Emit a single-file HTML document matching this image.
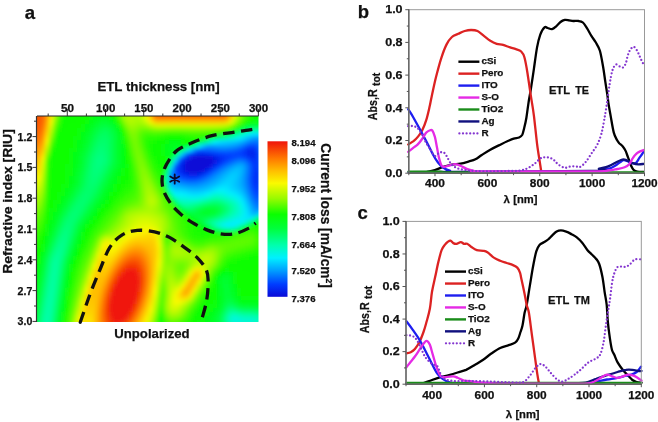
<!DOCTYPE html>
<html><head><meta charset="utf-8"><style>
html,body{margin:0;padding:0;background:#fff;}
svg{display:block;will-change:transform;}
text{font-family:"Liberation Sans",sans-serif;font-weight:bold;fill:#111;stroke:#111;stroke-width:0.25px;}
.ast{font-size:17px;font-weight:normal;}
</style></head><body>
<svg width="658" height="422" viewBox="0 0 658 422">
<defs>
<clipPath id="hc"><rect x="37" y="116" width="221.5" height="206"/></clipPath>
<filter id="bl" x="-5%" y="-5%" width="110%" height="110%"><feGaussianBlur stdDeviation="2.2"/></filter>
</defs>
<rect width="658" height="422" fill="#fff"/>
<g clip-path="url(#hc)"><g filter="url(#bl)"><rect x="29" y="108" width="4.5" height="4.5" fill="#f95303"/><rect x="33" y="108" width="4.5" height="4.5" fill="#f95303"/><rect x="37" y="108" width="4.5" height="4.5" fill="#f95403"/><rect x="41" y="108" width="4.5" height="4.5" fill="#fb6302"/><rect x="45" y="108" width="4.5" height="4.5" fill="#ff9500"/><rect x="49" y="108" width="4.5" height="4.5" fill="#fbe400"/><rect x="53" y="108" width="4.5" height="4.5" fill="#acfa00"/><rect x="57" y="108" width="4.5" height="4.5" fill="#4afc00"/><rect x="61" y="108" width="4.5" height="4.5" fill="#1afe00"/><rect x="65" y="108" width="4.5" height="4.5" fill="#0dfe00"/><rect x="69" y="108" width="4.5" height="4.5" fill="#0bfe00"/><rect x="73" y="108" width="4.5" height="4.5" fill="#0bfe00"/><rect x="77" y="108" width="4.5" height="4.5" fill="#0bfe00"/><rect x="81" y="108" width="4.5" height="4.5" fill="#09ff00"/><rect x="85" y="108" width="4.5" height="4.5" fill="#09ff02"/><rect x="89" y="108" width="4.5" height="4.5" fill="#09ff04"/><rect x="93" y="108" width="4.5" height="4.5" fill="#08ff08"/><rect x="97" y="108" width="4.5" height="4.5" fill="#08ff0a"/><rect x="101" y="108" width="4.5" height="4.5" fill="#08ff0b"/><rect x="105" y="108" width="4.5" height="4.5" fill="#08ff09"/><rect x="109" y="108" width="4.5" height="4.5" fill="#09ff02"/><rect x="113" y="108" width="4.5" height="4.5" fill="#2bfd00"/><rect x="117" y="108" width="4.5" height="4.5" fill="#64fb00"/><rect x="121" y="108" width="4.5" height="4.5" fill="#94fa00"/><rect x="125" y="108" width="4.5" height="4.5" fill="#9afa00"/><rect x="129" y="108" width="4.5" height="4.5" fill="#8afa00"/><rect x="133" y="108" width="4.5" height="4.5" fill="#7ffa00"/><rect x="137" y="108" width="4.5" height="4.5" fill="#89fa00"/><rect x="141" y="108" width="4.5" height="4.5" fill="#a3fa00"/><rect x="145" y="108" width="4.5" height="4.5" fill="#cefa00"/><rect x="149" y="108" width="4.5" height="4.5" fill="#fbe700"/><rect x="153" y="108" width="4.5" height="4.5" fill="#ffb300"/><rect x="157" y="108" width="4.5" height="4.5" fill="#ffa300"/><rect x="161" y="108" width="4.5" height="4.5" fill="#ffa400"/><rect x="165" y="108" width="4.5" height="4.5" fill="#ffa500"/><rect x="169" y="108" width="4.5" height="4.5" fill="#ffa600"/><rect x="173" y="108" width="4.5" height="4.5" fill="#ffa600"/><rect x="177" y="108" width="4.5" height="4.5" fill="#ffa600"/><rect x="181" y="108" width="4.5" height="4.5" fill="#ffa600"/><rect x="185" y="108" width="4.5" height="4.5" fill="#ffa600"/><rect x="189" y="108" width="4.5" height="4.5" fill="#ffa600"/><rect x="193" y="108" width="4.5" height="4.5" fill="#ffa600"/><rect x="197" y="108" width="4.5" height="4.5" fill="#ffa600"/><rect x="201" y="108" width="4.5" height="4.5" fill="#ffa600"/><rect x="205" y="108" width="4.5" height="4.5" fill="#ffa600"/><rect x="209" y="108" width="4.5" height="4.5" fill="#ffa600"/><rect x="213" y="108" width="4.5" height="4.5" fill="#ffa600"/><rect x="217" y="108" width="4.5" height="4.5" fill="#ffa600"/><rect x="221" y="108" width="4.5" height="4.5" fill="#ffa600"/><rect x="225" y="108" width="4.5" height="4.5" fill="#ffb800"/><rect x="229" y="108" width="4.5" height="4.5" fill="#fbec00"/><rect x="233" y="108" width="4.5" height="4.5" fill="#c2fa00"/><rect x="237" y="108" width="4.5" height="4.5" fill="#87fa00"/><rect x="241" y="108" width="4.5" height="4.5" fill="#57fc00"/><rect x="245" y="108" width="4.5" height="4.5" fill="#38fd00"/><rect x="249" y="108" width="4.5" height="4.5" fill="#23fe00"/><rect x="253" y="108" width="4.5" height="4.5" fill="#16fe00"/><rect x="257" y="108" width="4.5" height="4.5" fill="#0ffe00"/><rect x="261" y="108" width="4.5" height="4.5" fill="#0bfe00"/><rect x="265" y="108" width="4.5" height="4.5" fill="#0afe00"/><rect x="29" y="112" width="4.5" height="4.5" fill="#f95303"/><rect x="33" y="112" width="4.5" height="4.5" fill="#f95303"/><rect x="37" y="112" width="4.5" height="4.5" fill="#f95403"/><rect x="41" y="112" width="4.5" height="4.5" fill="#fb6302"/><rect x="45" y="112" width="4.5" height="4.5" fill="#ff9500"/><rect x="49" y="112" width="4.5" height="4.5" fill="#fbe400"/><rect x="53" y="112" width="4.5" height="4.5" fill="#acfa00"/><rect x="57" y="112" width="4.5" height="4.5" fill="#4afc00"/><rect x="61" y="112" width="4.5" height="4.5" fill="#1afe00"/><rect x="65" y="112" width="4.5" height="4.5" fill="#0efe00"/><rect x="69" y="112" width="4.5" height="4.5" fill="#0cfe00"/><rect x="73" y="112" width="4.5" height="4.5" fill="#0cfe00"/><rect x="77" y="112" width="4.5" height="4.5" fill="#0cfe00"/><rect x="81" y="112" width="4.5" height="4.5" fill="#09ff00"/><rect x="85" y="112" width="4.5" height="4.5" fill="#09ff03"/><rect x="89" y="112" width="4.5" height="4.5" fill="#08ff07"/><rect x="93" y="112" width="4.5" height="4.5" fill="#08ff0b"/><rect x="97" y="112" width="4.5" height="4.5" fill="#07ff10"/><rect x="101" y="112" width="4.5" height="4.5" fill="#07ff11"/><rect x="105" y="112" width="4.5" height="4.5" fill="#07ff0f"/><rect x="109" y="112" width="4.5" height="4.5" fill="#09ff05"/><rect x="113" y="112" width="4.5" height="4.5" fill="#24fe00"/><rect x="117" y="112" width="4.5" height="4.5" fill="#61fb00"/><rect x="121" y="112" width="4.5" height="4.5" fill="#9afa00"/><rect x="125" y="112" width="4.5" height="4.5" fill="#aefa00"/><rect x="129" y="112" width="4.5" height="4.5" fill="#a8fa00"/><rect x="133" y="112" width="4.5" height="4.5" fill="#a0fa00"/><rect x="137" y="112" width="4.5" height="4.5" fill="#a6fa00"/><rect x="141" y="112" width="4.5" height="4.5" fill="#c0fa00"/><rect x="145" y="112" width="4.5" height="4.5" fill="#f5fa00"/><rect x="149" y="112" width="4.5" height="4.5" fill="#ffbc00"/><rect x="153" y="112" width="4.5" height="4.5" fill="#fe7200"/><rect x="157" y="112" width="4.5" height="4.5" fill="#fb5d02"/><rect x="161" y="112" width="4.5" height="4.5" fill="#fb5f02"/><rect x="165" y="112" width="4.5" height="4.5" fill="#fb6002"/><rect x="169" y="112" width="4.5" height="4.5" fill="#fb6102"/><rect x="173" y="112" width="4.5" height="4.5" fill="#fb6102"/><rect x="177" y="112" width="4.5" height="4.5" fill="#fb6202"/><rect x="181" y="112" width="4.5" height="4.5" fill="#fb6202"/><rect x="185" y="112" width="4.5" height="4.5" fill="#fb6202"/><rect x="189" y="112" width="4.5" height="4.5" fill="#fb6202"/><rect x="193" y="112" width="4.5" height="4.5" fill="#fb6202"/><rect x="197" y="112" width="4.5" height="4.5" fill="#fb6202"/><rect x="201" y="112" width="4.5" height="4.5" fill="#fb6202"/><rect x="205" y="112" width="4.5" height="4.5" fill="#fb6202"/><rect x="209" y="112" width="4.5" height="4.5" fill="#fb6202"/><rect x="213" y="112" width="4.5" height="4.5" fill="#fb6202"/><rect x="217" y="112" width="4.5" height="4.5" fill="#fb6202"/><rect x="221" y="112" width="4.5" height="4.5" fill="#fb6202"/><rect x="225" y="112" width="4.5" height="4.5" fill="#ff7900"/><rect x="229" y="112" width="4.5" height="4.5" fill="#fec500"/><rect x="233" y="112" width="4.5" height="4.5" fill="#e2fa00"/><rect x="237" y="112" width="4.5" height="4.5" fill="#9dfa00"/><rect x="241" y="112" width="4.5" height="4.5" fill="#65fb00"/><rect x="245" y="112" width="4.5" height="4.5" fill="#3ffd00"/><rect x="249" y="112" width="4.5" height="4.5" fill="#27fd00"/><rect x="253" y="112" width="4.5" height="4.5" fill="#17fe00"/><rect x="257" y="112" width="4.5" height="4.5" fill="#0efe00"/><rect x="261" y="112" width="4.5" height="4.5" fill="#0afe00"/><rect x="265" y="112" width="4.5" height="4.5" fill="#09ff00"/><rect x="29" y="116" width="4.5" height="4.5" fill="#f95303"/><rect x="33" y="116" width="4.5" height="4.5" fill="#f95303"/><rect x="37" y="116" width="4.5" height="4.5" fill="#f95403"/><rect x="41" y="116" width="4.5" height="4.5" fill="#fc6401"/><rect x="45" y="116" width="4.5" height="4.5" fill="#ff9900"/><rect x="49" y="116" width="4.5" height="4.5" fill="#fbeb00"/><rect x="53" y="116" width="4.5" height="4.5" fill="#a2fa00"/><rect x="57" y="116" width="4.5" height="4.5" fill="#41fd00"/><rect x="61" y="116" width="4.5" height="4.5" fill="#17fe00"/><rect x="65" y="116" width="4.5" height="4.5" fill="#0dfe00"/><rect x="69" y="116" width="4.5" height="4.5" fill="#0cfe00"/><rect x="73" y="116" width="4.5" height="4.5" fill="#0cfe00"/><rect x="77" y="116" width="4.5" height="4.5" fill="#0bfe00"/><rect x="81" y="116" width="4.5" height="4.5" fill="#09ff01"/><rect x="85" y="116" width="4.5" height="4.5" fill="#08ff06"/><rect x="89" y="116" width="4.5" height="4.5" fill="#07ff0c"/><rect x="93" y="116" width="4.5" height="4.5" fill="#06ff13"/><rect x="97" y="116" width="4.5" height="4.5" fill="#05ff1a"/><rect x="101" y="116" width="4.5" height="4.5" fill="#05ff1d"/><rect x="105" y="116" width="4.5" height="4.5" fill="#05ff1b"/><rect x="109" y="116" width="4.5" height="4.5" fill="#07ff11"/><rect x="113" y="116" width="4.5" height="4.5" fill="#0dfe00"/><rect x="117" y="116" width="4.5" height="4.5" fill="#4bfc00"/><rect x="121" y="116" width="4.5" height="4.5" fill="#92fa00"/><rect x="125" y="116" width="4.5" height="4.5" fill="#b3fa00"/><rect x="129" y="116" width="4.5" height="4.5" fill="#b6fa00"/><rect x="133" y="116" width="4.5" height="4.5" fill="#aefa00"/><rect x="137" y="116" width="4.5" height="4.5" fill="#b0fa00"/><rect x="141" y="116" width="4.5" height="4.5" fill="#c5fa00"/><rect x="145" y="116" width="4.5" height="4.5" fill="#f4fa00"/><rect x="149" y="116" width="4.5" height="4.5" fill="#fec300"/><rect x="153" y="116" width="4.5" height="4.5" fill="#ff8000"/><rect x="157" y="116" width="4.5" height="4.5" fill="#fd6e00"/><rect x="161" y="116" width="4.5" height="4.5" fill="#fd7000"/><rect x="165" y="116" width="4.5" height="4.5" fill="#fe7100"/><rect x="169" y="116" width="4.5" height="4.5" fill="#fe7200"/><rect x="173" y="116" width="4.5" height="4.5" fill="#fe7300"/><rect x="177" y="116" width="4.5" height="4.5" fill="#fe7300"/><rect x="181" y="116" width="4.5" height="4.5" fill="#fe7300"/><rect x="185" y="116" width="4.5" height="4.5" fill="#fe7300"/><rect x="189" y="116" width="4.5" height="4.5" fill="#fe7300"/><rect x="193" y="116" width="4.5" height="4.5" fill="#fe7300"/><rect x="197" y="116" width="4.5" height="4.5" fill="#fe7400"/><rect x="201" y="116" width="4.5" height="4.5" fill="#fe7400"/><rect x="205" y="116" width="4.5" height="4.5" fill="#fe7400"/><rect x="209" y="116" width="4.5" height="4.5" fill="#fe7400"/><rect x="213" y="116" width="4.5" height="4.5" fill="#fe7400"/><rect x="217" y="116" width="4.5" height="4.5" fill="#fe7400"/><rect x="221" y="116" width="4.5" height="4.5" fill="#fe7400"/><rect x="225" y="116" width="4.5" height="4.5" fill="#ff8900"/><rect x="229" y="116" width="4.5" height="4.5" fill="#fdcd00"/><rect x="233" y="116" width="4.5" height="4.5" fill="#dcfa00"/><rect x="237" y="116" width="4.5" height="4.5" fill="#9afa00"/><rect x="241" y="116" width="4.5" height="4.5" fill="#61fb00"/><rect x="245" y="116" width="4.5" height="4.5" fill="#3afd00"/><rect x="249" y="116" width="4.5" height="4.5" fill="#1ffe00"/><rect x="253" y="116" width="4.5" height="4.5" fill="#0efe00"/><rect x="257" y="116" width="4.5" height="4.5" fill="#09ff02"/><rect x="261" y="116" width="4.5" height="4.5" fill="#09ff04"/><rect x="265" y="116" width="4.5" height="4.5" fill="#09ff04"/><rect x="29" y="120" width="4.5" height="4.5" fill="#f95503"/><rect x="33" y="120" width="4.5" height="4.5" fill="#f95503"/><rect x="37" y="120" width="4.5" height="4.5" fill="#fa5603"/><rect x="41" y="120" width="4.5" height="4.5" fill="#fc6901"/><rect x="45" y="120" width="4.5" height="4.5" fill="#ffa500"/><rect x="49" y="120" width="4.5" height="4.5" fill="#f8fa00"/><rect x="53" y="120" width="4.5" height="4.5" fill="#89fa00"/><rect x="57" y="120" width="4.5" height="4.5" fill="#30fd00"/><rect x="61" y="120" width="4.5" height="4.5" fill="#11fe00"/><rect x="65" y="120" width="4.5" height="4.5" fill="#0cfe00"/><rect x="69" y="120" width="4.5" height="4.5" fill="#0bfe00"/><rect x="73" y="120" width="4.5" height="4.5" fill="#0afe00"/><rect x="77" y="120" width="4.5" height="4.5" fill="#09ff01"/><rect x="81" y="120" width="4.5" height="4.5" fill="#09ff05"/><rect x="85" y="120" width="4.5" height="4.5" fill="#08ff0b"/><rect x="89" y="120" width="4.5" height="4.5" fill="#06ff14"/><rect x="93" y="120" width="4.5" height="4.5" fill="#04ff1f"/><rect x="97" y="120" width="4.5" height="4.5" fill="#03ff29"/><rect x="101" y="120" width="4.5" height="4.5" fill="#02ff2e"/><rect x="105" y="120" width="4.5" height="4.5" fill="#02ff2d"/><rect x="109" y="120" width="4.5" height="4.5" fill="#03ff24"/><rect x="113" y="120" width="4.5" height="4.5" fill="#07ff11"/><rect x="117" y="120" width="4.5" height="4.5" fill="#24fe00"/><rect x="121" y="120" width="4.5" height="4.5" fill="#70fb00"/><rect x="125" y="120" width="4.5" height="4.5" fill="#a5fa00"/><rect x="129" y="120" width="4.5" height="4.5" fill="#b2fa00"/><rect x="133" y="120" width="4.5" height="4.5" fill="#aafa00"/><rect x="137" y="120" width="4.5" height="4.5" fill="#a6fa00"/><rect x="141" y="120" width="4.5" height="4.5" fill="#b1fa00"/><rect x="145" y="120" width="4.5" height="4.5" fill="#cffa00"/><rect x="149" y="120" width="4.5" height="4.5" fill="#faf300"/><rect x="153" y="120" width="4.5" height="4.5" fill="#fdcd00"/><rect x="157" y="120" width="4.5" height="4.5" fill="#fec400"/><rect x="161" y="120" width="4.5" height="4.5" fill="#fec500"/><rect x="165" y="120" width="4.5" height="4.5" fill="#fec600"/><rect x="169" y="120" width="4.5" height="4.5" fill="#fec700"/><rect x="173" y="120" width="4.5" height="4.5" fill="#fec800"/><rect x="177" y="120" width="4.5" height="4.5" fill="#fec800"/><rect x="181" y="120" width="4.5" height="4.5" fill="#fec800"/><rect x="185" y="120" width="4.5" height="4.5" fill="#fec800"/><rect x="189" y="120" width="4.5" height="4.5" fill="#fec800"/><rect x="193" y="120" width="4.5" height="4.5" fill="#fec800"/><rect x="197" y="120" width="4.5" height="4.5" fill="#fec800"/><rect x="201" y="120" width="4.5" height="4.5" fill="#fec800"/><rect x="205" y="120" width="4.5" height="4.5" fill="#fec800"/><rect x="209" y="120" width="4.5" height="4.5" fill="#fec800"/><rect x="213" y="120" width="4.5" height="4.5" fill="#fec800"/><rect x="217" y="120" width="4.5" height="4.5" fill="#fec900"/><rect x="221" y="120" width="4.5" height="4.5" fill="#fdca00"/><rect x="225" y="120" width="4.5" height="4.5" fill="#fcd700"/><rect x="229" y="120" width="4.5" height="4.5" fill="#effa00"/><rect x="233" y="120" width="4.5" height="4.5" fill="#b0fa00"/><rect x="237" y="120" width="4.5" height="4.5" fill="#72fb00"/><rect x="241" y="120" width="4.5" height="4.5" fill="#3efd00"/><rect x="245" y="120" width="4.5" height="4.5" fill="#17fe00"/><rect x="249" y="120" width="4.5" height="4.5" fill="#08ff06"/><rect x="253" y="120" width="4.5" height="4.5" fill="#07ff0f"/><rect x="257" y="120" width="4.5" height="4.5" fill="#06ff13"/><rect x="261" y="120" width="4.5" height="4.5" fill="#06ff13"/><rect x="265" y="120" width="4.5" height="4.5" fill="#07ff11"/><rect x="29" y="124" width="4.5" height="4.5" fill="#fa5a02"/><rect x="33" y="124" width="4.5" height="4.5" fill="#fa5a02"/><rect x="37" y="124" width="4.5" height="4.5" fill="#fa5a02"/><rect x="41" y="124" width="4.5" height="4.5" fill="#fd7000"/><rect x="45" y="124" width="4.5" height="4.5" fill="#ffb300"/><rect x="49" y="124" width="4.5" height="4.5" fill="#e0fa00"/><rect x="53" y="124" width="4.5" height="4.5" fill="#6bfb00"/><rect x="57" y="124" width="4.5" height="4.5" fill="#21fe00"/><rect x="61" y="124" width="4.5" height="4.5" fill="#0dfe00"/><rect x="65" y="124" width="4.5" height="4.5" fill="#0afe00"/><rect x="69" y="124" width="4.5" height="4.5" fill="#09ff00"/><rect x="73" y="124" width="4.5" height="4.5" fill="#09ff01"/><rect x="77" y="124" width="4.5" height="4.5" fill="#09ff04"/><rect x="81" y="124" width="4.5" height="4.5" fill="#08ff09"/><rect x="85" y="124" width="4.5" height="4.5" fill="#06ff12"/><rect x="89" y="124" width="4.5" height="4.5" fill="#05ff1d"/><rect x="93" y="124" width="4.5" height="4.5" fill="#02ff2a"/><rect x="97" y="124" width="4.5" height="4.5" fill="#00ff37"/><rect x="101" y="124" width="4.5" height="4.5" fill="#00ff41"/><rect x="105" y="124" width="4.5" height="4.5" fill="#00ff41"/><rect x="109" y="124" width="4.5" height="4.5" fill="#00ff36"/><rect x="113" y="124" width="4.5" height="4.5" fill="#03ff24"/><rect x="117" y="124" width="4.5" height="4.5" fill="#08ff08"/><rect x="121" y="124" width="4.5" height="4.5" fill="#43fc00"/><rect x="125" y="124" width="4.5" height="4.5" fill="#88fa00"/><rect x="129" y="124" width="4.5" height="4.5" fill="#a2fa00"/><rect x="133" y="124" width="4.5" height="4.5" fill="#9cfa00"/><rect x="137" y="124" width="4.5" height="4.5" fill="#90fa00"/><rect x="141" y="124" width="4.5" height="4.5" fill="#8ffa00"/><rect x="145" y="124" width="4.5" height="4.5" fill="#9cfa00"/><rect x="149" y="124" width="4.5" height="4.5" fill="#b4fa00"/><rect x="153" y="124" width="4.5" height="4.5" fill="#cbfa00"/><rect x="157" y="124" width="4.5" height="4.5" fill="#d1fa00"/><rect x="161" y="124" width="4.5" height="4.5" fill="#cffa00"/><rect x="165" y="124" width="4.5" height="4.5" fill="#cefa00"/><rect x="169" y="124" width="4.5" height="4.5" fill="#ccfa00"/><rect x="173" y="124" width="4.5" height="4.5" fill="#cbfa00"/><rect x="177" y="124" width="4.5" height="4.5" fill="#cbfa00"/><rect x="181" y="124" width="4.5" height="4.5" fill="#ccfa00"/><rect x="185" y="124" width="4.5" height="4.5" fill="#cdfa00"/><rect x="189" y="124" width="4.5" height="4.5" fill="#cdfa00"/><rect x="193" y="124" width="4.5" height="4.5" fill="#cefa00"/><rect x="197" y="124" width="4.5" height="4.5" fill="#cefa00"/><rect x="201" y="124" width="4.5" height="4.5" fill="#cdfa00"/><rect x="205" y="124" width="4.5" height="4.5" fill="#cdfa00"/><rect x="209" y="124" width="4.5" height="4.5" fill="#ccfa00"/><rect x="213" y="124" width="4.5" height="4.5" fill="#cafa00"/><rect x="217" y="124" width="4.5" height="4.5" fill="#c7fa00"/><rect x="221" y="124" width="4.5" height="4.5" fill="#c2fa00"/><rect x="225" y="124" width="4.5" height="4.5" fill="#b4fa00"/><rect x="229" y="124" width="4.5" height="4.5" fill="#8efa00"/><rect x="233" y="124" width="4.5" height="4.5" fill="#53fc00"/><rect x="237" y="124" width="4.5" height="4.5" fill="#1afe00"/><rect x="241" y="124" width="4.5" height="4.5" fill="#07ff0f"/><rect x="245" y="124" width="4.5" height="4.5" fill="#04ff22"/><rect x="249" y="124" width="4.5" height="4.5" fill="#01ff30"/><rect x="253" y="124" width="4.5" height="4.5" fill="#00ff36"/><rect x="257" y="124" width="4.5" height="4.5" fill="#00ff36"/><rect x="261" y="124" width="4.5" height="4.5" fill="#01ff31"/><rect x="265" y="124" width="4.5" height="4.5" fill="#03ff29"/><rect x="29" y="128" width="4.5" height="4.5" fill="#fb6002"/><rect x="33" y="128" width="4.5" height="4.5" fill="#fb6002"/><rect x="37" y="128" width="4.5" height="4.5" fill="#fb6102"/><rect x="41" y="128" width="4.5" height="4.5" fill="#ff7900"/><rect x="45" y="128" width="4.5" height="4.5" fill="#fec300"/><rect x="49" y="128" width="4.5" height="4.5" fill="#c6fa00"/><rect x="53" y="128" width="4.5" height="4.5" fill="#50fc00"/><rect x="57" y="128" width="4.5" height="4.5" fill="#17fe00"/><rect x="61" y="128" width="4.5" height="4.5" fill="#0afe00"/><rect x="65" y="128" width="4.5" height="4.5" fill="#09ff00"/><rect x="69" y="128" width="4.5" height="4.5" fill="#09ff01"/><rect x="73" y="128" width="4.5" height="4.5" fill="#09ff03"/><rect x="77" y="128" width="4.5" height="4.5" fill="#08ff08"/><rect x="81" y="128" width="4.5" height="4.5" fill="#07ff0f"/><rect x="85" y="128" width="4.5" height="4.5" fill="#05ff19"/><rect x="89" y="128" width="4.5" height="4.5" fill="#03ff27"/><rect x="93" y="128" width="4.5" height="4.5" fill="#01ff35"/><rect x="97" y="128" width="4.5" height="4.5" fill="#00ff46"/><rect x="101" y="128" width="4.5" height="4.5" fill="#00ff52"/><rect x="105" y="128" width="4.5" height="4.5" fill="#00ff52"/><rect x="109" y="128" width="4.5" height="4.5" fill="#00ff44"/><rect x="113" y="128" width="4.5" height="4.5" fill="#01ff30"/><rect x="117" y="128" width="4.5" height="4.5" fill="#06ff17"/><rect x="121" y="128" width="4.5" height="4.5" fill="#1ffe00"/><rect x="125" y="128" width="4.5" height="4.5" fill="#67fb00"/><rect x="129" y="128" width="4.5" height="4.5" fill="#8ffa00"/><rect x="133" y="128" width="4.5" height="4.5" fill="#8bfa00"/><rect x="137" y="128" width="4.5" height="4.5" fill="#74fb00"/><rect x="141" y="128" width="4.5" height="4.5" fill="#66fb00"/><rect x="145" y="128" width="4.5" height="4.5" fill="#65fb00"/><rect x="149" y="128" width="4.5" height="4.5" fill="#6efb00"/><rect x="153" y="128" width="4.5" height="4.5" fill="#78fb00"/><rect x="157" y="128" width="4.5" height="4.5" fill="#7afa00"/><rect x="161" y="128" width="4.5" height="4.5" fill="#77fb00"/><rect x="165" y="128" width="4.5" height="4.5" fill="#73fb00"/><rect x="169" y="128" width="4.5" height="4.5" fill="#70fb00"/><rect x="173" y="128" width="4.5" height="4.5" fill="#6efb00"/><rect x="177" y="128" width="4.5" height="4.5" fill="#6ffb00"/><rect x="181" y="128" width="4.5" height="4.5" fill="#72fb00"/><rect x="185" y="128" width="4.5" height="4.5" fill="#75fb00"/><rect x="189" y="128" width="4.5" height="4.5" fill="#77fb00"/><rect x="193" y="128" width="4.5" height="4.5" fill="#78fb00"/><rect x="197" y="128" width="4.5" height="4.5" fill="#78fb00"/><rect x="201" y="128" width="4.5" height="4.5" fill="#77fb00"/><rect x="205" y="128" width="4.5" height="4.5" fill="#75fb00"/><rect x="209" y="128" width="4.5" height="4.5" fill="#71fb00"/><rect x="213" y="128" width="4.5" height="4.5" fill="#6bfb00"/><rect x="217" y="128" width="4.5" height="4.5" fill="#60fb00"/><rect x="221" y="128" width="4.5" height="4.5" fill="#4ffc00"/><rect x="225" y="128" width="4.5" height="4.5" fill="#33fd00"/><rect x="229" y="128" width="4.5" height="4.5" fill="#09ff00"/><rect x="233" y="128" width="4.5" height="4.5" fill="#05ff18"/><rect x="237" y="128" width="4.5" height="4.5" fill="#01ff32"/><rect x="241" y="128" width="4.5" height="4.5" fill="#00ff52"/><rect x="245" y="128" width="4.5" height="4.5" fill="#00ff74"/><rect x="249" y="128" width="4.5" height="4.5" fill="#00ff8e"/><rect x="253" y="128" width="4.5" height="4.5" fill="#00ff98"/><rect x="257" y="128" width="4.5" height="4.5" fill="#00ff8f"/><rect x="261" y="128" width="4.5" height="4.5" fill="#00ff85"/><rect x="265" y="128" width="4.5" height="4.5" fill="#00ff7c"/><rect x="29" y="132" width="4.5" height="4.5" fill="#fc6701"/><rect x="33" y="132" width="4.5" height="4.5" fill="#fc6701"/><rect x="37" y="132" width="4.5" height="4.5" fill="#fc6901"/><rect x="41" y="132" width="4.5" height="4.5" fill="#ff8400"/><rect x="45" y="132" width="4.5" height="4.5" fill="#fdd500"/><rect x="49" y="132" width="4.5" height="4.5" fill="#aafa00"/><rect x="53" y="132" width="4.5" height="4.5" fill="#38fd00"/><rect x="57" y="132" width="4.5" height="4.5" fill="#0ffe00"/><rect x="61" y="132" width="4.5" height="4.5" fill="#09ff00"/><rect x="65" y="132" width="4.5" height="4.5" fill="#09ff01"/><rect x="69" y="132" width="4.5" height="4.5" fill="#09ff02"/><rect x="73" y="132" width="4.5" height="4.5" fill="#09ff05"/><rect x="77" y="132" width="4.5" height="4.5" fill="#08ff0b"/><rect x="81" y="132" width="4.5" height="4.5" fill="#06ff14"/><rect x="85" y="132" width="4.5" height="4.5" fill="#04ff20"/><rect x="89" y="132" width="4.5" height="4.5" fill="#02ff2f"/><rect x="93" y="132" width="4.5" height="4.5" fill="#00ff40"/><rect x="97" y="132" width="4.5" height="4.5" fill="#00ff54"/><rect x="101" y="132" width="4.5" height="4.5" fill="#00ff5f"/><rect x="105" y="132" width="4.5" height="4.5" fill="#00ff5d"/><rect x="109" y="132" width="4.5" height="4.5" fill="#00ff4e"/><rect x="113" y="132" width="4.5" height="4.5" fill="#00ff37"/><rect x="117" y="132" width="4.5" height="4.5" fill="#04ff20"/><rect x="121" y="132" width="4.5" height="4.5" fill="#09ff01"/><rect x="125" y="132" width="4.5" height="4.5" fill="#4dfc00"/><rect x="129" y="132" width="4.5" height="4.5" fill="#7dfa00"/><rect x="133" y="132" width="4.5" height="4.5" fill="#80fa00"/><rect x="137" y="132" width="4.5" height="4.5" fill="#64fb00"/><rect x="141" y="132" width="4.5" height="4.5" fill="#4bfc00"/><rect x="145" y="132" width="4.5" height="4.5" fill="#3ffd00"/><rect x="149" y="132" width="4.5" height="4.5" fill="#3efd00"/><rect x="153" y="132" width="4.5" height="4.5" fill="#3ffd00"/><rect x="157" y="132" width="4.5" height="4.5" fill="#3efd00"/><rect x="161" y="132" width="4.5" height="4.5" fill="#39fd00"/><rect x="165" y="132" width="4.5" height="4.5" fill="#32fd00"/><rect x="169" y="132" width="4.5" height="4.5" fill="#2cfd00"/><rect x="173" y="132" width="4.5" height="4.5" fill="#29fd00"/><rect x="177" y="132" width="4.5" height="4.5" fill="#2bfd00"/><rect x="181" y="132" width="4.5" height="4.5" fill="#31fd00"/><rect x="185" y="132" width="4.5" height="4.5" fill="#38fd00"/><rect x="189" y="132" width="4.5" height="4.5" fill="#3cfd00"/><rect x="193" y="132" width="4.5" height="4.5" fill="#3dfd00"/><rect x="197" y="132" width="4.5" height="4.5" fill="#3dfd00"/><rect x="201" y="132" width="4.5" height="4.5" fill="#3bfd00"/><rect x="205" y="132" width="4.5" height="4.5" fill="#37fd00"/><rect x="209" y="132" width="4.5" height="4.5" fill="#30fd00"/><rect x="213" y="132" width="4.5" height="4.5" fill="#24fe00"/><rect x="217" y="132" width="4.5" height="4.5" fill="#11fe00"/><rect x="221" y="132" width="4.5" height="4.5" fill="#07ff0c"/><rect x="225" y="132" width="4.5" height="4.5" fill="#04ff23"/><rect x="229" y="132" width="4.5" height="4.5" fill="#00ff40"/><rect x="233" y="132" width="4.5" height="4.5" fill="#00ff6e"/><rect x="237" y="132" width="4.5" height="4.5" fill="#00ff9c"/><rect x="241" y="132" width="4.5" height="4.5" fill="#00fbc3"/><rect x="245" y="132" width="4.5" height="4.5" fill="#00f5e2"/><rect x="249" y="132" width="4.5" height="4.5" fill="#00f0fb"/><rect x="253" y="132" width="4.5" height="4.5" fill="#00e4ff"/><rect x="257" y="132" width="4.5" height="4.5" fill="#00e6ff"/><rect x="261" y="132" width="4.5" height="4.5" fill="#00e6ff"/><rect x="265" y="132" width="4.5" height="4.5" fill="#00ff85"/><rect x="29" y="136" width="4.5" height="4.5" fill="#fe7100"/><rect x="33" y="136" width="4.5" height="4.5" fill="#fe7100"/><rect x="37" y="136" width="4.5" height="4.5" fill="#fe7200"/><rect x="41" y="136" width="4.5" height="4.5" fill="#ff9200"/><rect x="45" y="136" width="4.5" height="4.5" fill="#fbe900"/><rect x="49" y="136" width="4.5" height="4.5" fill="#8cfa00"/><rect x="53" y="136" width="4.5" height="4.5" fill="#25fe00"/><rect x="57" y="136" width="4.5" height="4.5" fill="#0bfe00"/><rect x="61" y="136" width="4.5" height="4.5" fill="#09ff00"/><rect x="65" y="136" width="4.5" height="4.5" fill="#09ff01"/><rect x="69" y="136" width="4.5" height="4.5" fill="#09ff04"/><rect x="73" y="136" width="4.5" height="4.5" fill="#08ff08"/><rect x="77" y="136" width="4.5" height="4.5" fill="#07ff0e"/><rect x="81" y="136" width="4.5" height="4.5" fill="#05ff18"/><rect x="85" y="136" width="4.5" height="4.5" fill="#03ff26"/><rect x="89" y="136" width="4.5" height="4.5" fill="#01ff35"/><rect x="93" y="136" width="4.5" height="4.5" fill="#00ff4b"/><rect x="97" y="136" width="4.5" height="4.5" fill="#00ff5e"/><rect x="101" y="136" width="4.5" height="4.5" fill="#00ff67"/><rect x="105" y="136" width="4.5" height="4.5" fill="#00ff63"/><rect x="109" y="136" width="4.5" height="4.5" fill="#00ff52"/><rect x="113" y="136" width="4.5" height="4.5" fill="#00ff3a"/><rect x="117" y="136" width="4.5" height="4.5" fill="#03ff24"/><rect x="121" y="136" width="4.5" height="4.5" fill="#08ff09"/><rect x="125" y="136" width="4.5" height="4.5" fill="#39fd00"/><rect x="129" y="136" width="4.5" height="4.5" fill="#6ffb00"/><rect x="133" y="136" width="4.5" height="4.5" fill="#7afa00"/><rect x="137" y="136" width="4.5" height="4.5" fill="#5ffb00"/><rect x="141" y="136" width="4.5" height="4.5" fill="#3efd00"/><rect x="145" y="136" width="4.5" height="4.5" fill="#2bfd00"/><rect x="149" y="136" width="4.5" height="4.5" fill="#25fe00"/><rect x="153" y="136" width="4.5" height="4.5" fill="#23fe00"/><rect x="157" y="136" width="4.5" height="4.5" fill="#1ffe00"/><rect x="161" y="136" width="4.5" height="4.5" fill="#17fe00"/><rect x="165" y="136" width="4.5" height="4.5" fill="#0cfe00"/><rect x="169" y="136" width="4.5" height="4.5" fill="#09ff04"/><rect x="173" y="136" width="4.5" height="4.5" fill="#08ff06"/><rect x="177" y="136" width="4.5" height="4.5" fill="#09ff04"/><rect x="181" y="136" width="4.5" height="4.5" fill="#0bfe00"/><rect x="185" y="136" width="4.5" height="4.5" fill="#16fe00"/><rect x="189" y="136" width="4.5" height="4.5" fill="#1dfe00"/><rect x="193" y="136" width="4.5" height="4.5" fill="#20fe00"/><rect x="197" y="136" width="4.5" height="4.5" fill="#20fe00"/><rect x="201" y="136" width="4.5" height="4.5" fill="#1efe00"/><rect x="205" y="136" width="4.5" height="4.5" fill="#09ff04"/><rect x="209" y="136" width="4.5" height="4.5" fill="#04ff1f"/><rect x="213" y="136" width="4.5" height="4.5" fill="#00ff3e"/><rect x="217" y="136" width="4.5" height="4.5" fill="#00ff66"/><rect x="221" y="136" width="4.5" height="4.5" fill="#00ff89"/><rect x="225" y="136" width="4.5" height="4.5" fill="#00ffa7"/><rect x="229" y="136" width="4.5" height="4.5" fill="#00fbc2"/><rect x="233" y="136" width="4.5" height="4.5" fill="#00f6db"/><rect x="237" y="136" width="4.5" height="4.5" fill="#00f1f4"/><rect x="241" y="136" width="4.5" height="4.5" fill="#00dfff"/><rect x="245" y="136" width="4.5" height="4.5" fill="#00c2ff"/><rect x="249" y="136" width="4.5" height="4.5" fill="#00a9ff"/><rect x="253" y="136" width="4.5" height="4.5" fill="#009aff"/><rect x="257" y="136" width="4.5" height="4.5" fill="#0096ff"/><rect x="261" y="136" width="4.5" height="4.5" fill="#00c9ff"/><rect x="265" y="136" width="4.5" height="4.5" fill="#00ff70"/><rect x="29" y="140" width="4.5" height="4.5" fill="#ff7c00"/><rect x="33" y="140" width="4.5" height="4.5" fill="#ff7c00"/><rect x="37" y="140" width="4.5" height="4.5" fill="#ff7e00"/><rect x="41" y="140" width="4.5" height="4.5" fill="#ffa200"/><rect x="45" y="140" width="4.5" height="4.5" fill="#f2fa00"/><rect x="49" y="140" width="4.5" height="4.5" fill="#67fb00"/><rect x="53" y="140" width="4.5" height="4.5" fill="#17fe00"/><rect x="57" y="140" width="4.5" height="4.5" fill="#09ff00"/><rect x="61" y="140" width="4.5" height="4.5" fill="#09ff01"/><rect x="65" y="140" width="4.5" height="4.5" fill="#09ff02"/><rect x="69" y="140" width="4.5" height="4.5" fill="#09ff05"/><rect x="73" y="140" width="4.5" height="4.5" fill="#08ff0a"/><rect x="77" y="140" width="4.5" height="4.5" fill="#06ff12"/><rect x="81" y="140" width="4.5" height="4.5" fill="#05ff1d"/><rect x="85" y="140" width="4.5" height="4.5" fill="#02ff2b"/><rect x="89" y="140" width="4.5" height="4.5" fill="#00ff3c"/><rect x="93" y="140" width="4.5" height="4.5" fill="#00ff54"/><rect x="97" y="140" width="4.5" height="4.5" fill="#00ff66"/><rect x="101" y="140" width="4.5" height="4.5" fill="#00ff6d"/><rect x="105" y="140" width="4.5" height="4.5" fill="#00ff66"/><rect x="109" y="140" width="4.5" height="4.5" fill="#00ff54"/><rect x="113" y="140" width="4.5" height="4.5" fill="#00ff3a"/><rect x="117" y="140" width="4.5" height="4.5" fill="#03ff26"/><rect x="121" y="140" width="4.5" height="4.5" fill="#07ff0e"/><rect x="125" y="140" width="4.5" height="4.5" fill="#28fd00"/><rect x="129" y="140" width="4.5" height="4.5" fill="#62fb00"/><rect x="133" y="140" width="4.5" height="4.5" fill="#78fb00"/><rect x="137" y="140" width="4.5" height="4.5" fill="#62fb00"/><rect x="141" y="140" width="4.5" height="4.5" fill="#3dfd00"/><rect x="145" y="140" width="4.5" height="4.5" fill="#24fe00"/><rect x="149" y="140" width="4.5" height="4.5" fill="#1afe00"/><rect x="153" y="140" width="4.5" height="4.5" fill="#15fe00"/><rect x="157" y="140" width="4.5" height="4.5" fill="#10fe00"/><rect x="161" y="140" width="4.5" height="4.5" fill="#09ff02"/><rect x="165" y="140" width="4.5" height="4.5" fill="#08ff0a"/><rect x="169" y="140" width="4.5" height="4.5" fill="#06ff12"/><rect x="173" y="140" width="4.5" height="4.5" fill="#06ff16"/><rect x="177" y="140" width="4.5" height="4.5" fill="#06ff13"/><rect x="181" y="140" width="4.5" height="4.5" fill="#08ff0b"/><rect x="185" y="140" width="4.5" height="4.5" fill="#09ff03"/><rect x="189" y="140" width="4.5" height="4.5" fill="#0dfe00"/><rect x="193" y="140" width="4.5" height="4.5" fill="#09ff01"/><rect x="197" y="140" width="4.5" height="4.5" fill="#04ff1e"/><rect x="201" y="140" width="4.5" height="4.5" fill="#00ff52"/><rect x="205" y="140" width="4.5" height="4.5" fill="#00ff99"/><rect x="209" y="140" width="4.5" height="4.5" fill="#00f8d3"/><rect x="213" y="140" width="4.5" height="4.5" fill="#00f1f8"/><rect x="217" y="140" width="4.5" height="4.5" fill="#00e1ff"/><rect x="221" y="140" width="4.5" height="4.5" fill="#00d6ff"/><rect x="225" y="140" width="4.5" height="4.5" fill="#00cfff"/><rect x="229" y="140" width="4.5" height="4.5" fill="#00caff"/><rect x="233" y="140" width="4.5" height="4.5" fill="#00c4ff"/><rect x="237" y="140" width="4.5" height="4.5" fill="#00b9ff"/><rect x="241" y="140" width="4.5" height="4.5" fill="#00a7ff"/><rect x="245" y="140" width="4.5" height="4.5" fill="#008dff"/><rect x="249" y="140" width="4.5" height="4.5" fill="#0077ff"/><rect x="253" y="140" width="4.5" height="4.5" fill="#0070ff"/><rect x="257" y="140" width="4.5" height="4.5" fill="#0077ff"/><rect x="261" y="140" width="4.5" height="4.5" fill="#00c1ff"/><rect x="265" y="140" width="4.5" height="4.5" fill="#00ff5a"/><rect x="29" y="144" width="4.5" height="4.5" fill="#ff8800"/><rect x="33" y="144" width="4.5" height="4.5" fill="#ff8800"/><rect x="37" y="144" width="4.5" height="4.5" fill="#ff8a00"/><rect x="41" y="144" width="4.5" height="4.5" fill="#ffb500"/><rect x="45" y="144" width="4.5" height="4.5" fill="#d2fa00"/><rect x="49" y="144" width="4.5" height="4.5" fill="#46fc00"/><rect x="53" y="144" width="4.5" height="4.5" fill="#0ffe00"/><rect x="57" y="144" width="4.5" height="4.5" fill="#09ff00"/><rect x="61" y="144" width="4.5" height="4.5" fill="#09ff01"/><rect x="65" y="144" width="4.5" height="4.5" fill="#09ff03"/><rect x="69" y="144" width="4.5" height="4.5" fill="#08ff06"/><rect x="73" y="144" width="4.5" height="4.5" fill="#07ff0c"/><rect x="77" y="144" width="4.5" height="4.5" fill="#06ff15"/><rect x="81" y="144" width="4.5" height="4.5" fill="#04ff22"/><rect x="85" y="144" width="4.5" height="4.5" fill="#01ff31"/><rect x="89" y="144" width="4.5" height="4.5" fill="#00ff46"/><rect x="93" y="144" width="4.5" height="4.5" fill="#00ff5e"/><rect x="97" y="144" width="4.5" height="4.5" fill="#00ff6e"/><rect x="101" y="144" width="4.5" height="4.5" fill="#00ff72"/><rect x="105" y="144" width="4.5" height="4.5" fill="#00ff69"/><rect x="109" y="144" width="4.5" height="4.5" fill="#00ff55"/><rect x="113" y="144" width="4.5" height="4.5" fill="#00ff3b"/><rect x="117" y="144" width="4.5" height="4.5" fill="#03ff27"/><rect x="121" y="144" width="4.5" height="4.5" fill="#06ff12"/><rect x="125" y="144" width="4.5" height="4.5" fill="#1bfe00"/><rect x="129" y="144" width="4.5" height="4.5" fill="#55fc00"/><rect x="133" y="144" width="4.5" height="4.5" fill="#76fb00"/><rect x="137" y="144" width="4.5" height="4.5" fill="#6afb00"/><rect x="141" y="144" width="4.5" height="4.5" fill="#44fc00"/><rect x="145" y="144" width="4.5" height="4.5" fill="#24fe00"/><rect x="149" y="144" width="4.5" height="4.5" fill="#16fe00"/><rect x="153" y="144" width="4.5" height="4.5" fill="#10fe00"/><rect x="157" y="144" width="4.5" height="4.5" fill="#09ff00"/><rect x="161" y="144" width="4.5" height="4.5" fill="#08ff07"/><rect x="165" y="144" width="4.5" height="4.5" fill="#06ff12"/><rect x="169" y="144" width="4.5" height="4.5" fill="#05ff1c"/><rect x="173" y="144" width="4.5" height="4.5" fill="#04ff21"/><rect x="177" y="144" width="4.5" height="4.5" fill="#05ff1c"/><rect x="181" y="144" width="4.5" height="4.5" fill="#06ff12"/><rect x="185" y="144" width="4.5" height="4.5" fill="#06ff17"/><rect x="189" y="144" width="4.5" height="4.5" fill="#00ff39"/><rect x="193" y="144" width="4.5" height="4.5" fill="#00ff8c"/><rect x="197" y="144" width="4.5" height="4.5" fill="#00f5e2"/><rect x="201" y="144" width="4.5" height="4.5" fill="#00c6ff"/><rect x="205" y="144" width="4.5" height="4.5" fill="#009fff"/><rect x="209" y="144" width="4.5" height="4.5" fill="#0099ff"/><rect x="213" y="144" width="4.5" height="4.5" fill="#009fff"/><rect x="217" y="144" width="4.5" height="4.5" fill="#00a3ff"/><rect x="221" y="144" width="4.5" height="4.5" fill="#00a5ff"/><rect x="225" y="144" width="4.5" height="4.5" fill="#00a3ff"/><rect x="229" y="144" width="4.5" height="4.5" fill="#009dff"/><rect x="233" y="144" width="4.5" height="4.5" fill="#0094ff"/><rect x="237" y="144" width="4.5" height="4.5" fill="#0085ff"/><rect x="241" y="144" width="4.5" height="4.5" fill="#006fff"/><rect x="245" y="144" width="4.5" height="4.5" fill="#0051ff"/><rect x="249" y="144" width="4.5" height="4.5" fill="#003fff"/><rect x="253" y="144" width="4.5" height="4.5" fill="#0046ff"/><rect x="257" y="144" width="4.5" height="4.5" fill="#005cff"/><rect x="261" y="144" width="4.5" height="4.5" fill="#00b8ff"/><rect x="265" y="144" width="4.5" height="4.5" fill="#00ff4f"/><rect x="29" y="148" width="4.5" height="4.5" fill="#ff9600"/><rect x="33" y="148" width="4.5" height="4.5" fill="#ff9600"/><rect x="37" y="148" width="4.5" height="4.5" fill="#ff9800"/><rect x="41" y="148" width="4.5" height="4.5" fill="#fec800"/><rect x="45" y="148" width="4.5" height="4.5" fill="#b0fa00"/><rect x="49" y="148" width="4.5" height="4.5" fill="#2cfd00"/><rect x="53" y="148" width="4.5" height="4.5" fill="#0bfe00"/><rect x="57" y="148" width="4.5" height="4.5" fill="#09ff00"/><rect x="61" y="148" width="4.5" height="4.5" fill="#09ff02"/><rect x="65" y="148" width="4.5" height="4.5" fill="#09ff04"/><rect x="69" y="148" width="4.5" height="4.5" fill="#08ff08"/><rect x="73" y="148" width="4.5" height="4.5" fill="#07ff0f"/><rect x="77" y="148" width="4.5" height="4.5" fill="#05ff1a"/><rect x="81" y="148" width="4.5" height="4.5" fill="#03ff27"/><rect x="85" y="148" width="4.5" height="4.5" fill="#00ff38"/><rect x="89" y="148" width="4.5" height="4.5" fill="#00ff50"/><rect x="93" y="148" width="4.5" height="4.5" fill="#00ff66"/><rect x="97" y="148" width="4.5" height="4.5" fill="#00ff74"/><rect x="101" y="148" width="4.5" height="4.5" fill="#00ff76"/><rect x="105" y="148" width="4.5" height="4.5" fill="#00ff6b"/><rect x="109" y="148" width="4.5" height="4.5" fill="#00ff55"/><rect x="113" y="148" width="4.5" height="4.5" fill="#00ff3a"/><rect x="117" y="148" width="4.5" height="4.5" fill="#03ff28"/><rect x="121" y="148" width="4.5" height="4.5" fill="#06ff14"/><rect x="125" y="148" width="4.5" height="4.5" fill="#0ffe00"/><rect x="129" y="148" width="4.5" height="4.5" fill="#49fc00"/><rect x="133" y="148" width="4.5" height="4.5" fill="#73fb00"/><rect x="137" y="148" width="4.5" height="4.5" fill="#72fb00"/><rect x="141" y="148" width="4.5" height="4.5" fill="#4ffc00"/><rect x="145" y="148" width="4.5" height="4.5" fill="#2bfd00"/><rect x="149" y="148" width="4.5" height="4.5" fill="#17fe00"/><rect x="153" y="148" width="4.5" height="4.5" fill="#0efe00"/><rect x="157" y="148" width="4.5" height="4.5" fill="#09ff01"/><rect x="161" y="148" width="4.5" height="4.5" fill="#08ff09"/><rect x="165" y="148" width="4.5" height="4.5" fill="#06ff14"/><rect x="169" y="148" width="4.5" height="4.5" fill="#04ff20"/><rect x="173" y="148" width="4.5" height="4.5" fill="#03ff24"/><rect x="177" y="148" width="4.5" height="4.5" fill="#02ff2a"/><rect x="181" y="148" width="4.5" height="4.5" fill="#00ff61"/><rect x="185" y="148" width="4.5" height="4.5" fill="#00fbbf"/><rect x="189" y="148" width="4.5" height="4.5" fill="#00d1ff"/><rect x="193" y="148" width="4.5" height="4.5" fill="#0080ff"/><rect x="197" y="148" width="4.5" height="4.5" fill="#0058ff"/><rect x="201" y="148" width="4.5" height="4.5" fill="#0059ff"/><rect x="205" y="148" width="4.5" height="4.5" fill="#005eff"/><rect x="209" y="148" width="4.5" height="4.5" fill="#0065ff"/><rect x="213" y="148" width="4.5" height="4.5" fill="#006bff"/><rect x="217" y="148" width="4.5" height="4.5" fill="#0070ff"/><rect x="221" y="148" width="4.5" height="4.5" fill="#0071ff"/><rect x="225" y="148" width="4.5" height="4.5" fill="#006eff"/><rect x="229" y="148" width="4.5" height="4.5" fill="#0069ff"/><rect x="233" y="148" width="4.5" height="4.5" fill="#0060ff"/><rect x="237" y="148" width="4.5" height="4.5" fill="#0054ff"/><rect x="241" y="148" width="4.5" height="4.5" fill="#0040ff"/><rect x="245" y="148" width="4.5" height="4.5" fill="#022ff4"/><rect x="249" y="148" width="4.5" height="4.5" fill="#0426ed"/><rect x="253" y="148" width="4.5" height="4.5" fill="#022ff5"/><rect x="257" y="148" width="4.5" height="4.5" fill="#0048ff"/><rect x="261" y="148" width="4.5" height="4.5" fill="#00b1ff"/><rect x="265" y="148" width="4.5" height="4.5" fill="#00ff4d"/><rect x="29" y="152" width="4.5" height="4.5" fill="#ffa400"/><rect x="33" y="152" width="4.5" height="4.5" fill="#ffa400"/><rect x="37" y="152" width="4.5" height="4.5" fill="#ffa600"/><rect x="41" y="152" width="4.5" height="4.5" fill="#fcdd00"/><rect x="45" y="152" width="4.5" height="4.5" fill="#8bfa00"/><rect x="49" y="152" width="4.5" height="4.5" fill="#19fe00"/><rect x="53" y="152" width="4.5" height="4.5" fill="#09ff00"/><rect x="57" y="152" width="4.5" height="4.5" fill="#09ff01"/><rect x="61" y="152" width="4.5" height="4.5" fill="#09ff02"/><rect x="65" y="152" width="4.5" height="4.5" fill="#09ff05"/><rect x="69" y="152" width="4.5" height="4.5" fill="#08ff0a"/><rect x="73" y="152" width="4.5" height="4.5" fill="#06ff13"/><rect x="77" y="152" width="4.5" height="4.5" fill="#04ff1e"/><rect x="81" y="152" width="4.5" height="4.5" fill="#02ff2d"/><rect x="85" y="152" width="4.5" height="4.5" fill="#00ff3f"/><rect x="89" y="152" width="4.5" height="4.5" fill="#00ff5a"/><rect x="93" y="152" width="4.5" height="4.5" fill="#00ff6f"/><rect x="97" y="152" width="4.5" height="4.5" fill="#00ff7b"/><rect x="101" y="152" width="4.5" height="4.5" fill="#00ff7a"/><rect x="105" y="152" width="4.5" height="4.5" fill="#00ff6d"/><rect x="109" y="152" width="4.5" height="4.5" fill="#00ff56"/><rect x="113" y="152" width="4.5" height="4.5" fill="#00ff3a"/><rect x="117" y="152" width="4.5" height="4.5" fill="#03ff28"/><rect x="121" y="152" width="4.5" height="4.5" fill="#06ff16"/><rect x="125" y="152" width="4.5" height="4.5" fill="#09ff01"/><rect x="129" y="152" width="4.5" height="4.5" fill="#3cfd00"/><rect x="133" y="152" width="4.5" height="4.5" fill="#6cfb00"/><rect x="137" y="152" width="4.5" height="4.5" fill="#79fb00"/><rect x="141" y="152" width="4.5" height="4.5" fill="#5dfc00"/><rect x="145" y="152" width="4.5" height="4.5" fill="#35fd00"/><rect x="149" y="152" width="4.5" height="4.5" fill="#1cfe00"/><rect x="153" y="152" width="4.5" height="4.5" fill="#10fe00"/><rect x="157" y="152" width="4.5" height="4.5" fill="#09ff01"/><rect x="161" y="152" width="4.5" height="4.5" fill="#08ff08"/><rect x="165" y="152" width="4.5" height="4.5" fill="#06ff12"/><rect x="169" y="152" width="4.5" height="4.5" fill="#05ff1d"/><rect x="173" y="152" width="4.5" height="4.5" fill="#01ff31"/><rect x="177" y="152" width="4.5" height="4.5" fill="#00ffa7"/><rect x="181" y="152" width="4.5" height="4.5" fill="#00c3ff"/><rect x="185" y="152" width="4.5" height="4.5" fill="#005cff"/><rect x="189" y="152" width="4.5" height="4.5" fill="#0135f9"/><rect x="193" y="152" width="4.5" height="4.5" fill="#0329f0"/><rect x="197" y="152" width="4.5" height="4.5" fill="#0425ec"/><rect x="201" y="152" width="4.5" height="4.5" fill="#0425ed"/><rect x="205" y="152" width="4.5" height="4.5" fill="#0329f0"/><rect x="209" y="152" width="4.5" height="4.5" fill="#022ff4"/><rect x="213" y="152" width="4.5" height="4.5" fill="#0135f9"/><rect x="217" y="152" width="4.5" height="4.5" fill="#003afd"/><rect x="221" y="152" width="4.5" height="4.5" fill="#003fff"/><rect x="225" y="152" width="4.5" height="4.5" fill="#0042ff"/><rect x="229" y="152" width="4.5" height="4.5" fill="#0043ff"/><rect x="233" y="152" width="4.5" height="4.5" fill="#0042ff"/><rect x="237" y="152" width="4.5" height="4.5" fill="#003eff"/><rect x="241" y="152" width="4.5" height="4.5" fill="#0037fb"/><rect x="245" y="152" width="4.5" height="4.5" fill="#032bf1"/><rect x="249" y="152" width="4.5" height="4.5" fill="#0521e9"/><rect x="253" y="152" width="4.5" height="4.5" fill="#0329f0"/><rect x="257" y="152" width="4.5" height="4.5" fill="#003cff"/><rect x="261" y="152" width="4.5" height="4.5" fill="#00aaff"/><rect x="265" y="152" width="4.5" height="4.5" fill="#00ff4e"/><rect x="29" y="156" width="4.5" height="4.5" fill="#ffb300"/><rect x="33" y="156" width="4.5" height="4.5" fill="#ffb300"/><rect x="37" y="156" width="4.5" height="4.5" fill="#ffb600"/><rect x="41" y="156" width="4.5" height="4.5" fill="#faf300"/><rect x="45" y="156" width="4.5" height="4.5" fill="#5efb00"/><rect x="49" y="156" width="4.5" height="4.5" fill="#0ffe00"/><rect x="53" y="156" width="4.5" height="4.5" fill="#09ff00"/><rect x="57" y="156" width="4.5" height="4.5" fill="#09ff01"/><rect x="61" y="156" width="4.5" height="4.5" fill="#09ff02"/><rect x="65" y="156" width="4.5" height="4.5" fill="#08ff06"/><rect x="69" y="156" width="4.5" height="4.5" fill="#08ff0b"/><rect x="73" y="156" width="4.5" height="4.5" fill="#06ff14"/><rect x="77" y="156" width="4.5" height="4.5" fill="#04ff21"/><rect x="81" y="156" width="4.5" height="4.5" fill="#01ff32"/><rect x="85" y="156" width="4.5" height="4.5" fill="#00ff48"/><rect x="89" y="156" width="4.5" height="4.5" fill="#00ff63"/><rect x="93" y="156" width="4.5" height="4.5" fill="#00ff77"/><rect x="97" y="156" width="4.5" height="4.5" fill="#00ff81"/><rect x="101" y="156" width="4.5" height="4.5" fill="#00ff7e"/><rect x="105" y="156" width="4.5" height="4.5" fill="#00ff6e"/><rect x="109" y="156" width="4.5" height="4.5" fill="#00ff55"/><rect x="113" y="156" width="4.5" height="4.5" fill="#00ff3a"/><rect x="117" y="156" width="4.5" height="4.5" fill="#03ff27"/><rect x="121" y="156" width="4.5" height="4.5" fill="#06ff16"/><rect x="125" y="156" width="4.5" height="4.5" fill="#09ff04"/><rect x="129" y="156" width="4.5" height="4.5" fill="#30fd00"/><rect x="133" y="156" width="4.5" height="4.5" fill="#63fb00"/><rect x="137" y="156" width="4.5" height="4.5" fill="#7dfa00"/><rect x="141" y="156" width="4.5" height="4.5" fill="#6bfb00"/><rect x="145" y="156" width="4.5" height="4.5" fill="#43fc00"/><rect x="149" y="156" width="4.5" height="4.5" fill="#24fe00"/><rect x="153" y="156" width="4.5" height="4.5" fill="#15fe00"/><rect x="157" y="156" width="4.5" height="4.5" fill="#0bfe00"/><rect x="161" y="156" width="4.5" height="4.5" fill="#09ff04"/><rect x="165" y="156" width="4.5" height="4.5" fill="#07ff0d"/><rect x="169" y="156" width="4.5" height="4.5" fill="#05ff1b"/><rect x="173" y="156" width="4.5" height="4.5" fill="#00ff97"/><rect x="177" y="156" width="4.5" height="4.5" fill="#00a3ff"/><rect x="181" y="156" width="4.5" height="4.5" fill="#0039fd"/><rect x="185" y="156" width="4.5" height="4.5" fill="#0427ee"/><rect x="189" y="156" width="4.5" height="4.5" fill="#0812dd"/><rect x="193" y="156" width="4.5" height="4.5" fill="#0a0ad7"/><rect x="197" y="156" width="4.5" height="4.5" fill="#0a0ad7"/><rect x="201" y="156" width="4.5" height="4.5" fill="#0a0ad7"/><rect x="205" y="156" width="4.5" height="4.5" fill="#0a0ad7"/><rect x="209" y="156" width="4.5" height="4.5" fill="#090eda"/><rect x="213" y="156" width="4.5" height="4.5" fill="#061ae4"/><rect x="217" y="156" width="4.5" height="4.5" fill="#0426ed"/><rect x="221" y="156" width="4.5" height="4.5" fill="#022ff5"/><rect x="225" y="156" width="4.5" height="4.5" fill="#0037fb"/><rect x="229" y="156" width="4.5" height="4.5" fill="#0040ff"/><rect x="233" y="156" width="4.5" height="4.5" fill="#004bff"/><rect x="237" y="156" width="4.5" height="4.5" fill="#0053ff"/><rect x="241" y="156" width="4.5" height="4.5" fill="#004fff"/><rect x="245" y="156" width="4.5" height="4.5" fill="#003bfe"/><rect x="249" y="156" width="4.5" height="4.5" fill="#022ef3"/><rect x="253" y="156" width="4.5" height="4.5" fill="#022df3"/><rect x="257" y="156" width="4.5" height="4.5" fill="#003afe"/><rect x="261" y="156" width="4.5" height="4.5" fill="#00a6ff"/><rect x="265" y="156" width="4.5" height="4.5" fill="#00ff4f"/><rect x="29" y="160" width="4.5" height="4.5" fill="#fec200"/><rect x="33" y="160" width="4.5" height="4.5" fill="#fec200"/><rect x="37" y="160" width="4.5" height="4.5" fill="#fec500"/><rect x="41" y="160" width="4.5" height="4.5" fill="#e6fa00"/><rect x="45" y="160" width="4.5" height="4.5" fill="#40fd00"/><rect x="49" y="160" width="4.5" height="4.5" fill="#0bfe00"/><rect x="53" y="160" width="4.5" height="4.5" fill="#09ff00"/><rect x="57" y="160" width="4.5" height="4.5" fill="#09ff01"/><rect x="61" y="160" width="4.5" height="4.5" fill="#09ff03"/><rect x="65" y="160" width="4.5" height="4.5" fill="#08ff06"/><rect x="69" y="160" width="4.5" height="4.5" fill="#07ff0d"/><rect x="73" y="160" width="4.5" height="4.5" fill="#06ff17"/><rect x="77" y="160" width="4.5" height="4.5" fill="#03ff24"/><rect x="81" y="160" width="4.5" height="4.5" fill="#01ff35"/><rect x="85" y="160" width="4.5" height="4.5" fill="#00ff4e"/><rect x="89" y="160" width="4.5" height="4.5" fill="#00ff68"/><rect x="93" y="160" width="4.5" height="4.5" fill="#00ff7a"/><rect x="97" y="160" width="4.5" height="4.5" fill="#00ff82"/><rect x="101" y="160" width="4.5" height="4.5" fill="#00ff7e"/><rect x="105" y="160" width="4.5" height="4.5" fill="#00ff6e"/><rect x="109" y="160" width="4.5" height="4.5" fill="#00ff55"/><rect x="113" y="160" width="4.5" height="4.5" fill="#00ff39"/><rect x="117" y="160" width="4.5" height="4.5" fill="#03ff27"/><rect x="121" y="160" width="4.5" height="4.5" fill="#06ff16"/><rect x="125" y="160" width="4.5" height="4.5" fill="#08ff06"/><rect x="129" y="160" width="4.5" height="4.5" fill="#25fe00"/><rect x="133" y="160" width="4.5" height="4.5" fill="#59fc00"/><rect x="137" y="160" width="4.5" height="4.5" fill="#7dfa00"/><rect x="141" y="160" width="4.5" height="4.5" fill="#77fb00"/><rect x="145" y="160" width="4.5" height="4.5" fill="#52fc00"/><rect x="149" y="160" width="4.5" height="4.5" fill="#2efd00"/><rect x="153" y="160" width="4.5" height="4.5" fill="#1bfe00"/><rect x="157" y="160" width="4.5" height="4.5" fill="#11fe00"/><rect x="161" y="160" width="4.5" height="4.5" fill="#09ff00"/><rect x="165" y="160" width="4.5" height="4.5" fill="#08ff06"/><rect x="169" y="160" width="4.5" height="4.5" fill="#00ff51"/><rect x="173" y="160" width="4.5" height="4.5" fill="#00cfff"/><rect x="177" y="160" width="4.5" height="4.5" fill="#003afd"/><rect x="181" y="160" width="4.5" height="4.5" fill="#0425ed"/><rect x="185" y="160" width="4.5" height="4.5" fill="#080fdb"/><rect x="189" y="160" width="4.5" height="4.5" fill="#0a0ad7"/><rect x="193" y="160" width="4.5" height="4.5" fill="#0a0ad7"/><rect x="197" y="160" width="4.5" height="4.5" fill="#0a0ad7"/><rect x="201" y="160" width="4.5" height="4.5" fill="#0a0ad7"/><rect x="205" y="160" width="4.5" height="4.5" fill="#0a0ad7"/><rect x="209" y="160" width="4.5" height="4.5" fill="#0a0ad7"/><rect x="213" y="160" width="4.5" height="4.5" fill="#0716e1"/><rect x="217" y="160" width="4.5" height="4.5" fill="#0328ef"/><rect x="221" y="160" width="4.5" height="4.5" fill="#0038fc"/><rect x="225" y="160" width="4.5" height="4.5" fill="#004cff"/><rect x="229" y="160" width="4.5" height="4.5" fill="#0061ff"/><rect x="233" y="160" width="4.5" height="4.5" fill="#0074ff"/><rect x="237" y="160" width="4.5" height="4.5" fill="#0085ff"/><rect x="241" y="160" width="4.5" height="4.5" fill="#0083ff"/><rect x="245" y="160" width="4.5" height="4.5" fill="#0066ff"/><rect x="249" y="160" width="4.5" height="4.5" fill="#0041ff"/><rect x="253" y="160" width="4.5" height="4.5" fill="#0134f9"/><rect x="257" y="160" width="4.5" height="4.5" fill="#003afd"/><rect x="261" y="160" width="4.5" height="4.5" fill="#00a2ff"/><rect x="265" y="160" width="4.5" height="4.5" fill="#00ff50"/><rect x="29" y="164" width="4.5" height="4.5" fill="#fdcf00"/><rect x="33" y="164" width="4.5" height="4.5" fill="#fdcf00"/><rect x="37" y="164" width="4.5" height="4.5" fill="#fdd200"/><rect x="41" y="164" width="4.5" height="4.5" fill="#dafa00"/><rect x="45" y="164" width="4.5" height="4.5" fill="#3cfd00"/><rect x="49" y="164" width="4.5" height="4.5" fill="#0bfe00"/><rect x="53" y="164" width="4.5" height="4.5" fill="#09ff00"/><rect x="57" y="164" width="4.5" height="4.5" fill="#09ff01"/><rect x="61" y="164" width="4.5" height="4.5" fill="#09ff03"/><rect x="65" y="164" width="4.5" height="4.5" fill="#08ff07"/><rect x="69" y="164" width="4.5" height="4.5" fill="#07ff0e"/><rect x="73" y="164" width="4.5" height="4.5" fill="#05ff19"/><rect x="77" y="164" width="4.5" height="4.5" fill="#03ff27"/><rect x="81" y="164" width="4.5" height="4.5" fill="#00ff39"/><rect x="85" y="164" width="4.5" height="4.5" fill="#00ff53"/><rect x="89" y="164" width="4.5" height="4.5" fill="#00ff6c"/><rect x="93" y="164" width="4.5" height="4.5" fill="#00ff7b"/><rect x="97" y="164" width="4.5" height="4.5" fill="#00ff7f"/><rect x="101" y="164" width="4.5" height="4.5" fill="#00ff76"/><rect x="105" y="164" width="4.5" height="4.5" fill="#00ff63"/><rect x="109" y="164" width="4.5" height="4.5" fill="#00ff4a"/><rect x="113" y="164" width="4.5" height="4.5" fill="#01ff34"/><rect x="117" y="164" width="4.5" height="4.5" fill="#03ff24"/><rect x="121" y="164" width="4.5" height="4.5" fill="#06ff15"/><rect x="125" y="164" width="4.5" height="4.5" fill="#08ff07"/><rect x="129" y="164" width="4.5" height="4.5" fill="#1dfe00"/><rect x="133" y="164" width="4.5" height="4.5" fill="#4efc00"/><rect x="137" y="164" width="4.5" height="4.5" fill="#79fb00"/><rect x="141" y="164" width="4.5" height="4.5" fill="#81fa00"/><rect x="145" y="164" width="4.5" height="4.5" fill="#62fb00"/><rect x="149" y="164" width="4.5" height="4.5" fill="#3bfd00"/><rect x="153" y="164" width="4.5" height="4.5" fill="#22fe00"/><rect x="157" y="164" width="4.5" height="4.5" fill="#18fe00"/><rect x="161" y="164" width="4.5" height="4.5" fill="#11fe00"/><rect x="165" y="164" width="4.5" height="4.5" fill="#06ff15"/><rect x="169" y="164" width="4.5" height="4.5" fill="#00fac6"/><rect x="173" y="164" width="4.5" height="4.5" fill="#005fff"/><rect x="177" y="164" width="4.5" height="4.5" fill="#022ff5"/><rect x="181" y="164" width="4.5" height="4.5" fill="#061be4"/><rect x="185" y="164" width="4.5" height="4.5" fill="#0a0ad7"/><rect x="189" y="164" width="4.5" height="4.5" fill="#0a0ad7"/><rect x="193" y="164" width="4.5" height="4.5" fill="#0a0ad7"/><rect x="197" y="164" width="4.5" height="4.5" fill="#0a0ad7"/><rect x="201" y="164" width="4.5" height="4.5" fill="#0a0ad7"/><rect x="205" y="164" width="4.5" height="4.5" fill="#0a0ad7"/><rect x="209" y="164" width="4.5" height="4.5" fill="#0813de"/><rect x="213" y="164" width="4.5" height="4.5" fill="#032af1"/><rect x="217" y="164" width="4.5" height="4.5" fill="#0041ff"/><rect x="221" y="164" width="4.5" height="4.5" fill="#005fff"/><rect x="225" y="164" width="4.5" height="4.5" fill="#0078ff"/><rect x="229" y="164" width="4.5" height="4.5" fill="#008eff"/><rect x="233" y="164" width="4.5" height="4.5" fill="#00a3ff"/><rect x="237" y="164" width="4.5" height="4.5" fill="#00aeff"/><rect x="241" y="164" width="4.5" height="4.5" fill="#00a7ff"/><rect x="245" y="164" width="4.5" height="4.5" fill="#0081ff"/><rect x="249" y="164" width="4.5" height="4.5" fill="#0051ff"/><rect x="253" y="164" width="4.5" height="4.5" fill="#0037fb"/><rect x="257" y="164" width="4.5" height="4.5" fill="#0038fc"/><rect x="261" y="164" width="4.5" height="4.5" fill="#009eff"/><rect x="265" y="164" width="4.5" height="4.5" fill="#00ff51"/><rect x="29" y="168" width="4.5" height="4.5" fill="#fcdd00"/><rect x="33" y="168" width="4.5" height="4.5" fill="#fcdd00"/><rect x="37" y="168" width="4.5" height="4.5" fill="#fce000"/><rect x="41" y="168" width="4.5" height="4.5" fill="#cefa00"/><rect x="45" y="168" width="4.5" height="4.5" fill="#39fd00"/><rect x="49" y="168" width="4.5" height="4.5" fill="#0bfe00"/><rect x="53" y="168" width="4.5" height="4.5" fill="#09ff00"/><rect x="57" y="168" width="4.5" height="4.5" fill="#09ff01"/><rect x="61" y="168" width="4.5" height="4.5" fill="#09ff04"/><rect x="65" y="168" width="4.5" height="4.5" fill="#08ff08"/><rect x="69" y="168" width="4.5" height="4.5" fill="#07ff10"/><rect x="73" y="168" width="4.5" height="4.5" fill="#05ff1b"/><rect x="77" y="168" width="4.5" height="4.5" fill="#02ff2b"/><rect x="81" y="168" width="4.5" height="4.5" fill="#00ff3d"/><rect x="85" y="168" width="4.5" height="4.5" fill="#00ff59"/><rect x="89" y="168" width="4.5" height="4.5" fill="#00ff6f"/><rect x="93" y="168" width="4.5" height="4.5" fill="#00ff7b"/><rect x="97" y="168" width="4.5" height="4.5" fill="#00ff7a"/><rect x="101" y="168" width="4.5" height="4.5" fill="#00ff6e"/><rect x="105" y="168" width="4.5" height="4.5" fill="#00ff58"/><rect x="109" y="168" width="4.5" height="4.5" fill="#00ff3d"/><rect x="113" y="168" width="4.5" height="4.5" fill="#02ff2c"/><rect x="117" y="168" width="4.5" height="4.5" fill="#05ff1c"/><rect x="121" y="168" width="4.5" height="4.5" fill="#07ff10"/><rect x="125" y="168" width="4.5" height="4.5" fill="#09ff05"/><rect x="129" y="168" width="4.5" height="4.5" fill="#1afe00"/><rect x="133" y="168" width="4.5" height="4.5" fill="#45fc00"/><rect x="137" y="168" width="4.5" height="4.5" fill="#73fb00"/><rect x="141" y="168" width="4.5" height="4.5" fill="#88fa00"/><rect x="145" y="168" width="4.5" height="4.5" fill="#73fb00"/><rect x="149" y="168" width="4.5" height="4.5" fill="#4afc00"/><rect x="153" y="168" width="4.5" height="4.5" fill="#2cfd00"/><rect x="157" y="168" width="4.5" height="4.5" fill="#1efe00"/><rect x="161" y="168" width="4.5" height="4.5" fill="#18fe00"/><rect x="165" y="168" width="4.5" height="4.5" fill="#00ff44"/><rect x="169" y="168" width="4.5" height="4.5" fill="#00c2ff"/><rect x="173" y="168" width="4.5" height="4.5" fill="#0047ff"/><rect x="177" y="168" width="4.5" height="4.5" fill="#022ff5"/><rect x="181" y="168" width="4.5" height="4.5" fill="#061de6"/><rect x="185" y="168" width="4.5" height="4.5" fill="#090bd8"/><rect x="189" y="168" width="4.5" height="4.5" fill="#0a0ad7"/><rect x="193" y="168" width="4.5" height="4.5" fill="#0a0ad7"/><rect x="197" y="168" width="4.5" height="4.5" fill="#0a0ad7"/><rect x="201" y="168" width="4.5" height="4.5" fill="#0a0ad7"/><rect x="205" y="168" width="4.5" height="4.5" fill="#061ae4"/><rect x="209" y="168" width="4.5" height="4.5" fill="#0132f7"/><rect x="213" y="168" width="4.5" height="4.5" fill="#0050ff"/><rect x="217" y="168" width="4.5" height="4.5" fill="#006fff"/><rect x="221" y="168" width="4.5" height="4.5" fill="#0088ff"/><rect x="225" y="168" width="4.5" height="4.5" fill="#009eff"/><rect x="229" y="168" width="4.5" height="4.5" fill="#00b1ff"/><rect x="233" y="168" width="4.5" height="4.5" fill="#00bfff"/><rect x="237" y="168" width="4.5" height="4.5" fill="#00c0ff"/><rect x="241" y="168" width="4.5" height="4.5" fill="#00acff"/><rect x="245" y="168" width="4.5" height="4.5" fill="#0082ff"/><rect x="249" y="168" width="4.5" height="4.5" fill="#0051ff"/><rect x="253" y="168" width="4.5" height="4.5" fill="#0136fa"/><rect x="257" y="168" width="4.5" height="4.5" fill="#0136fa"/><rect x="261" y="168" width="4.5" height="4.5" fill="#009aff"/><rect x="265" y="168" width="4.5" height="4.5" fill="#00ff52"/><rect x="29" y="172" width="4.5" height="4.5" fill="#fbeb00"/><rect x="33" y="172" width="4.5" height="4.5" fill="#fbeb00"/><rect x="37" y="172" width="4.5" height="4.5" fill="#fbed00"/><rect x="41" y="172" width="4.5" height="4.5" fill="#c2fa00"/><rect x="45" y="172" width="4.5" height="4.5" fill="#35fd00"/><rect x="49" y="172" width="4.5" height="4.5" fill="#0bfe00"/><rect x="53" y="172" width="4.5" height="4.5" fill="#09ff00"/><rect x="57" y="172" width="4.5" height="4.5" fill="#09ff01"/><rect x="61" y="172" width="4.5" height="4.5" fill="#09ff04"/><rect x="65" y="172" width="4.5" height="4.5" fill="#08ff09"/><rect x="69" y="172" width="4.5" height="4.5" fill="#07ff11"/><rect x="73" y="172" width="4.5" height="4.5" fill="#04ff1e"/><rect x="77" y="172" width="4.5" height="4.5" fill="#02ff2e"/><rect x="81" y="172" width="4.5" height="4.5" fill="#00ff43"/><rect x="85" y="172" width="4.5" height="4.5" fill="#00ff5e"/><rect x="89" y="172" width="4.5" height="4.5" fill="#00ff71"/><rect x="93" y="172" width="4.5" height="4.5" fill="#00ff79"/><rect x="97" y="172" width="4.5" height="4.5" fill="#00ff74"/><rect x="101" y="172" width="4.5" height="4.5" fill="#00ff63"/><rect x="105" y="172" width="4.5" height="4.5" fill="#00ff4b"/><rect x="109" y="172" width="4.5" height="4.5" fill="#01ff34"/><rect x="113" y="172" width="4.5" height="4.5" fill="#04ff23"/><rect x="117" y="172" width="4.5" height="4.5" fill="#06ff15"/><rect x="121" y="172" width="4.5" height="4.5" fill="#08ff0a"/><rect x="125" y="172" width="4.5" height="4.5" fill="#09ff01"/><rect x="129" y="172" width="4.5" height="4.5" fill="#1bfe00"/><rect x="133" y="172" width="4.5" height="4.5" fill="#3efd00"/><rect x="137" y="172" width="4.5" height="4.5" fill="#6dfb00"/><rect x="141" y="172" width="4.5" height="4.5" fill="#8cfa00"/><rect x="145" y="172" width="4.5" height="4.5" fill="#83fa00"/><rect x="149" y="172" width="4.5" height="4.5" fill="#5cfc00"/><rect x="153" y="172" width="4.5" height="4.5" fill="#38fd00"/><rect x="157" y="172" width="4.5" height="4.5" fill="#26fd00"/><rect x="161" y="172" width="4.5" height="4.5" fill="#17fe00"/><rect x="165" y="172" width="4.5" height="4.5" fill="#00ff88"/><rect x="169" y="172" width="4.5" height="4.5" fill="#008bff"/><rect x="173" y="172" width="4.5" height="4.5" fill="#0054ff"/><rect x="177" y="172" width="4.5" height="4.5" fill="#0039fd"/><rect x="181" y="172" width="4.5" height="4.5" fill="#032bf1"/><rect x="185" y="172" width="4.5" height="4.5" fill="#0520e8"/><rect x="189" y="172" width="4.5" height="4.5" fill="#0718e2"/><rect x="193" y="172" width="4.5" height="4.5" fill="#0714df"/><rect x="197" y="172" width="4.5" height="4.5" fill="#061ae3"/><rect x="201" y="172" width="4.5" height="4.5" fill="#0329f0"/><rect x="205" y="172" width="4.5" height="4.5" fill="#003eff"/><rect x="209" y="172" width="4.5" height="4.5" fill="#005fff"/><rect x="213" y="172" width="4.5" height="4.5" fill="#007bff"/><rect x="217" y="172" width="4.5" height="4.5" fill="#0091ff"/><rect x="221" y="172" width="4.5" height="4.5" fill="#00a5ff"/><rect x="225" y="172" width="4.5" height="4.5" fill="#00b6ff"/><rect x="229" y="172" width="4.5" height="4.5" fill="#00c6ff"/><rect x="233" y="172" width="4.5" height="4.5" fill="#00cbff"/><rect x="237" y="172" width="4.5" height="4.5" fill="#00c0ff"/><rect x="241" y="172" width="4.5" height="4.5" fill="#00a6ff"/><rect x="245" y="172" width="4.5" height="4.5" fill="#007bff"/><rect x="249" y="172" width="4.5" height="4.5" fill="#004dff"/><rect x="253" y="172" width="4.5" height="4.5" fill="#0133f8"/><rect x="257" y="172" width="4.5" height="4.5" fill="#0133f8"/><rect x="261" y="172" width="4.5" height="4.5" fill="#0097ff"/><rect x="265" y="172" width="4.5" height="4.5" fill="#00ff53"/><rect x="29" y="176" width="4.5" height="4.5" fill="#faf800"/><rect x="33" y="176" width="4.5" height="4.5" fill="#faf800"/><rect x="37" y="176" width="4.5" height="4.5" fill="#f8fa00"/><rect x="41" y="176" width="4.5" height="4.5" fill="#b6fa00"/><rect x="45" y="176" width="4.5" height="4.5" fill="#31fd00"/><rect x="49" y="176" width="4.5" height="4.5" fill="#0afe00"/><rect x="53" y="176" width="4.5" height="4.5" fill="#09ff00"/><rect x="57" y="176" width="4.5" height="4.5" fill="#09ff01"/><rect x="61" y="176" width="4.5" height="4.5" fill="#09ff04"/><rect x="65" y="176" width="4.5" height="4.5" fill="#08ff0a"/><rect x="69" y="176" width="4.5" height="4.5" fill="#06ff13"/><rect x="73" y="176" width="4.5" height="4.5" fill="#04ff21"/><rect x="77" y="176" width="4.5" height="4.5" fill="#01ff32"/><rect x="81" y="176" width="4.5" height="4.5" fill="#00ff49"/><rect x="85" y="176" width="4.5" height="4.5" fill="#00ff62"/><rect x="89" y="176" width="4.5" height="4.5" fill="#00ff72"/><rect x="93" y="176" width="4.5" height="4.5" fill="#00ff76"/><rect x="97" y="176" width="4.5" height="4.5" fill="#00ff6c"/><rect x="101" y="176" width="4.5" height="4.5" fill="#00ff58"/><rect x="105" y="176" width="4.5" height="4.5" fill="#00ff3e"/><rect x="109" y="176" width="4.5" height="4.5" fill="#02ff2b"/><rect x="113" y="176" width="4.5" height="4.5" fill="#05ff1c"/><rect x="117" y="176" width="4.5" height="4.5" fill="#07ff0f"/><rect x="121" y="176" width="4.5" height="4.5" fill="#09ff05"/><rect x="125" y="176" width="4.5" height="4.5" fill="#0dfe00"/><rect x="129" y="176" width="4.5" height="4.5" fill="#1efe00"/><rect x="133" y="176" width="4.5" height="4.5" fill="#3afd00"/><rect x="137" y="176" width="4.5" height="4.5" fill="#65fb00"/><rect x="141" y="176" width="4.5" height="4.5" fill="#8dfa00"/><rect x="145" y="176" width="4.5" height="4.5" fill="#90fa00"/><rect x="149" y="176" width="4.5" height="4.5" fill="#6ffb00"/><rect x="153" y="176" width="4.5" height="4.5" fill="#47fc00"/><rect x="157" y="176" width="4.5" height="4.5" fill="#30fd00"/><rect x="161" y="176" width="4.5" height="4.5" fill="#0bfe00"/><rect x="165" y="176" width="4.5" height="4.5" fill="#00ffac"/><rect x="169" y="176" width="4.5" height="4.5" fill="#0086ff"/><rect x="173" y="176" width="4.5" height="4.5" fill="#006dff"/><rect x="177" y="176" width="4.5" height="4.5" fill="#0059ff"/><rect x="181" y="176" width="4.5" height="4.5" fill="#0048ff"/><rect x="185" y="176" width="4.5" height="4.5" fill="#003bfe"/><rect x="189" y="176" width="4.5" height="4.5" fill="#0038fb"/><rect x="193" y="176" width="4.5" height="4.5" fill="#0039fc"/><rect x="197" y="176" width="4.5" height="4.5" fill="#0043ff"/><rect x="201" y="176" width="4.5" height="4.5" fill="#0057ff"/><rect x="205" y="176" width="4.5" height="4.5" fill="#006fff"/><rect x="209" y="176" width="4.5" height="4.5" fill="#0085ff"/><rect x="213" y="176" width="4.5" height="4.5" fill="#0098ff"/><rect x="217" y="176" width="4.5" height="4.5" fill="#00a8ff"/><rect x="221" y="176" width="4.5" height="4.5" fill="#00b9ff"/><rect x="225" y="176" width="4.5" height="4.5" fill="#00c8ff"/><rect x="229" y="176" width="4.5" height="4.5" fill="#00d0ff"/><rect x="233" y="176" width="4.5" height="4.5" fill="#00cbff"/><rect x="237" y="176" width="4.5" height="4.5" fill="#00baff"/><rect x="241" y="176" width="4.5" height="4.5" fill="#009fff"/><rect x="245" y="176" width="4.5" height="4.5" fill="#0077ff"/><rect x="249" y="176" width="4.5" height="4.5" fill="#004bff"/><rect x="253" y="176" width="4.5" height="4.5" fill="#0132f7"/><rect x="257" y="176" width="4.5" height="4.5" fill="#0132f7"/><rect x="261" y="176" width="4.5" height="4.5" fill="#0095ff"/><rect x="265" y="176" width="4.5" height="4.5" fill="#00ff53"/><rect x="29" y="180" width="4.5" height="4.5" fill="#eafa00"/><rect x="33" y="180" width="4.5" height="4.5" fill="#eafa00"/><rect x="37" y="180" width="4.5" height="4.5" fill="#e7fa00"/><rect x="41" y="180" width="4.5" height="4.5" fill="#aafa00"/><rect x="45" y="180" width="4.5" height="4.5" fill="#2efd00"/><rect x="49" y="180" width="4.5" height="4.5" fill="#0afe00"/><rect x="53" y="180" width="4.5" height="4.5" fill="#09ff01"/><rect x="57" y="180" width="4.5" height="4.5" fill="#09ff02"/><rect x="61" y="180" width="4.5" height="4.5" fill="#08ff06"/><rect x="65" y="180" width="4.5" height="4.5" fill="#08ff0b"/><rect x="69" y="180" width="4.5" height="4.5" fill="#06ff15"/><rect x="73" y="180" width="4.5" height="4.5" fill="#03ff24"/><rect x="77" y="180" width="4.5" height="4.5" fill="#01ff35"/><rect x="81" y="180" width="4.5" height="4.5" fill="#00ff4e"/><rect x="85" y="180" width="4.5" height="4.5" fill="#00ff65"/><rect x="89" y="180" width="4.5" height="4.5" fill="#00ff72"/><rect x="93" y="180" width="4.5" height="4.5" fill="#00ff71"/><rect x="97" y="180" width="4.5" height="4.5" fill="#00ff63"/><rect x="101" y="180" width="4.5" height="4.5" fill="#00ff4c"/><rect x="105" y="180" width="4.5" height="4.5" fill="#01ff34"/><rect x="109" y="180" width="4.5" height="4.5" fill="#04ff23"/><rect x="113" y="180" width="4.5" height="4.5" fill="#06ff14"/><rect x="117" y="180" width="4.5" height="4.5" fill="#08ff09"/><rect x="121" y="180" width="4.5" height="4.5" fill="#09ff00"/><rect x="125" y="180" width="4.5" height="4.5" fill="#15fe00"/><rect x="129" y="180" width="4.5" height="4.5" fill="#22fe00"/><rect x="133" y="180" width="4.5" height="4.5" fill="#38fd00"/><rect x="137" y="180" width="4.5" height="4.5" fill="#5ffb00"/><rect x="141" y="180" width="4.5" height="4.5" fill="#8bfa00"/><rect x="145" y="180" width="4.5" height="4.5" fill="#9afa00"/><rect x="149" y="180" width="4.5" height="4.5" fill="#83fa00"/><rect x="153" y="180" width="4.5" height="4.5" fill="#59fc00"/><rect x="157" y="180" width="4.5" height="4.5" fill="#3bfd00"/><rect x="161" y="180" width="4.5" height="4.5" fill="#10fe00"/><rect x="165" y="180" width="4.5" height="4.5" fill="#00ffa7"/><rect x="169" y="180" width="4.5" height="4.5" fill="#009dff"/><rect x="173" y="180" width="4.5" height="4.5" fill="#008fff"/><rect x="177" y="180" width="4.5" height="4.5" fill="#0083ff"/><rect x="181" y="180" width="4.5" height="4.5" fill="#0077ff"/><rect x="185" y="180" width="4.5" height="4.5" fill="#006eff"/><rect x="189" y="180" width="4.5" height="4.5" fill="#006aff"/><rect x="193" y="180" width="4.5" height="4.5" fill="#006dff"/><rect x="197" y="180" width="4.5" height="4.5" fill="#0076ff"/><rect x="201" y="180" width="4.5" height="4.5" fill="#0083ff"/><rect x="205" y="180" width="4.5" height="4.5" fill="#0092ff"/><rect x="209" y="180" width="4.5" height="4.5" fill="#00a0ff"/><rect x="213" y="180" width="4.5" height="4.5" fill="#00adff"/><rect x="217" y="180" width="4.5" height="4.5" fill="#00bcff"/><rect x="221" y="180" width="4.5" height="4.5" fill="#00cbff"/><rect x="225" y="180" width="4.5" height="4.5" fill="#00d4ff"/><rect x="229" y="180" width="4.5" height="4.5" fill="#00d2ff"/><rect x="233" y="180" width="4.5" height="4.5" fill="#00c6ff"/><rect x="237" y="180" width="4.5" height="4.5" fill="#00b5ff"/><rect x="241" y="180" width="4.5" height="4.5" fill="#009eff"/><rect x="245" y="180" width="4.5" height="4.5" fill="#0078ff"/><rect x="249" y="180" width="4.5" height="4.5" fill="#004cff"/><rect x="253" y="180" width="4.5" height="4.5" fill="#0133f8"/><rect x="257" y="180" width="4.5" height="4.5" fill="#0133f8"/><rect x="261" y="180" width="4.5" height="4.5" fill="#0096ff"/><rect x="265" y="180" width="4.5" height="4.5" fill="#00ff53"/><rect x="29" y="184" width="4.5" height="4.5" fill="#d9fa00"/><rect x="33" y="184" width="4.5" height="4.5" fill="#d9fa00"/><rect x="37" y="184" width="4.5" height="4.5" fill="#d6fa00"/><rect x="41" y="184" width="4.5" height="4.5" fill="#9ffa00"/><rect x="45" y="184" width="4.5" height="4.5" fill="#2afd00"/><rect x="49" y="184" width="4.5" height="4.5" fill="#09ff00"/><rect x="53" y="184" width="4.5" height="4.5" fill="#09ff01"/><rect x="57" y="184" width="4.5" height="4.5" fill="#09ff03"/><rect x="61" y="184" width="4.5" height="4.5" fill="#08ff08"/><rect x="65" y="184" width="4.5" height="4.5" fill="#07ff10"/><rect x="69" y="184" width="4.5" height="4.5" fill="#05ff1b"/><rect x="73" y="184" width="4.5" height="4.5" fill="#03ff29"/><rect x="77" y="184" width="4.5" height="4.5" fill="#00ff3a"/><rect x="81" y="184" width="4.5" height="4.5" fill="#00ff53"/><rect x="85" y="184" width="4.5" height="4.5" fill="#00ff68"/><rect x="89" y="184" width="4.5" height="4.5" fill="#00ff70"/><rect x="93" y="184" width="4.5" height="4.5" fill="#00ff6a"/><rect x="97" y="184" width="4.5" height="4.5" fill="#00ff58"/><rect x="101" y="184" width="4.5" height="4.5" fill="#00ff3e"/><rect x="105" y="184" width="4.5" height="4.5" fill="#02ff2b"/><rect x="109" y="184" width="4.5" height="4.5" fill="#05ff1b"/><rect x="113" y="184" width="4.5" height="4.5" fill="#07ff0d"/><rect x="117" y="184" width="4.5" height="4.5" fill="#09ff03"/><rect x="121" y="184" width="4.5" height="4.5" fill="#12fe00"/><rect x="125" y="184" width="4.5" height="4.5" fill="#1dfe00"/><rect x="129" y="184" width="4.5" height="4.5" fill="#28fd00"/><rect x="133" y="184" width="4.5" height="4.5" fill="#39fd00"/><rect x="137" y="184" width="4.5" height="4.5" fill="#5afc00"/><rect x="141" y="184" width="4.5" height="4.5" fill="#87fa00"/><rect x="145" y="184" width="4.5" height="4.5" fill="#a0fa00"/><rect x="149" y="184" width="4.5" height="4.5" fill="#96fa00"/><rect x="153" y="184" width="4.5" height="4.5" fill="#6dfb00"/><rect x="157" y="184" width="4.5" height="4.5" fill="#49fc00"/><rect x="161" y="184" width="4.5" height="4.5" fill="#28fd00"/><rect x="165" y="184" width="4.5" height="4.5" fill="#00ff7d"/><rect x="169" y="184" width="4.5" height="4.5" fill="#00c1ff"/><rect x="173" y="184" width="4.5" height="4.5" fill="#00b1ff"/><rect x="177" y="184" width="4.5" height="4.5" fill="#00adff"/><rect x="181" y="184" width="4.5" height="4.5" fill="#00a5ff"/><rect x="185" y="184" width="4.5" height="4.5" fill="#009dff"/><rect x="189" y="184" width="4.5" height="4.5" fill="#0098ff"/><rect x="193" y="184" width="4.5" height="4.5" fill="#0098ff"/><rect x="197" y="184" width="4.5" height="4.5" fill="#009cff"/><rect x="201" y="184" width="4.5" height="4.5" fill="#00a4ff"/><rect x="205" y="184" width="4.5" height="4.5" fill="#00adff"/><rect x="209" y="184" width="4.5" height="4.5" fill="#00b8ff"/><rect x="213" y="184" width="4.5" height="4.5" fill="#00c5ff"/><rect x="217" y="184" width="4.5" height="4.5" fill="#00d4ff"/><rect x="221" y="184" width="4.5" height="4.5" fill="#00deff"/><rect x="225" y="184" width="4.5" height="4.5" fill="#00ddff"/><rect x="229" y="184" width="4.5" height="4.5" fill="#00d3ff"/><rect x="233" y="184" width="4.5" height="4.5" fill="#00c6ff"/><rect x="237" y="184" width="4.5" height="4.5" fill="#00b8ff"/><rect x="241" y="184" width="4.5" height="4.5" fill="#00a3ff"/><rect x="245" y="184" width="4.5" height="4.5" fill="#007fff"/><rect x="249" y="184" width="4.5" height="4.5" fill="#0053ff"/><rect x="253" y="184" width="4.5" height="4.5" fill="#0136fa"/><rect x="257" y="184" width="4.5" height="4.5" fill="#0136fa"/><rect x="261" y="184" width="4.5" height="4.5" fill="#0099ff"/><rect x="265" y="184" width="4.5" height="4.5" fill="#00ff52"/><rect x="29" y="188" width="4.5" height="4.5" fill="#c9fa00"/><rect x="33" y="188" width="4.5" height="4.5" fill="#c9fa00"/><rect x="37" y="188" width="4.5" height="4.5" fill="#c6fa00"/><rect x="41" y="188" width="4.5" height="4.5" fill="#94fa00"/><rect x="45" y="188" width="4.5" height="4.5" fill="#27fd00"/><rect x="49" y="188" width="4.5" height="4.5" fill="#09ff00"/><rect x="53" y="188" width="4.5" height="4.5" fill="#09ff02"/><rect x="57" y="188" width="4.5" height="4.5" fill="#09ff05"/><rect x="61" y="188" width="4.5" height="4.5" fill="#08ff0b"/><rect x="65" y="188" width="4.5" height="4.5" fill="#06ff15"/><rect x="69" y="188" width="4.5" height="4.5" fill="#04ff23"/><rect x="73" y="188" width="4.5" height="4.5" fill="#01ff33"/><rect x="77" y="188" width="4.5" height="4.5" fill="#00ff48"/><rect x="81" y="188" width="4.5" height="4.5" fill="#00ff5e"/><rect x="85" y="188" width="4.5" height="4.5" fill="#00ff6b"/><rect x="89" y="188" width="4.5" height="4.5" fill="#00ff6c"/><rect x="93" y="188" width="4.5" height="4.5" fill="#00ff62"/><rect x="97" y="188" width="4.5" height="4.5" fill="#00ff4c"/><rect x="101" y="188" width="4.5" height="4.5" fill="#01ff34"/><rect x="105" y="188" width="4.5" height="4.5" fill="#04ff22"/><rect x="109" y="188" width="4.5" height="4.5" fill="#06ff13"/><rect x="113" y="188" width="4.5" height="4.5" fill="#08ff07"/><rect x="117" y="188" width="4.5" height="4.5" fill="#0efe00"/><rect x="121" y="188" width="4.5" height="4.5" fill="#1cfe00"/><rect x="125" y="188" width="4.5" height="4.5" fill="#26fd00"/><rect x="129" y="188" width="4.5" height="4.5" fill="#2ffd00"/><rect x="133" y="188" width="4.5" height="4.5" fill="#3dfd00"/><rect x="137" y="188" width="4.5" height="4.5" fill="#59fc00"/><rect x="141" y="188" width="4.5" height="4.5" fill="#84fa00"/><rect x="145" y="188" width="4.5" height="4.5" fill="#a4fa00"/><rect x="149" y="188" width="4.5" height="4.5" fill="#a3fa00"/><rect x="153" y="188" width="4.5" height="4.5" fill="#84fa00"/><rect x="157" y="188" width="4.5" height="4.5" fill="#5afc00"/><rect x="161" y="188" width="4.5" height="4.5" fill="#41fd00"/><rect x="165" y="188" width="4.5" height="4.5" fill="#00ff38"/><rect x="169" y="188" width="4.5" height="4.5" fill="#00f2f0"/><rect x="173" y="188" width="4.5" height="4.5" fill="#00d1ff"/><rect x="177" y="188" width="4.5" height="4.5" fill="#00d1ff"/><rect x="181" y="188" width="4.5" height="4.5" fill="#00ccff"/><rect x="185" y="188" width="4.5" height="4.5" fill="#00c3ff"/><rect x="189" y="188" width="4.5" height="4.5" fill="#00bcff"/><rect x="193" y="188" width="4.5" height="4.5" fill="#00b9ff"/><rect x="197" y="188" width="4.5" height="4.5" fill="#00bbff"/><rect x="201" y="188" width="4.5" height="4.5" fill="#00c0ff"/><rect x="205" y="188" width="4.5" height="4.5" fill="#00c9ff"/><rect x="209" y="188" width="4.5" height="4.5" fill="#00d7ff"/><rect x="213" y="188" width="4.5" height="4.5" fill="#00e6ff"/><rect x="217" y="188" width="4.5" height="4.5" fill="#00f0fd"/><rect x="221" y="188" width="4.5" height="4.5" fill="#00f0fc"/><rect x="225" y="188" width="4.5" height="4.5" fill="#00e8ff"/><rect x="229" y="188" width="4.5" height="4.5" fill="#00dcff"/><rect x="233" y="188" width="4.5" height="4.5" fill="#00d1ff"/><rect x="237" y="188" width="4.5" height="4.5" fill="#00c4ff"/><rect x="241" y="188" width="4.5" height="4.5" fill="#00afff"/><rect x="245" y="188" width="4.5" height="4.5" fill="#008aff"/><rect x="249" y="188" width="4.5" height="4.5" fill="#005eff"/><rect x="253" y="188" width="4.5" height="4.5" fill="#003dff"/><rect x="257" y="188" width="4.5" height="4.5" fill="#003afe"/><rect x="261" y="188" width="4.5" height="4.5" fill="#009eff"/><rect x="265" y="188" width="4.5" height="4.5" fill="#00ff51"/><rect x="29" y="192" width="4.5" height="4.5" fill="#b9fa00"/><rect x="33" y="192" width="4.5" height="4.5" fill="#b9fa00"/><rect x="37" y="192" width="4.5" height="4.5" fill="#b7fa00"/><rect x="41" y="192" width="4.5" height="4.5" fill="#86fa00"/><rect x="45" y="192" width="4.5" height="4.5" fill="#23fe00"/><rect x="49" y="192" width="4.5" height="4.5" fill="#09ff01"/><rect x="53" y="192" width="4.5" height="4.5" fill="#09ff03"/><rect x="57" y="192" width="4.5" height="4.5" fill="#08ff08"/><rect x="61" y="192" width="4.5" height="4.5" fill="#07ff10"/><rect x="65" y="192" width="4.5" height="4.5" fill="#05ff1c"/><rect x="69" y="192" width="4.5" height="4.5" fill="#02ff2b"/><rect x="73" y="192" width="4.5" height="4.5" fill="#00ff3d"/><rect x="77" y="192" width="4.5" height="4.5" fill="#00ff56"/><rect x="81" y="192" width="4.5" height="4.5" fill="#00ff68"/><rect x="85" y="192" width="4.5" height="4.5" fill="#00ff6e"/><rect x="89" y="192" width="4.5" height="4.5" fill="#00ff68"/><rect x="93" y="192" width="4.5" height="4.5" fill="#00ff57"/><rect x="97" y="192" width="4.5" height="4.5" fill="#00ff3f"/><rect x="101" y="192" width="4.5" height="4.5" fill="#02ff2b"/><rect x="105" y="192" width="4.5" height="4.5" fill="#05ff1a"/><rect x="109" y="192" width="4.5" height="4.5" fill="#08ff0b"/><rect x="113" y="192" width="4.5" height="4.5" fill="#09ff00"/><rect x="117" y="192" width="4.5" height="4.5" fill="#19fe00"/><rect x="121" y="192" width="4.5" height="4.5" fill="#26fd00"/><rect x="125" y="192" width="4.5" height="4.5" fill="#2ffd00"/><rect x="129" y="192" width="4.5" height="4.5" fill="#38fd00"/><rect x="133" y="192" width="4.5" height="4.5" fill="#44fc00"/><rect x="137" y="192" width="4.5" height="4.5" fill="#5bfc00"/><rect x="141" y="192" width="4.5" height="4.5" fill="#82fa00"/><rect x="145" y="192" width="4.5" height="4.5" fill="#a6fa00"/><rect x="149" y="192" width="4.5" height="4.5" fill="#affa00"/><rect x="153" y="192" width="4.5" height="4.5" fill="#9afa00"/><rect x="157" y="192" width="4.5" height="4.5" fill="#6ffb00"/><rect x="161" y="192" width="4.5" height="4.5" fill="#4efc00"/><rect x="165" y="192" width="4.5" height="4.5" fill="#08ff06"/><rect x="169" y="192" width="4.5" height="4.5" fill="#00ff94"/><rect x="173" y="192" width="4.5" height="4.5" fill="#00f0fd"/><rect x="177" y="192" width="4.5" height="4.5" fill="#00f0fc"/><rect x="181" y="192" width="4.5" height="4.5" fill="#00eeff"/><rect x="185" y="192" width="4.5" height="4.5" fill="#00e6ff"/><rect x="189" y="192" width="4.5" height="4.5" fill="#00deff"/><rect x="193" y="192" width="4.5" height="4.5" fill="#00dbff"/><rect x="197" y="192" width="4.5" height="4.5" fill="#00ddff"/><rect x="201" y="192" width="4.5" height="4.5" fill="#00e3ff"/><rect x="205" y="192" width="4.5" height="4.5" fill="#00f0fe"/><rect x="209" y="192" width="4.5" height="4.5" fill="#00f3eb"/><rect x="213" y="192" width="4.5" height="4.5" fill="#00f6db"/><rect x="217" y="192" width="4.5" height="4.5" fill="#00f7d9"/><rect x="221" y="192" width="4.5" height="4.5" fill="#00f5e2"/><rect x="225" y="192" width="4.5" height="4.5" fill="#00f2ef"/><rect x="229" y="192" width="4.5" height="4.5" fill="#00f0fb"/><rect x="233" y="192" width="4.5" height="4.5" fill="#00e7ff"/><rect x="237" y="192" width="4.5" height="4.5" fill="#00d8ff"/><rect x="241" y="192" width="4.5" height="4.5" fill="#00c0ff"/><rect x="245" y="192" width="4.5" height="4.5" fill="#009bff"/><rect x="249" y="192" width="4.5" height="4.5" fill="#006dff"/><rect x="253" y="192" width="4.5" height="4.5" fill="#004bff"/><rect x="257" y="192" width="4.5" height="4.5" fill="#0045ff"/><rect x="261" y="192" width="4.5" height="4.5" fill="#00a5ff"/><rect x="265" y="192" width="4.5" height="4.5" fill="#00ff50"/><rect x="29" y="196" width="4.5" height="4.5" fill="#abfa00"/><rect x="33" y="196" width="4.5" height="4.5" fill="#abfa00"/><rect x="37" y="196" width="4.5" height="4.5" fill="#a9fa00"/><rect x="41" y="196" width="4.5" height="4.5" fill="#78fb00"/><rect x="45" y="196" width="4.5" height="4.5" fill="#20fe00"/><rect x="49" y="196" width="4.5" height="4.5" fill="#09ff01"/><rect x="53" y="196" width="4.5" height="4.5" fill="#09ff05"/><rect x="57" y="196" width="4.5" height="4.5" fill="#08ff0b"/><rect x="61" y="196" width="4.5" height="4.5" fill="#06ff16"/><rect x="65" y="196" width="4.5" height="4.5" fill="#03ff24"/><rect x="69" y="196" width="4.5" height="4.5" fill="#01ff35"/><rect x="73" y="196" width="4.5" height="4.5" fill="#00ff4d"/><rect x="77" y="196" width="4.5" height="4.5" fill="#00ff63"/><rect x="81" y="196" width="4.5" height="4.5" fill="#00ff6e"/><rect x="85" y="196" width="4.5" height="4.5" fill="#00ff6d"/><rect x="89" y="196" width="4.5" height="4.5" fill="#00ff5f"/><rect x="93" y="196" width="4.5" height="4.5" fill="#00ff49"/><rect x="97" y="196" width="4.5" height="4.5" fill="#01ff33"/><rect x="101" y="196" width="4.5" height="4.5" fill="#04ff22"/><rect x="105" y="196" width="4.5" height="4.5" fill="#06ff12"/><rect x="109" y="196" width="4.5" height="4.5" fill="#09ff04"/><rect x="113" y="196" width="4.5" height="4.5" fill="#15fe00"/><rect x="117" y="196" width="4.5" height="4.5" fill="#24fe00"/><rect x="121" y="196" width="4.5" height="4.5" fill="#30fd00"/><rect x="125" y="196" width="4.5" height="4.5" fill="#3bfd00"/><rect x="129" y="196" width="4.5" height="4.5" fill="#44fc00"/><rect x="133" y="196" width="4.5" height="4.5" fill="#4efc00"/><rect x="137" y="196" width="4.5" height="4.5" fill="#61fb00"/><rect x="141" y="196" width="4.5" height="4.5" fill="#83fa00"/><rect x="145" y="196" width="4.5" height="4.5" fill="#a8fa00"/><rect x="149" y="196" width="4.5" height="4.5" fill="#b9fa00"/><rect x="153" y="196" width="4.5" height="4.5" fill="#abfa00"/><rect x="157" y="196" width="4.5" height="4.5" fill="#86fa00"/><rect x="161" y="196" width="4.5" height="4.5" fill="#5efb00"/><rect x="165" y="196" width="4.5" height="4.5" fill="#44fc00"/><rect x="169" y="196" width="4.5" height="4.5" fill="#02ff2d"/><rect x="173" y="196" width="4.5" height="4.5" fill="#00feb2"/><rect x="177" y="196" width="4.5" height="4.5" fill="#00f5df"/><rect x="181" y="196" width="4.5" height="4.5" fill="#00f5df"/><rect x="185" y="196" width="4.5" height="4.5" fill="#00f4e5"/><rect x="189" y="196" width="4.5" height="4.5" fill="#00f3ea"/><rect x="193" y="196" width="4.5" height="4.5" fill="#00f3ea"/><rect x="197" y="196" width="4.5" height="4.5" fill="#00f4e4"/><rect x="201" y="196" width="4.5" height="4.5" fill="#00f6da"/><rect x="205" y="196" width="4.5" height="4.5" fill="#00f9cc"/><rect x="209" y="196" width="4.5" height="4.5" fill="#00fdb9"/><rect x="213" y="196" width="4.5" height="4.5" fill="#00ffaa"/><rect x="217" y="196" width="4.5" height="4.5" fill="#00ffad"/><rect x="221" y="196" width="4.5" height="4.5" fill="#00fcbc"/><rect x="225" y="196" width="4.5" height="4.5" fill="#00f9ca"/><rect x="229" y="196" width="4.5" height="4.5" fill="#00f7d9"/><rect x="233" y="196" width="4.5" height="4.5" fill="#00f4e9"/><rect x="237" y="196" width="4.5" height="4.5" fill="#00f0fd"/><rect x="241" y="196" width="4.5" height="4.5" fill="#00d5ff"/><rect x="245" y="196" width="4.5" height="4.5" fill="#00aeff"/><rect x="249" y="196" width="4.5" height="4.5" fill="#007fff"/><rect x="253" y="196" width="4.5" height="4.5" fill="#005bff"/><rect x="257" y="196" width="4.5" height="4.5" fill="#0053ff"/><rect x="261" y="196" width="4.5" height="4.5" fill="#00adff"/><rect x="265" y="196" width="4.5" height="4.5" fill="#00ff4e"/><rect x="29" y="200" width="4.5" height="4.5" fill="#9dfa00"/><rect x="33" y="200" width="4.5" height="4.5" fill="#9dfa00"/><rect x="37" y="200" width="4.5" height="4.5" fill="#9bfa00"/><rect x="41" y="200" width="4.5" height="4.5" fill="#6bfb00"/><rect x="45" y="200" width="4.5" height="4.5" fill="#1cfe00"/><rect x="49" y="200" width="4.5" height="4.5" fill="#09ff03"/><rect x="53" y="200" width="4.5" height="4.5" fill="#08ff08"/><rect x="57" y="200" width="4.5" height="4.5" fill="#07ff10"/><rect x="61" y="200" width="4.5" height="4.5" fill="#05ff1d"/><rect x="65" y="200" width="4.5" height="4.5" fill="#02ff2d"/><rect x="69" y="200" width="4.5" height="4.5" fill="#00ff42"/><rect x="73" y="200" width="4.5" height="4.5" fill="#00ff5c"/><rect x="77" y="200" width="4.5" height="4.5" fill="#00ff6c"/><rect x="81" y="200" width="4.5" height="4.5" fill="#00ff70"/><rect x="85" y="200" width="4.5" height="4.5" fill="#00ff66"/><rect x="89" y="200" width="4.5" height="4.5" fill="#00ff52"/><rect x="93" y="200" width="4.5" height="4.5" fill="#00ff39"/><rect x="97" y="200" width="4.5" height="4.5" fill="#03ff27"/><rect x="101" y="200" width="4.5" height="4.5" fill="#06ff17"/><rect x="105" y="200" width="4.5" height="4.5" fill="#08ff09"/><rect x="109" y="200" width="4.5" height="4.5" fill="#0dfe00"/><rect x="113" y="200" width="4.5" height="4.5" fill="#20fe00"/><rect x="117" y="200" width="4.5" height="4.5" fill="#30fd00"/><rect x="121" y="200" width="4.5" height="4.5" fill="#3dfd00"/><rect x="125" y="200" width="4.5" height="4.5" fill="#49fc00"/><rect x="129" y="200" width="4.5" height="4.5" fill="#53fc00"/><rect x="133" y="200" width="4.5" height="4.5" fill="#5dfc00"/><rect x="137" y="200" width="4.5" height="4.5" fill="#6cfb00"/><rect x="141" y="200" width="4.5" height="4.5" fill="#88fa00"/><rect x="145" y="200" width="4.5" height="4.5" fill="#aafa00"/><rect x="149" y="200" width="4.5" height="4.5" fill="#bffa00"/><rect x="153" y="200" width="4.5" height="4.5" fill="#b4fa00"/><rect x="157" y="200" width="4.5" height="4.5" fill="#92fa00"/><rect x="161" y="200" width="4.5" height="4.5" fill="#68fb00"/><rect x="165" y="200" width="4.5" height="4.5" fill="#50fc00"/><rect x="169" y="200" width="4.5" height="4.5" fill="#23fe00"/><rect x="173" y="200" width="4.5" height="4.5" fill="#00ff43"/><rect x="177" y="200" width="4.5" height="4.5" fill="#00ffab"/><rect x="181" y="200" width="4.5" height="4.5" fill="#00fbbf"/><rect x="185" y="200" width="4.5" height="4.5" fill="#00fcbe"/><rect x="189" y="200" width="4.5" height="4.5" fill="#00fcbd"/><rect x="193" y="200" width="4.5" height="4.5" fill="#00fdb7"/><rect x="197" y="200" width="4.5" height="4.5" fill="#00ffab"/><rect x="201" y="200" width="4.5" height="4.5" fill="#00ff9c"/><rect x="205" y="200" width="4.5" height="4.5" fill="#00ff8c"/><rect x="209" y="200" width="4.5" height="4.5" fill="#00ff7e"/><rect x="213" y="200" width="4.5" height="4.5" fill="#00ff77"/><rect x="217" y="200" width="4.5" height="4.5" fill="#00ff7c"/><rect x="221" y="200" width="4.5" height="4.5" fill="#00ff8c"/><rect x="225" y="200" width="4.5" height="4.5" fill="#00ffa0"/><rect x="229" y="200" width="4.5" height="4.5" fill="#00fdb4"/><rect x="233" y="200" width="4.5" height="4.5" fill="#00f9cb"/><rect x="237" y="200" width="4.5" height="4.5" fill="#00f4e4"/><rect x="241" y="200" width="4.5" height="4.5" fill="#00e9ff"/><rect x="245" y="200" width="4.5" height="4.5" fill="#00c0ff"/><rect x="249" y="200" width="4.5" height="4.5" fill="#0093ff"/><rect x="253" y="200" width="4.5" height="4.5" fill="#006eff"/><rect x="257" y="200" width="4.5" height="4.5" fill="#0063ff"/><rect x="261" y="200" width="4.5" height="4.5" fill="#00b6ff"/><rect x="265" y="200" width="4.5" height="4.5" fill="#00ff4c"/><rect x="29" y="204" width="4.5" height="4.5" fill="#8efa00"/><rect x="33" y="204" width="4.5" height="4.5" fill="#8efa00"/><rect x="37" y="204" width="4.5" height="4.5" fill="#8cfa00"/><rect x="41" y="204" width="4.5" height="4.5" fill="#5ffb00"/><rect x="45" y="204" width="4.5" height="4.5" fill="#18fe00"/><rect x="49" y="204" width="4.5" height="4.5" fill="#09ff04"/><rect x="53" y="204" width="4.5" height="4.5" fill="#08ff0b"/><rect x="57" y="204" width="4.5" height="4.5" fill="#06ff16"/><rect x="61" y="204" width="4.5" height="4.5" fill="#03ff25"/><rect x="65" y="204" width="4.5" height="4.5" fill="#00ff38"/><rect x="69" y="204" width="4.5" height="4.5" fill="#00ff53"/><rect x="73" y="204" width="4.5" height="4.5" fill="#00ff68"/><rect x="77" y="204" width="4.5" height="4.5" fill="#00ff72"/><rect x="81" y="204" width="4.5" height="4.5" fill="#00ff6c"/><rect x="85" y="204" width="4.5" height="4.5" fill="#00ff5a"/><rect x="89" y="204" width="4.5" height="4.5" fill="#00ff40"/><rect x="93" y="204" width="4.5" height="4.5" fill="#02ff2c"/><rect x="97" y="204" width="4.5" height="4.5" fill="#05ff1b"/><rect x="101" y="204" width="4.5" height="4.5" fill="#07ff0c"/><rect x="105" y="204" width="4.5" height="4.5" fill="#09ff00"/><rect x="109" y="204" width="4.5" height="4.5" fill="#1dfe00"/><rect x="113" y="204" width="4.5" height="4.5" fill="#2efd00"/><rect x="117" y="204" width="4.5" height="4.5" fill="#3efd00"/><rect x="121" y="204" width="4.5" height="4.5" fill="#4efc00"/><rect x="125" y="204" width="4.5" height="4.5" fill="#5efb00"/><rect x="129" y="204" width="4.5" height="4.5" fill="#6afb00"/><rect x="133" y="204" width="4.5" height="4.5" fill="#74fb00"/><rect x="137" y="204" width="4.5" height="4.5" fill="#7ffa00"/><rect x="141" y="204" width="4.5" height="4.5" fill="#92fa00"/><rect x="145" y="204" width="4.5" height="4.5" fill="#a6fa00"/><rect x="149" y="204" width="4.5" height="4.5" fill="#b2fa00"/><rect x="153" y="204" width="4.5" height="4.5" fill="#a9fa00"/><rect x="157" y="204" width="4.5" height="4.5" fill="#8ffa00"/><rect x="161" y="204" width="4.5" height="4.5" fill="#6efb00"/><rect x="165" y="204" width="4.5" height="4.5" fill="#58fc00"/><rect x="169" y="204" width="4.5" height="4.5" fill="#49fc00"/><rect x="173" y="204" width="4.5" height="4.5" fill="#0bfe00"/><rect x="177" y="204" width="4.5" height="4.5" fill="#00ff41"/><rect x="181" y="204" width="4.5" height="4.5" fill="#00ff8a"/><rect x="185" y="204" width="4.5" height="4.5" fill="#00ff97"/><rect x="189" y="204" width="4.5" height="4.5" fill="#00ff8c"/><rect x="193" y="204" width="4.5" height="4.5" fill="#00ff7e"/><rect x="197" y="204" width="4.5" height="4.5" fill="#00ff6c"/><rect x="201" y="204" width="4.5" height="4.5" fill="#00ff5a"/><rect x="205" y="204" width="4.5" height="4.5" fill="#00ff4c"/><rect x="209" y="204" width="4.5" height="4.5" fill="#00ff44"/><rect x="213" y="204" width="4.5" height="4.5" fill="#00ff46"/><rect x="217" y="204" width="4.5" height="4.5" fill="#00ff51"/><rect x="221" y="204" width="4.5" height="4.5" fill="#00ff66"/><rect x="225" y="204" width="4.5" height="4.5" fill="#00ff7f"/><rect x="229" y="204" width="4.5" height="4.5" fill="#00ff9a"/><rect x="233" y="204" width="4.5" height="4.5" fill="#00fdb6"/><rect x="237" y="204" width="4.5" height="4.5" fill="#00f8d3"/><rect x="241" y="204" width="4.5" height="4.5" fill="#00f1f5"/><rect x="245" y="204" width="4.5" height="4.5" fill="#00d1ff"/><rect x="249" y="204" width="4.5" height="4.5" fill="#00a7ff"/><rect x="253" y="204" width="4.5" height="4.5" fill="#0083ff"/><rect x="257" y="204" width="4.5" height="4.5" fill="#0076ff"/><rect x="261" y="204" width="4.5" height="4.5" fill="#00c0ff"/><rect x="265" y="204" width="4.5" height="4.5" fill="#00ff4a"/><rect x="29" y="208" width="4.5" height="4.5" fill="#7efa00"/><rect x="33" y="208" width="4.5" height="4.5" fill="#7efa00"/><rect x="37" y="208" width="4.5" height="4.5" fill="#7bfa00"/><rect x="41" y="208" width="4.5" height="4.5" fill="#53fc00"/><rect x="45" y="208" width="4.5" height="4.5" fill="#13fe00"/><rect x="49" y="208" width="4.5" height="4.5" fill="#08ff07"/><rect x="53" y="208" width="4.5" height="4.5" fill="#07ff10"/><rect x="57" y="208" width="4.5" height="4.5" fill="#04ff1e"/><rect x="61" y="208" width="4.5" height="4.5" fill="#01ff30"/><rect x="65" y="208" width="4.5" height="4.5" fill="#00ff47"/><rect x="69" y="208" width="4.5" height="4.5" fill="#00ff62"/><rect x="73" y="208" width="4.5" height="4.5" fill="#00ff71"/><rect x="77" y="208" width="4.5" height="4.5" fill="#00ff71"/><rect x="81" y="208" width="4.5" height="4.5" fill="#00ff63"/><rect x="85" y="208" width="4.5" height="4.5" fill="#00ff4a"/><rect x="89" y="208" width="4.5" height="4.5" fill="#01ff32"/><rect x="93" y="208" width="4.5" height="4.5" fill="#04ff20"/><rect x="97" y="208" width="4.5" height="4.5" fill="#07ff10"/><rect x="101" y="208" width="4.5" height="4.5" fill="#09ff02"/><rect x="105" y="208" width="4.5" height="4.5" fill="#1afe00"/><rect x="109" y="208" width="4.5" height="4.5" fill="#2cfd00"/><rect x="113" y="208" width="4.5" height="4.5" fill="#3cfd00"/><rect x="117" y="208" width="4.5" height="4.5" fill="#4efc00"/><rect x="121" y="208" width="4.5" height="4.5" fill="#65fb00"/><rect x="125" y="208" width="4.5" height="4.5" fill="#7cfa00"/><rect x="129" y="208" width="4.5" height="4.5" fill="#8bfa00"/><rect x="133" y="208" width="4.5" height="4.5" fill="#94fa00"/><rect x="137" y="208" width="4.5" height="4.5" fill="#9bfa00"/><rect x="141" y="208" width="4.5" height="4.5" fill="#a1fa00"/><rect x="145" y="208" width="4.5" height="4.5" fill="#a8fa00"/><rect x="149" y="208" width="4.5" height="4.5" fill="#aafa00"/><rect x="153" y="208" width="4.5" height="4.5" fill="#a2fa00"/><rect x="157" y="208" width="4.5" height="4.5" fill="#91fa00"/><rect x="161" y="208" width="4.5" height="4.5" fill="#7afa00"/><rect x="165" y="208" width="4.5" height="4.5" fill="#64fb00"/><rect x="169" y="208" width="4.5" height="4.5" fill="#52fc00"/><rect x="173" y="208" width="4.5" height="4.5" fill="#43fc00"/><rect x="177" y="208" width="4.5" height="4.5" fill="#0cfe00"/><rect x="181" y="208" width="4.5" height="4.5" fill="#02ff2e"/><rect x="185" y="208" width="4.5" height="4.5" fill="#00ff5e"/><rect x="189" y="208" width="4.5" height="4.5" fill="#00ff64"/><rect x="193" y="208" width="4.5" height="4.5" fill="#00ff51"/><rect x="197" y="208" width="4.5" height="4.5" fill="#00ff3d"/><rect x="201" y="208" width="4.5" height="4.5" fill="#01ff31"/><rect x="205" y="208" width="4.5" height="4.5" fill="#02ff2b"/><rect x="209" y="208" width="4.5" height="4.5" fill="#02ff2b"/><rect x="213" y="208" width="4.5" height="4.5" fill="#01ff31"/><rect x="217" y="208" width="4.5" height="4.5" fill="#00ff3e"/><rect x="221" y="208" width="4.5" height="4.5" fill="#00ff58"/><rect x="225" y="208" width="4.5" height="4.5" fill="#00ff76"/><rect x="229" y="208" width="4.5" height="4.5" fill="#00ff95"/><rect x="233" y="208" width="4.5" height="4.5" fill="#00feb2"/><rect x="237" y="208" width="4.5" height="4.5" fill="#00f9cd"/><rect x="241" y="208" width="4.5" height="4.5" fill="#00f3ec"/><rect x="245" y="208" width="4.5" height="4.5" fill="#00dfff"/><rect x="249" y="208" width="4.5" height="4.5" fill="#00b8ff"/><rect x="253" y="208" width="4.5" height="4.5" fill="#0099ff"/><rect x="257" y="208" width="4.5" height="4.5" fill="#008aff"/><rect x="261" y="208" width="4.5" height="4.5" fill="#00ccff"/><rect x="265" y="208" width="4.5" height="4.5" fill="#00ff47"/><rect x="29" y="212" width="4.5" height="4.5" fill="#6ffb00"/><rect x="33" y="212" width="4.5" height="4.5" fill="#6ffb00"/><rect x="37" y="212" width="4.5" height="4.5" fill="#6cfb00"/><rect x="41" y="212" width="4.5" height="4.5" fill="#48fc00"/><rect x="45" y="212" width="4.5" height="4.5" fill="#0dfe00"/><rect x="49" y="212" width="4.5" height="4.5" fill="#08ff0b"/><rect x="53" y="212" width="4.5" height="4.5" fill="#06ff17"/><rect x="57" y="212" width="4.5" height="4.5" fill="#03ff27"/><rect x="61" y="212" width="4.5" height="4.5" fill="#00ff3b"/><rect x="65" y="212" width="4.5" height="4.5" fill="#00ff59"/><rect x="69" y="212" width="4.5" height="4.5" fill="#00ff6e"/><rect x="73" y="212" width="4.5" height="4.5" fill="#00ff74"/><rect x="77" y="212" width="4.5" height="4.5" fill="#00ff6b"/><rect x="81" y="212" width="4.5" height="4.5" fill="#00ff54"/><rect x="85" y="212" width="4.5" height="4.5" fill="#00ff39"/><rect x="89" y="212" width="4.5" height="4.5" fill="#03ff25"/><rect x="93" y="212" width="4.5" height="4.5" fill="#06ff14"/><rect x="97" y="212" width="4.5" height="4.5" fill="#09ff05"/><rect x="101" y="212" width="4.5" height="4.5" fill="#15fe00"/><rect x="105" y="212" width="4.5" height="4.5" fill="#29fd00"/><rect x="109" y="212" width="4.5" height="4.5" fill="#3afd00"/><rect x="113" y="212" width="4.5" height="4.5" fill="#4bfc00"/><rect x="117" y="212" width="4.5" height="4.5" fill="#61fb00"/><rect x="121" y="212" width="4.5" height="4.5" fill="#7dfa00"/><rect x="125" y="212" width="4.5" height="4.5" fill="#9afa00"/><rect x="129" y="212" width="4.5" height="4.5" fill="#a7fa00"/><rect x="133" y="212" width="4.5" height="4.5" fill="#affa00"/><rect x="137" y="212" width="4.5" height="4.5" fill="#b5fa00"/><rect x="141" y="212" width="4.5" height="4.5" fill="#b8fa00"/><rect x="145" y="212" width="4.5" height="4.5" fill="#b9fa00"/><rect x="149" y="212" width="4.5" height="4.5" fill="#b5fa00"/><rect x="153" y="212" width="4.5" height="4.5" fill="#adfa00"/><rect x="157" y="212" width="4.5" height="4.5" fill="#a0fa00"/><rect x="161" y="212" width="4.5" height="4.5" fill="#90fa00"/><rect x="165" y="212" width="4.5" height="4.5" fill="#75fb00"/><rect x="169" y="212" width="4.5" height="4.5" fill="#5cfc00"/><rect x="173" y="212" width="4.5" height="4.5" fill="#4afc00"/><rect x="177" y="212" width="4.5" height="4.5" fill="#3bfd00"/><rect x="181" y="212" width="4.5" height="4.5" fill="#16fe00"/><rect x="185" y="212" width="4.5" height="4.5" fill="#04ff1e"/><rect x="189" y="212" width="4.5" height="4.5" fill="#00ff38"/><rect x="193" y="212" width="4.5" height="4.5" fill="#00ff3f"/><rect x="197" y="212" width="4.5" height="4.5" fill="#01ff34"/><rect x="201" y="212" width="4.5" height="4.5" fill="#02ff2c"/><rect x="205" y="212" width="4.5" height="4.5" fill="#02ff2a"/><rect x="209" y="212" width="4.5" height="4.5" fill="#02ff2e"/><rect x="213" y="212" width="4.5" height="4.5" fill="#00ff39"/><rect x="217" y="212" width="4.5" height="4.5" fill="#00ff50"/><rect x="221" y="212" width="4.5" height="4.5" fill="#00ff6d"/><rect x="225" y="212" width="4.5" height="4.5" fill="#00ff8b"/><rect x="229" y="212" width="4.5" height="4.5" fill="#00ffa7"/><rect x="233" y="212" width="4.5" height="4.5" fill="#00fbbf"/><rect x="237" y="212" width="4.5" height="4.5" fill="#00f7d5"/><rect x="241" y="212" width="4.5" height="4.5" fill="#00f3ec"/><rect x="245" y="212" width="4.5" height="4.5" fill="#00e6ff"/><rect x="249" y="212" width="4.5" height="4.5" fill="#00c6ff"/><rect x="253" y="212" width="4.5" height="4.5" fill="#00aeff"/><rect x="257" y="212" width="4.5" height="4.5" fill="#00d7ff"/><rect x="261" y="212" width="4.5" height="4.5" fill="#00fcb9"/><rect x="265" y="212" width="4.5" height="4.5" fill="#00ff45"/><rect x="29" y="216" width="4.5" height="4.5" fill="#62fb00"/><rect x="33" y="216" width="4.5" height="4.5" fill="#61fb00"/><rect x="37" y="216" width="4.5" height="4.5" fill="#5ffb00"/><rect x="41" y="216" width="4.5" height="4.5" fill="#3efd00"/><rect x="45" y="216" width="4.5" height="4.5" fill="#09ff00"/><rect x="49" y="216" width="4.5" height="4.5" fill="#07ff0f"/><rect x="53" y="216" width="4.5" height="4.5" fill="#05ff1d"/><rect x="57" y="216" width="4.5" height="4.5" fill="#01ff31"/><rect x="61" y="216" width="4.5" height="4.5" fill="#00ff4d"/><rect x="65" y="216" width="4.5" height="4.5" fill="#00ff68"/><rect x="69" y="216" width="4.5" height="4.5" fill="#00ff75"/><rect x="73" y="216" width="4.5" height="4.5" fill="#00ff71"/><rect x="77" y="216" width="4.5" height="4.5" fill="#00ff5e"/><rect x="81" y="216" width="4.5" height="4.5" fill="#00ff41"/><rect x="85" y="216" width="4.5" height="4.5" fill="#02ff2b"/><rect x="89" y="216" width="4.5" height="4.5" fill="#05ff18"/><rect x="93" y="216" width="4.5" height="4.5" fill="#08ff09"/><rect x="97" y="216" width="4.5" height="4.5" fill="#10fe00"/><rect x="101" y="216" width="4.5" height="4.5" fill="#25fe00"/><rect x="105" y="216" width="4.5" height="4.5" fill="#37fd00"/><rect x="109" y="216" width="4.5" height="4.5" fill="#48fc00"/><rect x="113" y="216" width="4.5" height="4.5" fill="#5bfc00"/><rect x="117" y="216" width="4.5" height="4.5" fill="#72fb00"/><rect x="121" y="216" width="4.5" height="4.5" fill="#91fa00"/><rect x="125" y="216" width="4.5" height="4.5" fill="#aafa00"/><rect x="129" y="216" width="4.5" height="4.5" fill="#b9fa00"/><rect x="133" y="216" width="4.5" height="4.5" fill="#c3fa00"/><rect x="137" y="216" width="4.5" height="4.5" fill="#cafa00"/><rect x="141" y="216" width="4.5" height="4.5" fill="#cefa00"/><rect x="145" y="216" width="4.5" height="4.5" fill="#cdfa00"/><rect x="149" y="216" width="4.5" height="4.5" fill="#c9fa00"/><rect x="153" y="216" width="4.5" height="4.5" fill="#c0fa00"/><rect x="157" y="216" width="4.5" height="4.5" fill="#b4fa00"/><rect x="161" y="216" width="4.5" height="4.5" fill="#a3fa00"/><rect x="165" y="216" width="4.5" height="4.5" fill="#86fa00"/><rect x="169" y="216" width="4.5" height="4.5" fill="#67fb00"/><rect x="173" y="216" width="4.5" height="4.5" fill="#50fc00"/><rect x="177" y="216" width="4.5" height="4.5" fill="#40fd00"/><rect x="181" y="216" width="4.5" height="4.5" fill="#33fd00"/><rect x="185" y="216" width="4.5" height="4.5" fill="#1dfe00"/><rect x="189" y="216" width="4.5" height="4.5" fill="#06ff12"/><rect x="193" y="216" width="4.5" height="4.5" fill="#02ff2c"/><rect x="197" y="216" width="4.5" height="4.5" fill="#00ff3c"/><rect x="201" y="216" width="4.5" height="4.5" fill="#00ff45"/><rect x="205" y="216" width="4.5" height="4.5" fill="#00ff48"/><rect x="209" y="216" width="4.5" height="4.5" fill="#00ff54"/><rect x="213" y="216" width="4.5" height="4.5" fill="#00ff67"/><rect x="217" y="216" width="4.5" height="4.5" fill="#00ff80"/><rect x="221" y="216" width="4.5" height="4.5" fill="#00ff9a"/><rect x="225" y="216" width="4.5" height="4.5" fill="#00fdb4"/><rect x="229" y="216" width="4.5" height="4.5" fill="#00fac9"/><rect x="233" y="216" width="4.5" height="4.5" fill="#00f6da"/><rect x="237" y="216" width="4.5" height="4.5" fill="#00f4e8"/><rect x="241" y="216" width="4.5" height="4.5" fill="#00f1f7"/><rect x="245" y="216" width="4.5" height="4.5" fill="#00e3ff"/><rect x="249" y="216" width="4.5" height="4.5" fill="#00eaff"/><rect x="253" y="216" width="4.5" height="4.5" fill="#00fcbe"/><rect x="257" y="216" width="4.5" height="4.5" fill="#00ff5c"/><rect x="261" y="216" width="4.5" height="4.5" fill="#05ff19"/><rect x="265" y="216" width="4.5" height="4.5" fill="#09ff00"/><rect x="29" y="220" width="4.5" height="4.5" fill="#55fc00"/><rect x="33" y="220" width="4.5" height="4.5" fill="#55fc00"/><rect x="37" y="220" width="4.5" height="4.5" fill="#52fc00"/><rect x="41" y="220" width="4.5" height="4.5" fill="#34fd00"/><rect x="45" y="220" width="4.5" height="4.5" fill="#09ff03"/><rect x="49" y="220" width="4.5" height="4.5" fill="#06ff13"/><rect x="53" y="220" width="4.5" height="4.5" fill="#03ff24"/><rect x="57" y="220" width="4.5" height="4.5" fill="#00ff3a"/><rect x="61" y="220" width="4.5" height="4.5" fill="#00ff5b"/><rect x="65" y="220" width="4.5" height="4.5" fill="#00ff72"/><rect x="69" y="220" width="4.5" height="4.5" fill="#00ff76"/><rect x="73" y="220" width="4.5" height="4.5" fill="#00ff67"/><rect x="77" y="220" width="4.5" height="4.5" fill="#00ff4c"/><rect x="81" y="220" width="4.5" height="4.5" fill="#01ff32"/><rect x="85" y="220" width="4.5" height="4.5" fill="#04ff1e"/><rect x="89" y="220" width="4.5" height="4.5" fill="#07ff0d"/><rect x="93" y="220" width="4.5" height="4.5" fill="#0afe00"/><rect x="97" y="220" width="4.5" height="4.5" fill="#21fe00"/><rect x="101" y="220" width="4.5" height="4.5" fill="#34fd00"/><rect x="105" y="220" width="4.5" height="4.5" fill="#45fc00"/><rect x="109" y="220" width="4.5" height="4.5" fill="#57fc00"/><rect x="113" y="220" width="4.5" height="4.5" fill="#6bfb00"/><rect x="117" y="220" width="4.5" height="4.5" fill="#83fa00"/><rect x="121" y="220" width="4.5" height="4.5" fill="#9dfa00"/><rect x="125" y="220" width="4.5" height="4.5" fill="#b2fa00"/><rect x="129" y="220" width="4.5" height="4.5" fill="#c2fa00"/><rect x="133" y="220" width="4.5" height="4.5" fill="#cefa00"/><rect x="137" y="220" width="4.5" height="4.5" fill="#d7fa00"/><rect x="141" y="220" width="4.5" height="4.5" fill="#dbfa00"/><rect x="145" y="220" width="4.5" height="4.5" fill="#dbfa00"/><rect x="149" y="220" width="4.5" height="4.5" fill="#d6fa00"/><rect x="153" y="220" width="4.5" height="4.5" fill="#cdfa00"/><rect x="157" y="220" width="4.5" height="4.5" fill="#bffa00"/><rect x="161" y="220" width="4.5" height="4.5" fill="#adfa00"/><rect x="165" y="220" width="4.5" height="4.5" fill="#91fa00"/><rect x="169" y="220" width="4.5" height="4.5" fill="#6ffb00"/><rect x="173" y="220" width="4.5" height="4.5" fill="#56fc00"/><rect x="177" y="220" width="4.5" height="4.5" fill="#44fc00"/><rect x="181" y="220" width="4.5" height="4.5" fill="#35fd00"/><rect x="185" y="220" width="4.5" height="4.5" fill="#2afd00"/><rect x="189" y="220" width="4.5" height="4.5" fill="#21fe00"/><rect x="193" y="220" width="4.5" height="4.5" fill="#08ff08"/><rect x="197" y="220" width="4.5" height="4.5" fill="#03ff26"/><rect x="201" y="220" width="4.5" height="4.5" fill="#00ff49"/><rect x="205" y="220" width="4.5" height="4.5" fill="#00ff74"/><rect x="209" y="220" width="4.5" height="4.5" fill="#00ff94"/><rect x="213" y="220" width="4.5" height="4.5" fill="#00ffa8"/><rect x="217" y="220" width="4.5" height="4.5" fill="#00fcbc"/><rect x="221" y="220" width="4.5" height="4.5" fill="#00f8d0"/><rect x="225" y="220" width="4.5" height="4.5" fill="#00f5e1"/><rect x="229" y="220" width="4.5" height="4.5" fill="#00f2ef"/><rect x="233" y="220" width="4.5" height="4.5" fill="#00f1f9"/><rect x="237" y="220" width="4.5" height="4.5" fill="#00eeff"/><rect x="241" y="220" width="4.5" height="4.5" fill="#00f1f9"/><rect x="245" y="220" width="4.5" height="4.5" fill="#00f9cc"/><rect x="249" y="220" width="4.5" height="4.5" fill="#00ff76"/><rect x="253" y="220" width="4.5" height="4.5" fill="#04ff21"/><rect x="257" y="220" width="4.5" height="4.5" fill="#0afe00"/><rect x="261" y="220" width="4.5" height="4.5" fill="#0bfe00"/><rect x="265" y="220" width="4.5" height="4.5" fill="#0afe00"/><rect x="29" y="224" width="4.5" height="4.5" fill="#4afc00"/><rect x="33" y="224" width="4.5" height="4.5" fill="#4afc00"/><rect x="37" y="224" width="4.5" height="4.5" fill="#46fc00"/><rect x="41" y="224" width="4.5" height="4.5" fill="#2afd00"/><rect x="45" y="224" width="4.5" height="4.5" fill="#08ff07"/><rect x="49" y="224" width="4.5" height="4.5" fill="#05ff18"/><rect x="53" y="224" width="4.5" height="4.5" fill="#02ff2c"/><rect x="57" y="224" width="4.5" height="4.5" fill="#00ff47"/><rect x="61" y="224" width="4.5" height="4.5" fill="#00ff68"/><rect x="65" y="224" width="4.5" height="4.5" fill="#00ff7a"/><rect x="69" y="224" width="4.5" height="4.5" fill="#00ff75"/><rect x="73" y="224" width="4.5" height="4.5" fill="#00ff5b"/><rect x="77" y="224" width="4.5" height="4.5" fill="#00ff39"/><rect x="81" y="224" width="4.5" height="4.5" fill="#04ff23"/><rect x="85" y="224" width="4.5" height="4.5" fill="#07ff11"/><rect x="89" y="224" width="4.5" height="4.5" fill="#09ff02"/><rect x="93" y="224" width="4.5" height="4.5" fill="#1bfe00"/><rect x="97" y="224" width="4.5" height="4.5" fill="#2ffd00"/><rect x="101" y="224" width="4.5" height="4.5" fill="#41fd00"/><rect x="105" y="224" width="4.5" height="4.5" fill="#54fc00"/><rect x="109" y="224" width="4.5" height="4.5" fill="#68fb00"/><rect x="113" y="224" width="4.5" height="4.5" fill="#7efa00"/><rect x="117" y="224" width="4.5" height="4.5" fill="#96fa00"/><rect x="121" y="224" width="4.5" height="4.5" fill="#aafa00"/><rect x="125" y="224" width="4.5" height="4.5" fill="#bdfa00"/><rect x="129" y="224" width="4.5" height="4.5" fill="#cdfa00"/><rect x="133" y="224" width="4.5" height="4.5" fill="#d9fa00"/><rect x="137" y="224" width="4.5" height="4.5" fill="#e2fa00"/><rect x="141" y="224" width="4.5" height="4.5" fill="#e6fa00"/><rect x="145" y="224" width="4.5" height="4.5" fill="#e7fa00"/><rect x="149" y="224" width="4.5" height="4.5" fill="#e4fa00"/><rect x="153" y="224" width="4.5" height="4.5" fill="#d8fa00"/><rect x="157" y="224" width="4.5" height="4.5" fill="#c5fa00"/><rect x="161" y="224" width="4.5" height="4.5" fill="#aefa00"/><rect x="165" y="224" width="4.5" height="4.5" fill="#94fa00"/><rect x="169" y="224" width="4.5" height="4.5" fill="#74fb00"/><rect x="173" y="224" width="4.5" height="4.5" fill="#5bfc00"/><rect x="177" y="224" width="4.5" height="4.5" fill="#47fc00"/><rect x="181" y="224" width="4.5" height="4.5" fill="#38fd00"/><rect x="185" y="224" width="4.5" height="4.5" fill="#2cfd00"/><rect x="189" y="224" width="4.5" height="4.5" fill="#22fe00"/><rect x="193" y="224" width="4.5" height="4.5" fill="#1bfe00"/><rect x="197" y="224" width="4.5" height="4.5" fill="#11fe00"/><rect x="201" y="224" width="4.5" height="4.5" fill="#06ff13"/><rect x="205" y="224" width="4.5" height="4.5" fill="#00ff36"/><rect x="209" y="224" width="4.5" height="4.5" fill="#00ff6e"/><rect x="213" y="224" width="4.5" height="4.5" fill="#00ffa7"/><rect x="217" y="224" width="4.5" height="4.5" fill="#00f8d1"/><rect x="221" y="224" width="4.5" height="4.5" fill="#00f3ed"/><rect x="225" y="224" width="4.5" height="4.5" fill="#00f0fe"/><rect x="229" y="224" width="4.5" height="4.5" fill="#00ebff"/><rect x="233" y="224" width="4.5" height="4.5" fill="#00f1f4"/><rect x="237" y="224" width="4.5" height="4.5" fill="#00fac4"/><rect x="241" y="224" width="4.5" height="4.5" fill="#00ff79"/><rect x="245" y="224" width="4.5" height="4.5" fill="#02ff2e"/><rect x="249" y="224" width="4.5" height="4.5" fill="#09ff02"/><rect x="253" y="224" width="4.5" height="4.5" fill="#18fe00"/><rect x="257" y="224" width="4.5" height="4.5" fill="#13fe00"/><rect x="261" y="224" width="4.5" height="4.5" fill="#0efe00"/><rect x="265" y="224" width="4.5" height="4.5" fill="#0bfe00"/><rect x="29" y="228" width="4.5" height="4.5" fill="#41fd00"/><rect x="33" y="228" width="4.5" height="4.5" fill="#40fd00"/><rect x="37" y="228" width="4.5" height="4.5" fill="#3cfd00"/><rect x="41" y="228" width="4.5" height="4.5" fill="#21fe00"/><rect x="45" y="228" width="4.5" height="4.5" fill="#08ff0b"/><rect x="49" y="228" width="4.5" height="4.5" fill="#04ff1e"/><rect x="53" y="228" width="4.5" height="4.5" fill="#01ff34"/><rect x="57" y="228" width="4.5" height="4.5" fill="#00ff56"/><rect x="61" y="228" width="4.5" height="4.5" fill="#00ff74"/><rect x="65" y="228" width="4.5" height="4.5" fill="#00ff7f"/><rect x="69" y="228" width="4.5" height="4.5" fill="#00ff71"/><rect x="73" y="228" width="4.5" height="4.5" fill="#00ff51"/><rect x="77" y="228" width="4.5" height="4.5" fill="#01ff30"/><rect x="81" y="228" width="4.5" height="4.5" fill="#05ff18"/><rect x="85" y="228" width="4.5" height="4.5" fill="#08ff06"/><rect x="89" y="228" width="4.5" height="4.5" fill="#15fe00"/><rect x="93" y="228" width="4.5" height="4.5" fill="#2afd00"/><rect x="97" y="228" width="4.5" height="4.5" fill="#3dfd00"/><rect x="101" y="228" width="4.5" height="4.5" fill="#51fc00"/><rect x="105" y="228" width="4.5" height="4.5" fill="#65fb00"/><rect x="109" y="228" width="4.5" height="4.5" fill="#7bfa00"/><rect x="113" y="228" width="4.5" height="4.5" fill="#94fa00"/><rect x="117" y="228" width="4.5" height="4.5" fill="#a8fa00"/><rect x="121" y="228" width="4.5" height="4.5" fill="#bcfa00"/><rect x="125" y="228" width="4.5" height="4.5" fill="#cffa00"/><rect x="129" y="228" width="4.5" height="4.5" fill="#dffa00"/><rect x="133" y="228" width="4.5" height="4.5" fill="#ebfa00"/><rect x="137" y="228" width="4.5" height="4.5" fill="#f3fa00"/><rect x="141" y="228" width="4.5" height="4.5" fill="#f7fa00"/><rect x="145" y="228" width="4.5" height="4.5" fill="#faf700"/><rect x="149" y="228" width="4.5" height="4.5" fill="#faf500"/><rect x="153" y="228" width="4.5" height="4.5" fill="#f0fa00"/><rect x="157" y="228" width="4.5" height="4.5" fill="#d0fa00"/><rect x="161" y="228" width="4.5" height="4.5" fill="#aefa00"/><rect x="165" y="228" width="4.5" height="4.5" fill="#92fa00"/><rect x="169" y="228" width="4.5" height="4.5" fill="#77fb00"/><rect x="173" y="228" width="4.5" height="4.5" fill="#60fb00"/><rect x="177" y="228" width="4.5" height="4.5" fill="#4cfc00"/><rect x="181" y="228" width="4.5" height="4.5" fill="#3bfd00"/><rect x="185" y="228" width="4.5" height="4.5" fill="#2efd00"/><rect x="189" y="228" width="4.5" height="4.5" fill="#24fe00"/><rect x="193" y="228" width="4.5" height="4.5" fill="#1cfe00"/><rect x="197" y="228" width="4.5" height="4.5" fill="#17fe00"/><rect x="201" y="228" width="4.5" height="4.5" fill="#14fe00"/><rect x="205" y="228" width="4.5" height="4.5" fill="#10fe00"/><rect x="209" y="228" width="4.5" height="4.5" fill="#07ff0d"/><rect x="213" y="228" width="4.5" height="4.5" fill="#03ff28"/><rect x="217" y="228" width="4.5" height="4.5" fill="#00ff48"/><rect x="221" y="228" width="4.5" height="4.5" fill="#00ff67"/><rect x="225" y="228" width="4.5" height="4.5" fill="#00ff78"/><rect x="229" y="228" width="4.5" height="4.5" fill="#00ff74"/><rect x="233" y="228" width="4.5" height="4.5" fill="#00ff51"/><rect x="237" y="228" width="4.5" height="4.5" fill="#04ff22"/><rect x="241" y="228" width="4.5" height="4.5" fill="#10fe00"/><rect x="245" y="228" width="4.5" height="4.5" fill="#2dfd00"/><rect x="249" y="228" width="4.5" height="4.5" fill="#30fd00"/><rect x="253" y="228" width="4.5" height="4.5" fill="#29fd00"/><rect x="257" y="228" width="4.5" height="4.5" fill="#1efe00"/><rect x="261" y="228" width="4.5" height="4.5" fill="#14fe00"/><rect x="265" y="228" width="4.5" height="4.5" fill="#0efe00"/><rect x="29" y="232" width="4.5" height="4.5" fill="#38fd00"/><rect x="33" y="232" width="4.5" height="4.5" fill="#37fd00"/><rect x="37" y="232" width="4.5" height="4.5" fill="#31fd00"/><rect x="41" y="232" width="4.5" height="4.5" fill="#17fe00"/><rect x="45" y="232" width="4.5" height="4.5" fill="#07ff10"/><rect x="49" y="232" width="4.5" height="4.5" fill="#03ff25"/><rect x="53" y="232" width="4.5" height="4.5" fill="#00ff3e"/><rect x="57" y="232" width="4.5" height="4.5" fill="#00ff65"/><rect x="61" y="232" width="4.5" height="4.5" fill="#00ff7e"/><rect x="65" y="232" width="4.5" height="4.5" fill="#00ff81"/><rect x="69" y="232" width="4.5" height="4.5" fill="#00ff6b"/><rect x="73" y="232" width="4.5" height="4.5" fill="#00ff45"/><rect x="77" y="232" width="4.5" height="4.5" fill="#03ff27"/><rect x="81" y="232" width="4.5" height="4.5" fill="#07ff10"/><rect x="85" y="232" width="4.5" height="4.5" fill="#0bfe00"/><rect x="89" y="232" width="4.5" height="4.5" fill="#24fe00"/><rect x="93" y="232" width="4.5" height="4.5" fill="#38fd00"/><rect x="97" y="232" width="4.5" height="4.5" fill="#4ffc00"/><rect x="101" y="232" width="4.5" height="4.5" fill="#6efb00"/><rect x="105" y="232" width="4.5" height="4.5" fill="#89fa00"/><rect x="109" y="232" width="4.5" height="4.5" fill="#99fa00"/><rect x="113" y="232" width="4.5" height="4.5" fill="#a7fa00"/><rect x="117" y="232" width="4.5" height="4.5" fill="#bcfa00"/><rect x="121" y="232" width="4.5" height="4.5" fill="#d2fa00"/><rect x="125" y="232" width="4.5" height="4.5" fill="#e6fa00"/><rect x="129" y="232" width="4.5" height="4.5" fill="#f7fa00"/><rect x="133" y="232" width="4.5" height="4.5" fill="#faf200"/><rect x="137" y="232" width="4.5" height="4.5" fill="#fbed00"/><rect x="141" y="232" width="4.5" height="4.5" fill="#fbea00"/><rect x="145" y="232" width="4.5" height="4.5" fill="#fbe300"/><rect x="149" y="232" width="4.5" height="4.5" fill="#fcde00"/><rect x="153" y="232" width="4.5" height="4.5" fill="#fbec00"/><rect x="157" y="232" width="4.5" height="4.5" fill="#dbfa00"/><rect x="161" y="232" width="4.5" height="4.5" fill="#a3fa00"/><rect x="165" y="232" width="4.5" height="4.5" fill="#76fb00"/><rect x="169" y="232" width="4.5" height="4.5" fill="#6ffb00"/><rect x="173" y="232" width="4.5" height="4.5" fill="#67fb00"/><rect x="177" y="232" width="4.5" height="4.5" fill="#54fc00"/><rect x="181" y="232" width="4.5" height="4.5" fill="#42fc00"/><rect x="185" y="232" width="4.5" height="4.5" fill="#32fd00"/><rect x="189" y="232" width="4.5" height="4.5" fill="#27fd00"/><rect x="193" y="232" width="4.5" height="4.5" fill="#1ffe00"/><rect x="197" y="232" width="4.5" height="4.5" fill="#1afe00"/><rect x="201" y="232" width="4.5" height="4.5" fill="#18fe00"/><rect x="205" y="232" width="4.5" height="4.5" fill="#18fe00"/><rect x="209" y="232" width="4.5" height="4.5" fill="#19fe00"/><rect x="213" y="232" width="4.5" height="4.5" fill="#1bfe00"/><rect x="217" y="232" width="4.5" height="4.5" fill="#1dfe00"/><rect x="221" y="232" width="4.5" height="4.5" fill="#1bfe00"/><rect x="225" y="232" width="4.5" height="4.5" fill="#1afe00"/><rect x="229" y="232" width="4.5" height="4.5" fill="#22fe00"/><rect x="233" y="232" width="4.5" height="4.5" fill="#30fd00"/><rect x="237" y="232" width="4.5" height="4.5" fill="#38fd00"/><rect x="241" y="232" width="4.5" height="4.5" fill="#3ffd00"/><rect x="245" y="232" width="4.5" height="4.5" fill="#45fc00"/><rect x="249" y="232" width="4.5" height="4.5" fill="#48fc00"/><rect x="253" y="232" width="4.5" height="4.5" fill="#3efd00"/><rect x="257" y="232" width="4.5" height="4.5" fill="#2bfd00"/><rect x="261" y="232" width="4.5" height="4.5" fill="#1afe00"/><rect x="265" y="232" width="4.5" height="4.5" fill="#10fe00"/><rect x="29" y="236" width="4.5" height="4.5" fill="#31fd00"/><rect x="33" y="236" width="4.5" height="4.5" fill="#2efd00"/><rect x="37" y="236" width="4.5" height="4.5" fill="#28fd00"/><rect x="41" y="236" width="4.5" height="4.5" fill="#0cfe00"/><rect x="45" y="236" width="4.5" height="4.5" fill="#06ff16"/><rect x="49" y="236" width="4.5" height="4.5" fill="#02ff2d"/><rect x="53" y="236" width="4.5" height="4.5" fill="#00ff4e"/><rect x="57" y="236" width="4.5" height="4.5" fill="#00ff73"/><rect x="61" y="236" width="4.5" height="4.5" fill="#00ff86"/><rect x="65" y="236" width="4.5" height="4.5" fill="#00ff7f"/><rect x="69" y="236" width="4.5" height="4.5" fill="#00ff61"/><rect x="73" y="236" width="4.5" height="4.5" fill="#00ff39"/><rect x="77" y="236" width="4.5" height="4.5" fill="#04ff1e"/><rect x="81" y="236" width="4.5" height="4.5" fill="#08ff08"/><rect x="85" y="236" width="4.5" height="4.5" fill="#17fe00"/><rect x="89" y="236" width="4.5" height="4.5" fill="#2ffd00"/><rect x="93" y="236" width="4.5" height="4.5" fill="#47fc00"/><rect x="97" y="236" width="4.5" height="4.5" fill="#6ffb00"/><rect x="101" y="236" width="4.5" height="4.5" fill="#a8fa00"/><rect x="105" y="236" width="4.5" height="4.5" fill="#c5fa00"/><rect x="109" y="236" width="4.5" height="4.5" fill="#c1fa00"/><rect x="113" y="236" width="4.5" height="4.5" fill="#c1fa00"/><rect x="117" y="236" width="4.5" height="4.5" fill="#d3fa00"/><rect x="121" y="236" width="4.5" height="4.5" fill="#ebfa00"/><rect x="125" y="236" width="4.5" height="4.5" fill="#faf400"/><rect x="129" y="236" width="4.5" height="4.5" fill="#fbe700"/><rect x="133" y="236" width="4.5" height="4.5" fill="#fcde00"/><rect x="137" y="236" width="4.5" height="4.5" fill="#fcda00"/><rect x="141" y="236" width="4.5" height="4.5" fill="#fcd900"/><rect x="145" y="236" width="4.5" height="4.5" fill="#fcd600"/><rect x="149" y="236" width="4.5" height="4.5" fill="#fdd300"/><rect x="153" y="236" width="4.5" height="4.5" fill="#fcdf00"/><rect x="157" y="236" width="4.5" height="4.5" fill="#e3fa00"/><rect x="161" y="236" width="4.5" height="4.5" fill="#83fa00"/><rect x="165" y="236" width="4.5" height="4.5" fill="#3cfd00"/><rect x="169" y="236" width="4.5" height="4.5" fill="#5dfc00"/><rect x="173" y="236" width="4.5" height="4.5" fill="#72fb00"/><rect x="177" y="236" width="4.5" height="4.5" fill="#64fb00"/><rect x="181" y="236" width="4.5" height="4.5" fill="#50fc00"/><rect x="185" y="236" width="4.5" height="4.5" fill="#3efd00"/><rect x="189" y="236" width="4.5" height="4.5" fill="#2ffd00"/><rect x="193" y="236" width="4.5" height="4.5" fill="#26fd00"/><rect x="197" y="236" width="4.5" height="4.5" fill="#21fe00"/><rect x="201" y="236" width="4.5" height="4.5" fill="#21fe00"/><rect x="205" y="236" width="4.5" height="4.5" fill="#26fd00"/><rect x="209" y="236" width="4.5" height="4.5" fill="#2afd00"/><rect x="213" y="236" width="4.5" height="4.5" fill="#2dfd00"/><rect x="217" y="236" width="4.5" height="4.5" fill="#31fd00"/><rect x="221" y="236" width="4.5" height="4.5" fill="#36fd00"/><rect x="225" y="236" width="4.5" height="4.5" fill="#3cfd00"/><rect x="229" y="236" width="4.5" height="4.5" fill="#43fc00"/><rect x="233" y="236" width="4.5" height="4.5" fill="#49fc00"/><rect x="237" y="236" width="4.5" height="4.5" fill="#4ffc00"/><rect x="241" y="236" width="4.5" height="4.5" fill="#54fc00"/><rect x="245" y="236" width="4.5" height="4.5" fill="#59fc00"/><rect x="249" y="236" width="4.5" height="4.5" fill="#5afc00"/><rect x="253" y="236" width="4.5" height="4.5" fill="#4cfc00"/><rect x="257" y="236" width="4.5" height="4.5" fill="#35fd00"/><rect x="261" y="236" width="4.5" height="4.5" fill="#1ffe00"/><rect x="265" y="236" width="4.5" height="4.5" fill="#12fe00"/><rect x="29" y="240" width="4.5" height="4.5" fill="#2afd00"/><rect x="33" y="240" width="4.5" height="4.5" fill="#27fd00"/><rect x="37" y="240" width="4.5" height="4.5" fill="#1efe00"/><rect x="41" y="240" width="4.5" height="4.5" fill="#09ff04"/><rect x="45" y="240" width="4.5" height="4.5" fill="#05ff1d"/><rect x="49" y="240" width="4.5" height="4.5" fill="#00ff37"/><rect x="53" y="240" width="4.5" height="4.5" fill="#00ff5e"/><rect x="57" y="240" width="4.5" height="4.5" fill="#00ff80"/><rect x="61" y="240" width="4.5" height="4.5" fill="#00ff8b"/><rect x="65" y="240" width="4.5" height="4.5" fill="#00ff7a"/><rect x="69" y="240" width="4.5" height="4.5" fill="#00ff55"/><rect x="73" y="240" width="4.5" height="4.5" fill="#02ff2f"/><rect x="77" y="240" width="4.5" height="4.5" fill="#06ff15"/><rect x="81" y="240" width="4.5" height="4.5" fill="#09ff01"/><rect x="85" y="240" width="4.5" height="4.5" fill="#23fe00"/><rect x="89" y="240" width="4.5" height="4.5" fill="#3afd00"/><rect x="93" y="240" width="4.5" height="4.5" fill="#57fc00"/><rect x="97" y="240" width="4.5" height="4.5" fill="#93fa00"/><rect x="101" y="240" width="4.5" height="4.5" fill="#dbfa00"/><rect x="105" y="240" width="4.5" height="4.5" fill="#faf200"/><rect x="109" y="240" width="4.5" height="4.5" fill="#eefa00"/><rect x="113" y="240" width="4.5" height="4.5" fill="#ddfa00"/><rect x="117" y="240" width="4.5" height="4.5" fill="#ecfa00"/><rect x="121" y="240" width="4.5" height="4.5" fill="#faf000"/><rect x="125" y="240" width="4.5" height="4.5" fill="#fcdf00"/><rect x="129" y="240" width="4.5" height="4.5" fill="#fdd100"/><rect x="133" y="240" width="4.5" height="4.5" fill="#fec800"/><rect x="137" y="240" width="4.5" height="4.5" fill="#fec600"/><rect x="141" y="240" width="4.5" height="4.5" fill="#fec900"/><rect x="145" y="240" width="4.5" height="4.5" fill="#fdcb00"/><rect x="149" y="240" width="4.5" height="4.5" fill="#fdcb00"/><rect x="153" y="240" width="4.5" height="4.5" fill="#fdd400"/><rect x="157" y="240" width="4.5" height="4.5" fill="#f3fa00"/><rect x="161" y="240" width="4.5" height="4.5" fill="#8dfa00"/><rect x="165" y="240" width="4.5" height="4.5" fill="#44fc00"/><rect x="169" y="240" width="4.5" height="4.5" fill="#70fb00"/><rect x="173" y="240" width="4.5" height="4.5" fill="#8dfa00"/><rect x="177" y="240" width="4.5" height="4.5" fill="#82fa00"/><rect x="181" y="240" width="4.5" height="4.5" fill="#6cfb00"/><rect x="185" y="240" width="4.5" height="4.5" fill="#56fc00"/><rect x="189" y="240" width="4.5" height="4.5" fill="#43fc00"/><rect x="193" y="240" width="4.5" height="4.5" fill="#36fd00"/><rect x="197" y="240" width="4.5" height="4.5" fill="#31fd00"/><rect x="201" y="240" width="4.5" height="4.5" fill="#35fd00"/><rect x="205" y="240" width="4.5" height="4.5" fill="#3ffd00"/><rect x="209" y="240" width="4.5" height="4.5" fill="#48fc00"/><rect x="213" y="240" width="4.5" height="4.5" fill="#4afc00"/><rect x="217" y="240" width="4.5" height="4.5" fill="#4cfc00"/><rect x="221" y="240" width="4.5" height="4.5" fill="#50fc00"/><rect x="225" y="240" width="4.5" height="4.5" fill="#54fc00"/><rect x="229" y="240" width="4.5" height="4.5" fill="#57fc00"/><rect x="233" y="240" width="4.5" height="4.5" fill="#5bfc00"/><rect x="237" y="240" width="4.5" height="4.5" fill="#5dfc00"/><rect x="241" y="240" width="4.5" height="4.5" fill="#5efb00"/><rect x="245" y="240" width="4.5" height="4.5" fill="#5dfc00"/><rect x="249" y="240" width="4.5" height="4.5" fill="#5afc00"/><rect x="253" y="240" width="4.5" height="4.5" fill="#4cfc00"/><rect x="257" y="240" width="4.5" height="4.5" fill="#35fd00"/><rect x="261" y="240" width="4.5" height="4.5" fill="#1ffe00"/><rect x="265" y="240" width="4.5" height="4.5" fill="#12fe00"/><rect x="29" y="244" width="4.5" height="4.5" fill="#24fe00"/><rect x="33" y="244" width="4.5" height="4.5" fill="#20fe00"/><rect x="37" y="244" width="4.5" height="4.5" fill="#14fe00"/><rect x="41" y="244" width="4.5" height="4.5" fill="#08ff0a"/><rect x="45" y="244" width="4.5" height="4.5" fill="#03ff24"/><rect x="49" y="244" width="4.5" height="4.5" fill="#00ff44"/><rect x="53" y="244" width="4.5" height="4.5" fill="#00ff6e"/><rect x="57" y="244" width="4.5" height="4.5" fill="#00ff8a"/><rect x="61" y="244" width="4.5" height="4.5" fill="#00ff8c"/><rect x="65" y="244" width="4.5" height="4.5" fill="#00ff72"/><rect x="69" y="244" width="4.5" height="4.5" fill="#00ff46"/><rect x="73" y="244" width="4.5" height="4.5" fill="#03ff25"/><rect x="77" y="244" width="4.5" height="4.5" fill="#07ff0d"/><rect x="81" y="244" width="4.5" height="4.5" fill="#13fe00"/><rect x="85" y="244" width="4.5" height="4.5" fill="#2efd00"/><rect x="89" y="244" width="4.5" height="4.5" fill="#46fc00"/><rect x="93" y="244" width="4.5" height="4.5" fill="#6bfb00"/><rect x="97" y="244" width="4.5" height="4.5" fill="#aefa00"/><rect x="101" y="244" width="4.5" height="4.5" fill="#f7fa00"/><rect x="105" y="244" width="4.5" height="4.5" fill="#fbe800"/><rect x="109" y="244" width="4.5" height="4.5" fill="#faf900"/><rect x="113" y="244" width="4.5" height="4.5" fill="#f2fa00"/><rect x="117" y="244" width="4.5" height="4.5" fill="#faef00"/><rect x="121" y="244" width="4.5" height="4.5" fill="#fcdb00"/><rect x="125" y="244" width="4.5" height="4.5" fill="#fec800"/><rect x="129" y="244" width="4.5" height="4.5" fill="#ffb900"/><rect x="133" y="244" width="4.5" height="4.5" fill="#ffb100"/><rect x="137" y="244" width="4.5" height="4.5" fill="#ffb000"/><rect x="141" y="244" width="4.5" height="4.5" fill="#ffb700"/><rect x="145" y="244" width="4.5" height="4.5" fill="#fec000"/><rect x="149" y="244" width="4.5" height="4.5" fill="#fec500"/><rect x="153" y="244" width="4.5" height="4.5" fill="#fdcd00"/><rect x="157" y="244" width="4.5" height="4.5" fill="#faf400"/><rect x="161" y="244" width="4.5" height="4.5" fill="#9dfa00"/><rect x="165" y="244" width="4.5" height="4.5" fill="#5cfc00"/><rect x="169" y="244" width="4.5" height="4.5" fill="#8bfa00"/><rect x="173" y="244" width="4.5" height="4.5" fill="#a5fa00"/><rect x="177" y="244" width="4.5" height="4.5" fill="#a0fa00"/><rect x="181" y="244" width="4.5" height="4.5" fill="#92fa00"/><rect x="185" y="244" width="4.5" height="4.5" fill="#7bfa00"/><rect x="189" y="244" width="4.5" height="4.5" fill="#64fb00"/><rect x="193" y="244" width="4.5" height="4.5" fill="#54fc00"/><rect x="197" y="244" width="4.5" height="4.5" fill="#4ffc00"/><rect x="201" y="244" width="4.5" height="4.5" fill="#56fc00"/><rect x="205" y="244" width="4.5" height="4.5" fill="#64fb00"/><rect x="209" y="244" width="4.5" height="4.5" fill="#6ffb00"/><rect x="213" y="244" width="4.5" height="4.5" fill="#6dfb00"/><rect x="217" y="244" width="4.5" height="4.5" fill="#67fb00"/><rect x="221" y="244" width="4.5" height="4.5" fill="#63fb00"/><rect x="225" y="244" width="4.5" height="4.5" fill="#60fb00"/><rect x="229" y="244" width="4.5" height="4.5" fill="#5ffb00"/><rect x="233" y="244" width="4.5" height="4.5" fill="#5cfc00"/><rect x="237" y="244" width="4.5" height="4.5" fill="#59fc00"/><rect x="241" y="244" width="4.5" height="4.5" fill="#54fc00"/><rect x="245" y="244" width="4.5" height="4.5" fill="#4ffc00"/><rect x="249" y="244" width="4.5" height="4.5" fill="#49fc00"/><rect x="253" y="244" width="4.5" height="4.5" fill="#3efd00"/><rect x="257" y="244" width="4.5" height="4.5" fill="#2bfd00"/><rect x="261" y="244" width="4.5" height="4.5" fill="#1afe00"/><rect x="265" y="244" width="4.5" height="4.5" fill="#10fe00"/><rect x="29" y="248" width="4.5" height="4.5" fill="#1efe00"/><rect x="33" y="248" width="4.5" height="4.5" fill="#18fe00"/><rect x="37" y="248" width="4.5" height="4.5" fill="#09ff00"/><rect x="41" y="248" width="4.5" height="4.5" fill="#07ff11"/><rect x="45" y="248" width="4.5" height="4.5" fill="#02ff2e"/><rect x="49" y="248" width="4.5" height="4.5" fill="#00ff55"/><rect x="53" y="248" width="4.5" height="4.5" fill="#00ff7e"/><rect x="57" y="248" width="4.5" height="4.5" fill="#00ff92"/><rect x="61" y="248" width="4.5" height="4.5" fill="#00ff89"/><rect x="65" y="248" width="4.5" height="4.5" fill="#00ff66"/><rect x="69" y="248" width="4.5" height="4.5" fill="#00ff38"/><rect x="73" y="248" width="4.5" height="4.5" fill="#05ff1b"/><rect x="77" y="248" width="4.5" height="4.5" fill="#09ff05"/><rect x="81" y="248" width="4.5" height="4.5" fill="#20fe00"/><rect x="85" y="248" width="4.5" height="4.5" fill="#39fd00"/><rect x="89" y="248" width="4.5" height="4.5" fill="#54fc00"/><rect x="93" y="248" width="4.5" height="4.5" fill="#84fa00"/><rect x="97" y="248" width="4.5" height="4.5" fill="#ccfa00"/><rect x="101" y="248" width="4.5" height="4.5" fill="#fbea00"/><rect x="105" y="248" width="4.5" height="4.5" fill="#fbe500"/><rect x="109" y="248" width="4.5" height="4.5" fill="#faf400"/><rect x="113" y="248" width="4.5" height="4.5" fill="#faf000"/><rect x="117" y="248" width="4.5" height="4.5" fill="#fcdb00"/><rect x="121" y="248" width="4.5" height="4.5" fill="#fec400"/><rect x="125" y="248" width="4.5" height="4.5" fill="#ffae00"/><rect x="129" y="248" width="4.5" height="4.5" fill="#ff9e00"/><rect x="133" y="248" width="4.5" height="4.5" fill="#ff9700"/><rect x="137" y="248" width="4.5" height="4.5" fill="#ff9900"/><rect x="141" y="248" width="4.5" height="4.5" fill="#ffa300"/><rect x="145" y="248" width="4.5" height="4.5" fill="#ffb300"/><rect x="149" y="248" width="4.5" height="4.5" fill="#febf00"/><rect x="153" y="248" width="4.5" height="4.5" fill="#fdca00"/><rect x="157" y="248" width="4.5" height="4.5" fill="#faee00"/><rect x="161" y="248" width="4.5" height="4.5" fill="#a6fa00"/><rect x="165" y="248" width="4.5" height="4.5" fill="#6bfb00"/><rect x="169" y="248" width="4.5" height="4.5" fill="#99fa00"/><rect x="173" y="248" width="4.5" height="4.5" fill="#affa00"/><rect x="177" y="248" width="4.5" height="4.5" fill="#affa00"/><rect x="181" y="248" width="4.5" height="4.5" fill="#a7fa00"/><rect x="185" y="248" width="4.5" height="4.5" fill="#9bfa00"/><rect x="189" y="248" width="4.5" height="4.5" fill="#89fa00"/><rect x="193" y="248" width="4.5" height="4.5" fill="#7cfa00"/><rect x="197" y="248" width="4.5" height="4.5" fill="#7afa00"/><rect x="201" y="248" width="4.5" height="4.5" fill="#83fa00"/><rect x="205" y="248" width="4.5" height="4.5" fill="#91fa00"/><rect x="209" y="248" width="4.5" height="4.5" fill="#97fa00"/><rect x="213" y="248" width="4.5" height="4.5" fill="#8cfa00"/><rect x="217" y="248" width="4.5" height="4.5" fill="#77fb00"/><rect x="221" y="248" width="4.5" height="4.5" fill="#67fb00"/><rect x="225" y="248" width="4.5" height="4.5" fill="#5cfc00"/><rect x="229" y="248" width="4.5" height="4.5" fill="#54fc00"/><rect x="233" y="248" width="4.5" height="4.5" fill="#4dfc00"/><rect x="237" y="248" width="4.5" height="4.5" fill="#46fc00"/><rect x="241" y="248" width="4.5" height="4.5" fill="#3ffd00"/><rect x="245" y="248" width="4.5" height="4.5" fill="#37fd00"/><rect x="249" y="248" width="4.5" height="4.5" fill="#31fd00"/><rect x="253" y="248" width="4.5" height="4.5" fill="#29fd00"/><rect x="257" y="248" width="4.5" height="4.5" fill="#1efe00"/><rect x="261" y="248" width="4.5" height="4.5" fill="#14fe00"/><rect x="265" y="248" width="4.5" height="4.5" fill="#0efe00"/><rect x="29" y="252" width="4.5" height="4.5" fill="#19fe00"/><rect x="33" y="252" width="4.5" height="4.5" fill="#11fe00"/><rect x="37" y="252" width="4.5" height="4.5" fill="#09ff05"/><rect x="41" y="252" width="4.5" height="4.5" fill="#05ff19"/><rect x="45" y="252" width="4.5" height="4.5" fill="#00ff38"/><rect x="49" y="252" width="4.5" height="4.5" fill="#00ff66"/><rect x="53" y="252" width="4.5" height="4.5" fill="#00ff8b"/><rect x="57" y="252" width="4.5" height="4.5" fill="#00ff97"/><rect x="61" y="252" width="4.5" height="4.5" fill="#00ff83"/><rect x="65" y="252" width="4.5" height="4.5" fill="#00ff58"/><rect x="69" y="252" width="4.5" height="4.5" fill="#02ff2e"/><rect x="73" y="252" width="4.5" height="4.5" fill="#06ff12"/><rect x="77" y="252" width="4.5" height="4.5" fill="#0efe00"/><rect x="81" y="252" width="4.5" height="4.5" fill="#2cfd00"/><rect x="85" y="252" width="4.5" height="4.5" fill="#45fc00"/><rect x="89" y="252" width="4.5" height="4.5" fill="#64fb00"/><rect x="93" y="252" width="4.5" height="4.5" fill="#9ffa00"/><rect x="97" y="252" width="4.5" height="4.5" fill="#ebfa00"/><rect x="101" y="252" width="4.5" height="4.5" fill="#fcdd00"/><rect x="105" y="252" width="4.5" height="4.5" fill="#fbe200"/><rect x="109" y="252" width="4.5" height="4.5" fill="#fbec00"/><rect x="113" y="252" width="4.5" height="4.5" fill="#fcde00"/><rect x="117" y="252" width="4.5" height="4.5" fill="#fec500"/><rect x="121" y="252" width="4.5" height="4.5" fill="#ffa900"/><rect x="125" y="252" width="4.5" height="4.5" fill="#ff9200"/><rect x="129" y="252" width="4.5" height="4.5" fill="#ff8300"/><rect x="133" y="252" width="4.5" height="4.5" fill="#ff7d00"/><rect x="137" y="252" width="4.5" height="4.5" fill="#ff8200"/><rect x="141" y="252" width="4.5" height="4.5" fill="#ff9100"/><rect x="145" y="252" width="4.5" height="4.5" fill="#ffa600"/><rect x="149" y="252" width="4.5" height="4.5" fill="#ffba00"/><rect x="153" y="252" width="4.5" height="4.5" fill="#fdca00"/><rect x="157" y="252" width="4.5" height="4.5" fill="#faee00"/><rect x="161" y="252" width="4.5" height="4.5" fill="#aafa00"/><rect x="165" y="252" width="4.5" height="4.5" fill="#73fb00"/><rect x="169" y="252" width="4.5" height="4.5" fill="#97fa00"/><rect x="173" y="252" width="4.5" height="4.5" fill="#a8fa00"/><rect x="177" y="252" width="4.5" height="4.5" fill="#aafa00"/><rect x="181" y="252" width="4.5" height="4.5" fill="#a8fa00"/><rect x="185" y="252" width="4.5" height="4.5" fill="#a2fa00"/><rect x="189" y="252" width="4.5" height="4.5" fill="#9cfa00"/><rect x="193" y="252" width="4.5" height="4.5" fill="#9afa00"/><rect x="197" y="252" width="4.5" height="4.5" fill="#9ffa00"/><rect x="201" y="252" width="4.5" height="4.5" fill="#a9fa00"/><rect x="205" y="252" width="4.5" height="4.5" fill="#b0fa00"/><rect x="209" y="252" width="4.5" height="4.5" fill="#adfa00"/><rect x="213" y="252" width="4.5" height="4.5" fill="#9bfa00"/><rect x="217" y="252" width="4.5" height="4.5" fill="#79fb00"/><rect x="221" y="252" width="4.5" height="4.5" fill="#5dfc00"/><rect x="225" y="252" width="4.5" height="4.5" fill="#4afc00"/><rect x="229" y="252" width="4.5" height="4.5" fill="#3efd00"/><rect x="233" y="252" width="4.5" height="4.5" fill="#35fd00"/><rect x="237" y="252" width="4.5" height="4.5" fill="#2efd00"/><rect x="241" y="252" width="4.5" height="4.5" fill="#27fd00"/><rect x="245" y="252" width="4.5" height="4.5" fill="#22fe00"/><rect x="249" y="252" width="4.5" height="4.5" fill="#1dfe00"/><rect x="253" y="252" width="4.5" height="4.5" fill="#18fe00"/><rect x="257" y="252" width="4.5" height="4.5" fill="#13fe00"/><rect x="261" y="252" width="4.5" height="4.5" fill="#0efe00"/><rect x="265" y="252" width="4.5" height="4.5" fill="#0bfe00"/><rect x="29" y="256" width="4.5" height="4.5" fill="#14fe00"/><rect x="33" y="256" width="4.5" height="4.5" fill="#0afe00"/><rect x="37" y="256" width="4.5" height="4.5" fill="#08ff0b"/><rect x="41" y="256" width="4.5" height="4.5" fill="#04ff22"/><rect x="45" y="256" width="4.5" height="4.5" fill="#00ff47"/><rect x="49" y="256" width="4.5" height="4.5" fill="#00ff78"/><rect x="53" y="256" width="4.5" height="4.5" fill="#00ff97"/><rect x="57" y="256" width="4.5" height="4.5" fill="#00ff97"/><rect x="61" y="256" width="4.5" height="4.5" fill="#00ff78"/><rect x="65" y="256" width="4.5" height="4.5" fill="#00ff47"/><rect x="69" y="256" width="4.5" height="4.5" fill="#04ff23"/><rect x="73" y="256" width="4.5" height="4.5" fill="#08ff09"/><rect x="77" y="256" width="4.5" height="4.5" fill="#1bfe00"/><rect x="81" y="256" width="4.5" height="4.5" fill="#37fd00"/><rect x="85" y="256" width="4.5" height="4.5" fill="#51fc00"/><rect x="89" y="256" width="4.5" height="4.5" fill="#78fb00"/><rect x="93" y="256" width="4.5" height="4.5" fill="#bafa00"/><rect x="97" y="256" width="4.5" height="4.5" fill="#faee00"/><rect x="101" y="256" width="4.5" height="4.5" fill="#fdd400"/><rect x="105" y="256" width="4.5" height="4.5" fill="#fce000"/><rect x="109" y="256" width="4.5" height="4.5" fill="#fcdf00"/><rect x="113" y="256" width="4.5" height="4.5" fill="#fdca00"/><rect x="117" y="256" width="4.5" height="4.5" fill="#ffab00"/><rect x="121" y="256" width="4.5" height="4.5" fill="#ff8d00"/><rect x="125" y="256" width="4.5" height="4.5" fill="#fe7600"/><rect x="129" y="256" width="4.5" height="4.5" fill="#fc6701"/><rect x="133" y="256" width="4.5" height="4.5" fill="#fc6401"/><rect x="137" y="256" width="4.5" height="4.5" fill="#fd6c01"/><rect x="141" y="256" width="4.5" height="4.5" fill="#ff7f00"/><rect x="145" y="256" width="4.5" height="4.5" fill="#ff9900"/><rect x="149" y="256" width="4.5" height="4.5" fill="#ffb500"/><rect x="153" y="256" width="4.5" height="4.5" fill="#fdcb00"/><rect x="157" y="256" width="4.5" height="4.5" fill="#faf100"/><rect x="161" y="256" width="4.5" height="4.5" fill="#aafa00"/><rect x="165" y="256" width="4.5" height="4.5" fill="#78fb00"/><rect x="169" y="256" width="4.5" height="4.5" fill="#8ffa00"/><rect x="173" y="256" width="4.5" height="4.5" fill="#98fa00"/><rect x="177" y="256" width="4.5" height="4.5" fill="#95fa00"/><rect x="181" y="256" width="4.5" height="4.5" fill="#96fa00"/><rect x="185" y="256" width="4.5" height="4.5" fill="#98fa00"/><rect x="189" y="256" width="4.5" height="4.5" fill="#9cfa00"/><rect x="193" y="256" width="4.5" height="4.5" fill="#a4fa00"/><rect x="197" y="256" width="4.5" height="4.5" fill="#b1fa00"/><rect x="201" y="256" width="4.5" height="4.5" fill="#bffa00"/><rect x="205" y="256" width="4.5" height="4.5" fill="#c3fa00"/><rect x="209" y="256" width="4.5" height="4.5" fill="#b7fa00"/><rect x="213" y="256" width="4.5" height="4.5" fill="#9cfa00"/><rect x="217" y="256" width="4.5" height="4.5" fill="#70fb00"/><rect x="221" y="256" width="4.5" height="4.5" fill="#4cfc00"/><rect x="225" y="256" width="4.5" height="4.5" fill="#35fd00"/><rect x="229" y="256" width="4.5" height="4.5" fill="#28fd00"/><rect x="233" y="256" width="4.5" height="4.5" fill="#20fe00"/><rect x="237" y="256" width="4.5" height="4.5" fill="#1bfe00"/><rect x="241" y="256" width="4.5" height="4.5" fill="#17fe00"/><rect x="245" y="256" width="4.5" height="4.5" fill="#14fe00"/><rect x="249" y="256" width="4.5" height="4.5" fill="#11fe00"/><rect x="253" y="256" width="4.5" height="4.5" fill="#0ffe00"/><rect x="257" y="256" width="4.5" height="4.5" fill="#0dfe00"/><rect x="261" y="256" width="4.5" height="4.5" fill="#0bfe00"/><rect x="265" y="256" width="4.5" height="4.5" fill="#0afe00"/><rect x="29" y="260" width="4.5" height="4.5" fill="#11fe00"/><rect x="33" y="260" width="4.5" height="4.5" fill="#09ff02"/><rect x="37" y="260" width="4.5" height="4.5" fill="#07ff0f"/><rect x="41" y="260" width="4.5" height="4.5" fill="#03ff28"/><rect x="45" y="260" width="4.5" height="4.5" fill="#00ff54"/><rect x="49" y="260" width="4.5" height="4.5" fill="#00ff85"/><rect x="53" y="260" width="4.5" height="4.5" fill="#00ff9e"/><rect x="57" y="260" width="4.5" height="4.5" fill="#00ff93"/><rect x="61" y="260" width="4.5" height="4.5" fill="#00ff6a"/><rect x="65" y="260" width="4.5" height="4.5" fill="#00ff38"/><rect x="69" y="260" width="4.5" height="4.5" fill="#05ff19"/><rect x="73" y="260" width="4.5" height="4.5" fill="#09ff01"/><rect x="77" y="260" width="4.5" height="4.5" fill="#28fd00"/><rect x="81" y="260" width="4.5" height="4.5" fill="#42fc00"/><rect x="85" y="260" width="4.5" height="4.5" fill="#5efb00"/><rect x="89" y="260" width="4.5" height="4.5" fill="#91fa00"/><rect x="93" y="260" width="4.5" height="4.5" fill="#d8fa00"/><rect x="97" y="260" width="4.5" height="4.5" fill="#fcdc00"/><rect x="101" y="260" width="4.5" height="4.5" fill="#fdd000"/><rect x="105" y="260" width="4.5" height="4.5" fill="#fcda00"/><rect x="109" y="260" width="4.5" height="4.5" fill="#fdd000"/><rect x="113" y="260" width="4.5" height="4.5" fill="#ffb300"/><rect x="117" y="260" width="4.5" height="4.5" fill="#ff8f00"/><rect x="121" y="260" width="4.5" height="4.5" fill="#fd7100"/><rect x="125" y="260" width="4.5" height="4.5" fill="#fa5903"/><rect x="129" y="260" width="4.5" height="4.5" fill="#f84d04"/><rect x="133" y="260" width="4.5" height="4.5" fill="#f84c04"/><rect x="137" y="260" width="4.5" height="4.5" fill="#fa5803"/><rect x="141" y="260" width="4.5" height="4.5" fill="#fd7000"/><rect x="145" y="260" width="4.5" height="4.5" fill="#ff8f00"/><rect x="149" y="260" width="4.5" height="4.5" fill="#ffb000"/><rect x="153" y="260" width="4.5" height="4.5" fill="#fdce00"/><rect x="157" y="260" width="4.5" height="4.5" fill="#faf800"/><rect x="161" y="260" width="4.5" height="4.5" fill="#a8fa00"/><rect x="165" y="260" width="4.5" height="4.5" fill="#7ffa00"/><rect x="169" y="260" width="4.5" height="4.5" fill="#8bfa00"/><rect x="173" y="260" width="4.5" height="4.5" fill="#84fa00"/><rect x="177" y="260" width="4.5" height="4.5" fill="#79fb00"/><rect x="181" y="260" width="4.5" height="4.5" fill="#78fb00"/><rect x="185" y="260" width="4.5" height="4.5" fill="#82fa00"/><rect x="189" y="260" width="4.5" height="4.5" fill="#97fa00"/><rect x="193" y="260" width="4.5" height="4.5" fill="#aafa00"/><rect x="197" y="260" width="4.5" height="4.5" fill="#bafa00"/><rect x="201" y="260" width="4.5" height="4.5" fill="#c3fa00"/><rect x="205" y="260" width="4.5" height="4.5" fill="#c2fa00"/><rect x="209" y="260" width="4.5" height="4.5" fill="#b1fa00"/><rect x="213" y="260" width="4.5" height="4.5" fill="#90fa00"/><rect x="217" y="260" width="4.5" height="4.5" fill="#5ffb00"/><rect x="221" y="260" width="4.5" height="4.5" fill="#39fd00"/><rect x="225" y="260" width="4.5" height="4.5" fill="#23fe00"/><rect x="229" y="260" width="4.5" height="4.5" fill="#18fe00"/><rect x="233" y="260" width="4.5" height="4.5" fill="#13fe00"/><rect x="237" y="260" width="4.5" height="4.5" fill="#10fe00"/><rect x="241" y="260" width="4.5" height="4.5" fill="#0efe00"/><rect x="245" y="260" width="4.5" height="4.5" fill="#0dfe00"/><rect x="249" y="260" width="4.5" height="4.5" fill="#0cfe00"/><rect x="253" y="260" width="4.5" height="4.5" fill="#0bfe00"/><rect x="257" y="260" width="4.5" height="4.5" fill="#0bfe00"/><rect x="261" y="260" width="4.5" height="4.5" fill="#0afe00"/><rect x="265" y="260" width="4.5" height="4.5" fill="#0afe00"/><rect x="29" y="264" width="4.5" height="4.5" fill="#0dfe00"/><rect x="33" y="264" width="4.5" height="4.5" fill="#09ff04"/><rect x="37" y="264" width="4.5" height="4.5" fill="#06ff13"/><rect x="41" y="264" width="4.5" height="4.5" fill="#02ff2e"/><rect x="45" y="264" width="4.5" height="4.5" fill="#00ff5c"/><rect x="49" y="264" width="4.5" height="4.5" fill="#00ff8c"/><rect x="53" y="264" width="4.5" height="4.5" fill="#00ffa0"/><rect x="57" y="264" width="4.5" height="4.5" fill="#00ff8f"/><rect x="61" y="264" width="4.5" height="4.5" fill="#00ff60"/><rect x="65" y="264" width="4.5" height="4.5" fill="#02ff2e"/><rect x="69" y="264" width="4.5" height="4.5" fill="#07ff0f"/><rect x="73" y="264" width="4.5" height="4.5" fill="#14fe00"/><rect x="77" y="264" width="4.5" height="4.5" fill="#33fd00"/><rect x="81" y="264" width="4.5" height="4.5" fill="#4dfc00"/><rect x="85" y="264" width="4.5" height="4.5" fill="#6efb00"/><rect x="89" y="264" width="4.5" height="4.5" fill="#a8fa00"/><rect x="93" y="264" width="4.5" height="4.5" fill="#f7fa00"/><rect x="97" y="264" width="4.5" height="4.5" fill="#fdce00"/><rect x="101" y="264" width="4.5" height="4.5" fill="#fdce00"/><rect x="105" y="264" width="4.5" height="4.5" fill="#fdd200"/><rect x="109" y="264" width="4.5" height="4.5" fill="#febe00"/><rect x="113" y="264" width="4.5" height="4.5" fill="#ff9900"/><rect x="117" y="264" width="4.5" height="4.5" fill="#fe7400"/><rect x="121" y="264" width="4.5" height="4.5" fill="#f95403"/><rect x="125" y="264" width="4.5" height="4.5" fill="#f63e05"/><rect x="129" y="264" width="4.5" height="4.5" fill="#f43406"/><rect x="133" y="264" width="4.5" height="4.5" fill="#f53706"/><rect x="137" y="264" width="4.5" height="4.5" fill="#f74704"/><rect x="141" y="264" width="4.5" height="4.5" fill="#fb6302"/><rect x="145" y="264" width="4.5" height="4.5" fill="#ff8600"/><rect x="149" y="264" width="4.5" height="4.5" fill="#ffad00"/><rect x="153" y="264" width="4.5" height="4.5" fill="#fdd100"/><rect x="157" y="264" width="4.5" height="4.5" fill="#f1fa00"/><rect x="161" y="264" width="4.5" height="4.5" fill="#a4fa00"/><rect x="165" y="264" width="4.5" height="4.5" fill="#8afa00"/><rect x="169" y="264" width="4.5" height="4.5" fill="#90fa00"/><rect x="173" y="264" width="4.5" height="4.5" fill="#7bfa00"/><rect x="177" y="264" width="4.5" height="4.5" fill="#69fb00"/><rect x="181" y="264" width="4.5" height="4.5" fill="#69fb00"/><rect x="185" y="264" width="4.5" height="4.5" fill="#7cfa00"/><rect x="189" y="264" width="4.5" height="4.5" fill="#a1fa00"/><rect x="193" y="264" width="4.5" height="4.5" fill="#c4fa00"/><rect x="197" y="264" width="4.5" height="4.5" fill="#d5fa00"/><rect x="201" y="264" width="4.5" height="4.5" fill="#cbfa00"/><rect x="205" y="264" width="4.5" height="4.5" fill="#b6fa00"/><rect x="209" y="264" width="4.5" height="4.5" fill="#9cfa00"/><rect x="213" y="264" width="4.5" height="4.5" fill="#74fb00"/><rect x="217" y="264" width="4.5" height="4.5" fill="#47fc00"/><rect x="221" y="264" width="4.5" height="4.5" fill="#25fe00"/><rect x="225" y="264" width="4.5" height="4.5" fill="#13fe00"/><rect x="229" y="264" width="4.5" height="4.5" fill="#0dfe00"/><rect x="233" y="264" width="4.5" height="4.5" fill="#0cfe00"/><rect x="237" y="264" width="4.5" height="4.5" fill="#0bfe00"/><rect x="241" y="264" width="4.5" height="4.5" fill="#0bfe00"/><rect x="245" y="264" width="4.5" height="4.5" fill="#0afe00"/><rect x="249" y="264" width="4.5" height="4.5" fill="#0afe00"/><rect x="253" y="264" width="4.5" height="4.5" fill="#0afe00"/><rect x="257" y="264" width="4.5" height="4.5" fill="#0afe00"/><rect x="261" y="264" width="4.5" height="4.5" fill="#0afe00"/><rect x="265" y="264" width="4.5" height="4.5" fill="#0afe00"/><rect x="29" y="268" width="4.5" height="4.5" fill="#0afe00"/><rect x="33" y="268" width="4.5" height="4.5" fill="#08ff07"/><rect x="37" y="268" width="4.5" height="4.5" fill="#06ff17"/><rect x="41" y="268" width="4.5" height="4.5" fill="#01ff33"/><rect x="45" y="268" width="4.5" height="4.5" fill="#00ff65"/><rect x="49" y="268" width="4.5" height="4.5" fill="#00ff91"/><rect x="53" y="268" width="4.5" height="4.5" fill="#00ffa0"/><rect x="57" y="268" width="4.5" height="4.5" fill="#00ff8a"/><rect x="61" y="268" width="4.5" height="4.5" fill="#00ff57"/><rect x="65" y="268" width="4.5" height="4.5" fill="#03ff29"/><rect x="69" y="268" width="4.5" height="4.5" fill="#08ff0b"/><rect x="73" y="268" width="4.5" height="4.5" fill="#1efe00"/><rect x="77" y="268" width="4.5" height="4.5" fill="#3cfd00"/><rect x="81" y="268" width="4.5" height="4.5" fill="#58fc00"/><rect x="85" y="268" width="4.5" height="4.5" fill="#81fa00"/><rect x="89" y="268" width="4.5" height="4.5" fill="#c2fa00"/><rect x="93" y="268" width="4.5" height="4.5" fill="#fbe500"/><rect x="97" y="268" width="4.5" height="4.5" fill="#fec600"/><rect x="101" y="268" width="4.5" height="4.5" fill="#fdcb00"/><rect x="105" y="268" width="4.5" height="4.5" fill="#fec700"/><rect x="109" y="268" width="4.5" height="4.5" fill="#ffa800"/><rect x="113" y="268" width="4.5" height="4.5" fill="#ff7f00"/><rect x="117" y="268" width="4.5" height="4.5" fill="#fa5803"/><rect x="121" y="268" width="4.5" height="4.5" fill="#f53906"/><rect x="125" y="268" width="4.5" height="4.5" fill="#f22408"/><rect x="129" y="268" width="4.5" height="4.5" fill="#f11d09"/><rect x="133" y="268" width="4.5" height="4.5" fill="#f22408"/><rect x="137" y="268" width="4.5" height="4.5" fill="#f53906"/><rect x="141" y="268" width="4.5" height="4.5" fill="#fa5903"/><rect x="145" y="268" width="4.5" height="4.5" fill="#ff8000"/><rect x="149" y="268" width="4.5" height="4.5" fill="#ffab00"/><rect x="153" y="268" width="4.5" height="4.5" fill="#fdd500"/><rect x="157" y="268" width="4.5" height="4.5" fill="#e4fa00"/><rect x="161" y="268" width="4.5" height="4.5" fill="#9cfa00"/><rect x="165" y="268" width="4.5" height="4.5" fill="#93fa00"/><rect x="169" y="268" width="4.5" height="4.5" fill="#99fa00"/><rect x="173" y="268" width="4.5" height="4.5" fill="#7efa00"/><rect x="177" y="268" width="4.5" height="4.5" fill="#69fb00"/><rect x="181" y="268" width="4.5" height="4.5" fill="#6dfb00"/><rect x="185" y="268" width="4.5" height="4.5" fill="#90fa00"/><rect x="189" y="268" width="4.5" height="4.5" fill="#c9fa00"/><rect x="193" y="268" width="4.5" height="4.5" fill="#fbed00"/><rect x="197" y="268" width="4.5" height="4.5" fill="#fbe500"/><rect x="201" y="268" width="4.5" height="4.5" fill="#e3fa00"/><rect x="205" y="268" width="4.5" height="4.5" fill="#adfa00"/><rect x="209" y="268" width="4.5" height="4.5" fill="#7efa00"/><rect x="213" y="268" width="4.5" height="4.5" fill="#50fc00"/><rect x="217" y="268" width="4.5" height="4.5" fill="#26fd00"/><rect x="221" y="268" width="4.5" height="4.5" fill="#09ff01"/><rect x="225" y="268" width="4.5" height="4.5" fill="#08ff07"/><rect x="229" y="268" width="4.5" height="4.5" fill="#08ff06"/><rect x="233" y="268" width="4.5" height="4.5" fill="#09ff02"/><rect x="237" y="268" width="4.5" height="4.5" fill="#09ff00"/><rect x="241" y="268" width="4.5" height="4.5" fill="#0afe00"/><rect x="245" y="268" width="4.5" height="4.5" fill="#0afe00"/><rect x="249" y="268" width="4.5" height="4.5" fill="#0afe00"/><rect x="253" y="268" width="4.5" height="4.5" fill="#0afe00"/><rect x="257" y="268" width="4.5" height="4.5" fill="#0afe00"/><rect x="261" y="268" width="4.5" height="4.5" fill="#0afe00"/><rect x="265" y="268" width="4.5" height="4.5" fill="#0afe00"/><rect x="29" y="272" width="4.5" height="4.5" fill="#09ff01"/><rect x="33" y="272" width="4.5" height="4.5" fill="#08ff0a"/><rect x="37" y="272" width="4.5" height="4.5" fill="#05ff1b"/><rect x="41" y="272" width="4.5" height="4.5" fill="#00ff38"/><rect x="45" y="272" width="4.5" height="4.5" fill="#00ff6d"/><rect x="49" y="272" width="4.5" height="4.5" fill="#00ff97"/><rect x="53" y="272" width="4.5" height="4.5" fill="#00ffa0"/><rect x="57" y="272" width="4.5" height="4.5" fill="#00ff84"/><rect x="61" y="272" width="4.5" height="4.5" fill="#00ff4f"/><rect x="65" y="272" width="4.5" height="4.5" fill="#04ff23"/><rect x="69" y="272" width="4.5" height="4.5" fill="#08ff06"/><rect x="73" y="272" width="4.5" height="4.5" fill="#26fd00"/><rect x="77" y="272" width="4.5" height="4.5" fill="#45fc00"/><rect x="81" y="272" width="4.5" height="4.5" fill="#64fb00"/><rect x="85" y="272" width="4.5" height="4.5" fill="#97fa00"/><rect x="89" y="272" width="4.5" height="4.5" fill="#dffa00"/><rect x="93" y="272" width="4.5" height="4.5" fill="#fdd300"/><rect x="97" y="272" width="4.5" height="4.5" fill="#fec200"/><rect x="101" y="272" width="4.5" height="4.5" fill="#fec800"/><rect x="105" y="272" width="4.5" height="4.5" fill="#ffb800"/><rect x="109" y="272" width="4.5" height="4.5" fill="#ff9100"/><rect x="113" y="272" width="4.5" height="4.5" fill="#fc6601"/><rect x="117" y="272" width="4.5" height="4.5" fill="#f63e05"/><rect x="121" y="272" width="4.5" height="4.5" fill="#f12008"/><rect x="125" y="272" width="4.5" height="4.5" fill="#f0140a"/><rect x="129" y="272" width="4.5" height="4.5" fill="#f0140a"/><rect x="133" y="272" width="4.5" height="4.5" fill="#f01509"/><rect x="137" y="272" width="4.5" height="4.5" fill="#f32e07"/><rect x="141" y="272" width="4.5" height="4.5" fill="#f95203"/><rect x="145" y="272" width="4.5" height="4.5" fill="#ff7d00"/><rect x="149" y="272" width="4.5" height="4.5" fill="#ffab00"/><rect x="153" y="272" width="4.5" height="4.5" fill="#fcd900"/><rect x="157" y="272" width="4.5" height="4.5" fill="#d5fa00"/><rect x="161" y="272" width="4.5" height="4.5" fill="#90fa00"/><rect x="165" y="272" width="4.5" height="4.5" fill="#98fa00"/><rect x="169" y="272" width="4.5" height="4.5" fill="#a2fa00"/><rect x="173" y="272" width="4.5" height="4.5" fill="#88fa00"/><rect x="177" y="272" width="4.5" height="4.5" fill="#74fb00"/><rect x="181" y="272" width="4.5" height="4.5" fill="#82fa00"/><rect x="185" y="272" width="4.5" height="4.5" fill="#b1fa00"/><rect x="189" y="272" width="4.5" height="4.5" fill="#faf700"/><rect x="193" y="272" width="4.5" height="4.5" fill="#ffbc00"/><rect x="197" y="272" width="4.5" height="4.5" fill="#ffbb00"/><rect x="201" y="272" width="4.5" height="4.5" fill="#f6fa00"/><rect x="205" y="272" width="4.5" height="4.5" fill="#a2fa00"/><rect x="209" y="272" width="4.5" height="4.5" fill="#61fb00"/><rect x="213" y="272" width="4.5" height="4.5" fill="#2efd00"/><rect x="217" y="272" width="4.5" height="4.5" fill="#08ff06"/><rect x="221" y="272" width="4.5" height="4.5" fill="#05ff18"/><rect x="225" y="272" width="4.5" height="4.5" fill="#05ff1b"/><rect x="229" y="272" width="4.5" height="4.5" fill="#06ff12"/><rect x="233" y="272" width="4.5" height="4.5" fill="#08ff07"/><rect x="237" y="272" width="4.5" height="4.5" fill="#09ff01"/><rect x="241" y="272" width="4.5" height="4.5" fill="#09ff00"/><rect x="245" y="272" width="4.5" height="4.5" fill="#09ff00"/><rect x="249" y="272" width="4.5" height="4.5" fill="#0afe00"/><rect x="253" y="272" width="4.5" height="4.5" fill="#0afe00"/><rect x="257" y="272" width="4.5" height="4.5" fill="#0afe00"/><rect x="261" y="272" width="4.5" height="4.5" fill="#0afe00"/><rect x="265" y="272" width="4.5" height="4.5" fill="#0afe00"/><rect x="29" y="276" width="4.5" height="4.5" fill="#09ff02"/><rect x="33" y="276" width="4.5" height="4.5" fill="#07ff0c"/><rect x="37" y="276" width="4.5" height="4.5" fill="#04ff20"/><rect x="41" y="276" width="4.5" height="4.5" fill="#00ff3f"/><rect x="45" y="276" width="4.5" height="4.5" fill="#00ff75"/><rect x="49" y="276" width="4.5" height="4.5" fill="#00ff9b"/><rect x="53" y="276" width="4.5" height="4.5" fill="#00ff9f"/><rect x="57" y="276" width="4.5" height="4.5" fill="#00ff7d"/><rect x="61" y="276" width="4.5" height="4.5" fill="#00ff46"/><rect x="65" y="276" width="4.5" height="4.5" fill="#04ff1e"/><rect x="69" y="276" width="4.5" height="4.5" fill="#09ff02"/><rect x="73" y="276" width="4.5" height="4.5" fill="#2efd00"/><rect x="77" y="276" width="4.5" height="4.5" fill="#4efc00"/><rect x="81" y="276" width="4.5" height="4.5" fill="#72fb00"/><rect x="85" y="276" width="4.5" height="4.5" fill="#acfa00"/><rect x="89" y="276" width="4.5" height="4.5" fill="#faf700"/><rect x="93" y="276" width="4.5" height="4.5" fill="#fec600"/><rect x="97" y="276" width="4.5" height="4.5" fill="#fec100"/><rect x="101" y="276" width="4.5" height="4.5" fill="#fec100"/><rect x="105" y="276" width="4.5" height="4.5" fill="#ffa600"/><rect x="109" y="276" width="4.5" height="4.5" fill="#ff7a00"/><rect x="113" y="276" width="4.5" height="4.5" fill="#f84d04"/><rect x="117" y="276" width="4.5" height="4.5" fill="#f22608"/><rect x="121" y="276" width="4.5" height="4.5" fill="#f0140a"/><rect x="125" y="276" width="4.5" height="4.5" fill="#f0140a"/><rect x="129" y="276" width="4.5" height="4.5" fill="#f0140a"/><rect x="133" y="276" width="4.5" height="4.5" fill="#f0140a"/><rect x="137" y="276" width="4.5" height="4.5" fill="#f22708"/><rect x="141" y="276" width="4.5" height="4.5" fill="#f84f04"/><rect x="145" y="276" width="4.5" height="4.5" fill="#ff7d00"/><rect x="149" y="276" width="4.5" height="4.5" fill="#ffae00"/><rect x="153" y="276" width="4.5" height="4.5" fill="#fcdf00"/><rect x="157" y="276" width="4.5" height="4.5" fill="#c7fa00"/><rect x="161" y="276" width="4.5" height="4.5" fill="#7ffa00"/><rect x="165" y="276" width="4.5" height="4.5" fill="#98fa00"/><rect x="169" y="276" width="4.5" height="4.5" fill="#acfa00"/><rect x="173" y="276" width="4.5" height="4.5" fill="#98fa00"/><rect x="177" y="276" width="4.5" height="4.5" fill="#89fa00"/><rect x="181" y="276" width="4.5" height="4.5" fill="#a3fa00"/><rect x="185" y="276" width="4.5" height="4.5" fill="#e0fa00"/><rect x="189" y="276" width="4.5" height="4.5" fill="#fdce00"/><rect x="193" y="276" width="4.5" height="4.5" fill="#ffab00"/><rect x="197" y="276" width="4.5" height="4.5" fill="#fdcd00"/><rect x="201" y="276" width="4.5" height="4.5" fill="#dafa00"/><rect x="205" y="276" width="4.5" height="4.5" fill="#88fa00"/><rect x="209" y="276" width="4.5" height="4.5" fill="#46fc00"/><rect x="213" y="276" width="4.5" height="4.5" fill="#12fe00"/><rect x="217" y="276" width="4.5" height="4.5" fill="#06ff16"/><rect x="221" y="276" width="4.5" height="4.5" fill="#02ff2c"/><rect x="225" y="276" width="4.5" height="4.5" fill="#02ff2e"/><rect x="229" y="276" width="4.5" height="4.5" fill="#04ff1e"/><rect x="233" y="276" width="4.5" height="4.5" fill="#07ff0c"/><rect x="237" y="276" width="4.5" height="4.5" fill="#09ff03"/><rect x="241" y="276" width="4.5" height="4.5" fill="#09ff00"/><rect x="245" y="276" width="4.5" height="4.5" fill="#09ff00"/><rect x="249" y="276" width="4.5" height="4.5" fill="#09ff00"/><rect x="253" y="276" width="4.5" height="4.5" fill="#09ff00"/><rect x="257" y="276" width="4.5" height="4.5" fill="#09ff00"/><rect x="261" y="276" width="4.5" height="4.5" fill="#09ff00"/><rect x="265" y="276" width="4.5" height="4.5" fill="#09ff00"/><rect x="29" y="280" width="4.5" height="4.5" fill="#09ff04"/><rect x="33" y="280" width="4.5" height="4.5" fill="#07ff0f"/><rect x="37" y="280" width="4.5" height="4.5" fill="#03ff24"/><rect x="41" y="280" width="4.5" height="4.5" fill="#00ff48"/><rect x="45" y="280" width="4.5" height="4.5" fill="#00ff7d"/><rect x="49" y="280" width="4.5" height="4.5" fill="#00ff9f"/><rect x="53" y="280" width="4.5" height="4.5" fill="#00ff9d"/><rect x="57" y="280" width="4.5" height="4.5" fill="#00ff76"/><rect x="61" y="280" width="4.5" height="4.5" fill="#00ff3d"/><rect x="65" y="280" width="4.5" height="4.5" fill="#05ff19"/><rect x="69" y="280" width="4.5" height="4.5" fill="#0efe00"/><rect x="73" y="280" width="4.5" height="4.5" fill="#37fd00"/><rect x="77" y="280" width="4.5" height="4.5" fill="#57fc00"/><rect x="81" y="280" width="4.5" height="4.5" fill="#83fa00"/><rect x="85" y="280" width="4.5" height="4.5" fill="#c4fa00"/><rect x="89" y="280" width="4.5" height="4.5" fill="#fbe200"/><rect x="93" y="280" width="4.5" height="4.5" fill="#febe00"/><rect x="97" y="280" width="4.5" height="4.5" fill="#fec000"/><rect x="101" y="280" width="4.5" height="4.5" fill="#ffb800"/><rect x="105" y="280" width="4.5" height="4.5" fill="#ff9300"/><rect x="109" y="280" width="4.5" height="4.5" fill="#fc6401"/><rect x="113" y="280" width="4.5" height="4.5" fill="#f53706"/><rect x="117" y="280" width="4.5" height="4.5" fill="#f0140a"/><rect x="121" y="280" width="4.5" height="4.5" fill="#f0140a"/><rect x="125" y="280" width="4.5" height="4.5" fill="#f0140a"/><rect x="129" y="280" width="4.5" height="4.5" fill="#f0140a"/><rect x="133" y="280" width="4.5" height="4.5" fill="#f0140a"/><rect x="137" y="280" width="4.5" height="4.5" fill="#f22408"/><rect x="141" y="280" width="4.5" height="4.5" fill="#f84f04"/><rect x="145" y="280" width="4.5" height="4.5" fill="#ff8000"/><rect x="149" y="280" width="4.5" height="4.5" fill="#ffb200"/><rect x="153" y="280" width="4.5" height="4.5" fill="#fbe600"/><rect x="157" y="280" width="4.5" height="4.5" fill="#b8fa00"/><rect x="161" y="280" width="4.5" height="4.5" fill="#6dfb00"/><rect x="165" y="280" width="4.5" height="4.5" fill="#96fa00"/><rect x="169" y="280" width="4.5" height="4.5" fill="#b5fa00"/><rect x="173" y="280" width="4.5" height="4.5" fill="#a9fa00"/><rect x="177" y="280" width="4.5" height="4.5" fill="#a5fa00"/><rect x="181" y="280" width="4.5" height="4.5" fill="#cafa00"/><rect x="185" y="280" width="4.5" height="4.5" fill="#fbe300"/><rect x="189" y="280" width="4.5" height="4.5" fill="#ffb000"/><rect x="193" y="280" width="4.5" height="4.5" fill="#ffb900"/><rect x="197" y="280" width="4.5" height="4.5" fill="#faf600"/><rect x="201" y="280" width="4.5" height="4.5" fill="#a8fa00"/><rect x="205" y="280" width="4.5" height="4.5" fill="#61fb00"/><rect x="209" y="280" width="4.5" height="4.5" fill="#30fd00"/><rect x="213" y="280" width="4.5" height="4.5" fill="#09ff01"/><rect x="217" y="280" width="4.5" height="4.5" fill="#05ff1a"/><rect x="221" y="280" width="4.5" height="4.5" fill="#02ff2f"/><rect x="225" y="280" width="4.5" height="4.5" fill="#01ff32"/><rect x="229" y="280" width="4.5" height="4.5" fill="#04ff22"/><rect x="233" y="280" width="4.5" height="4.5" fill="#07ff0f"/><rect x="237" y="280" width="4.5" height="4.5" fill="#09ff04"/><rect x="241" y="280" width="4.5" height="4.5" fill="#09ff00"/><rect x="245" y="280" width="4.5" height="4.5" fill="#09ff00"/><rect x="249" y="280" width="4.5" height="4.5" fill="#09ff00"/><rect x="253" y="280" width="4.5" height="4.5" fill="#09ff00"/><rect x="257" y="280" width="4.5" height="4.5" fill="#09ff00"/><rect x="261" y="280" width="4.5" height="4.5" fill="#09ff00"/><rect x="265" y="280" width="4.5" height="4.5" fill="#09ff00"/><rect x="29" y="284" width="4.5" height="4.5" fill="#08ff06"/><rect x="33" y="284" width="4.5" height="4.5" fill="#06ff12"/><rect x="37" y="284" width="4.5" height="4.5" fill="#03ff29"/><rect x="41" y="284" width="4.5" height="4.5" fill="#00ff51"/><rect x="45" y="284" width="4.5" height="4.5" fill="#00ff85"/><rect x="49" y="284" width="4.5" height="4.5" fill="#00ffa2"/><rect x="53" y="284" width="4.5" height="4.5" fill="#00ff9a"/><rect x="57" y="284" width="4.5" height="4.5" fill="#00ff6f"/><rect x="61" y="284" width="4.5" height="4.5" fill="#00ff37"/><rect x="65" y="284" width="4.5" height="4.5" fill="#06ff13"/><rect x="69" y="284" width="4.5" height="4.5" fill="#17fe00"/><rect x="73" y="284" width="4.5" height="4.5" fill="#3ffd00"/><rect x="77" y="284" width="4.5" height="4.5" fill="#62fb00"/><rect x="81" y="284" width="4.5" height="4.5" fill="#97fa00"/><rect x="85" y="284" width="4.5" height="4.5" fill="#dffa00"/><rect x="89" y="284" width="4.5" height="4.5" fill="#fdd100"/><rect x="93" y="284" width="4.5" height="4.5" fill="#ffbc00"/><rect x="97" y="284" width="4.5" height="4.5" fill="#fec000"/><rect x="101" y="284" width="4.5" height="4.5" fill="#ffac00"/><rect x="105" y="284" width="4.5" height="4.5" fill="#ff8100"/><rect x="109" y="284" width="4.5" height="4.5" fill="#f95003"/><rect x="113" y="284" width="4.5" height="4.5" fill="#f22308"/><rect x="117" y="284" width="4.5" height="4.5" fill="#f0140a"/><rect x="121" y="284" width="4.5" height="4.5" fill="#f0140a"/><rect x="125" y="284" width="4.5" height="4.5" fill="#f0140a"/><rect x="129" y="284" width="4.5" height="4.5" fill="#f0140a"/><rect x="133" y="284" width="4.5" height="4.5" fill="#f0140a"/><rect x="137" y="284" width="4.5" height="4.5" fill="#f22508"/><rect x="141" y="284" width="4.5" height="4.5" fill="#f95303"/><rect x="145" y="284" width="4.5" height="4.5" fill="#ff8600"/><rect x="149" y="284" width="4.5" height="4.5" fill="#ffba00"/><rect x="153" y="284" width="4.5" height="4.5" fill="#faee00"/><rect x="157" y="284" width="4.5" height="4.5" fill="#aafa00"/><rect x="161" y="284" width="4.5" height="4.5" fill="#5dfc00"/><rect x="165" y="284" width="4.5" height="4.5" fill="#92fa00"/><rect x="169" y="284" width="4.5" height="4.5" fill="#bdfa00"/><rect x="173" y="284" width="4.5" height="4.5" fill="#bffa00"/><rect x="177" y="284" width="4.5" height="4.5" fill="#c9fa00"/><rect x="181" y="284" width="4.5" height="4.5" fill="#faf500"/><rect x="185" y="284" width="4.5" height="4.5" fill="#febe00"/><rect x="189" y="284" width="4.5" height="4.5" fill="#ffaa00"/><rect x="193" y="284" width="4.5" height="4.5" fill="#fcda00"/><rect x="197" y="284" width="4.5" height="4.5" fill="#c7fa00"/><rect x="201" y="284" width="4.5" height="4.5" fill="#7afa00"/><rect x="205" y="284" width="4.5" height="4.5" fill="#43fc00"/><rect x="209" y="284" width="4.5" height="4.5" fill="#22fe00"/><rect x="213" y="284" width="4.5" height="4.5" fill="#09ff03"/><rect x="217" y="284" width="4.5" height="4.5" fill="#05ff18"/><rect x="221" y="284" width="4.5" height="4.5" fill="#02ff2d"/><rect x="225" y="284" width="4.5" height="4.5" fill="#01ff34"/><rect x="229" y="284" width="4.5" height="4.5" fill="#03ff26"/><rect x="233" y="284" width="4.5" height="4.5" fill="#06ff12"/><rect x="237" y="284" width="4.5" height="4.5" fill="#09ff05"/><rect x="241" y="284" width="4.5" height="4.5" fill="#09ff01"/><rect x="245" y="284" width="4.5" height="4.5" fill="#09ff00"/><rect x="249" y="284" width="4.5" height="4.5" fill="#09ff00"/><rect x="253" y="284" width="4.5" height="4.5" fill="#09ff00"/><rect x="257" y="284" width="4.5" height="4.5" fill="#09ff00"/><rect x="261" y="284" width="4.5" height="4.5" fill="#09ff00"/><rect x="265" y="284" width="4.5" height="4.5" fill="#09ff00"/><rect x="29" y="288" width="4.5" height="4.5" fill="#08ff07"/><rect x="33" y="288" width="4.5" height="4.5" fill="#06ff15"/><rect x="37" y="288" width="4.5" height="4.5" fill="#02ff2d"/><rect x="41" y="288" width="4.5" height="4.5" fill="#00ff5a"/><rect x="45" y="288" width="4.5" height="4.5" fill="#00ff8c"/><rect x="49" y="288" width="4.5" height="4.5" fill="#00ffa4"/><rect x="53" y="288" width="4.5" height="4.5" fill="#00ff96"/><rect x="57" y="288" width="4.5" height="4.5" fill="#00ff67"/><rect x="61" y="288" width="4.5" height="4.5" fill="#01ff31"/><rect x="65" y="288" width="4.5" height="4.5" fill="#07ff0e"/><rect x="69" y="288" width="4.5" height="4.5" fill="#20fe00"/><rect x="73" y="288" width="4.5" height="4.5" fill="#47fc00"/><rect x="77" y="288" width="4.5" height="4.5" fill="#6efb00"/><rect x="81" y="288" width="4.5" height="4.5" fill="#a9fa00"/><rect x="85" y="288" width="4.5" height="4.5" fill="#faf900"/><rect x="89" y="288" width="4.5" height="4.5" fill="#fec500"/><rect x="93" y="288" width="4.5" height="4.5" fill="#ffbd00"/><rect x="97" y="288" width="4.5" height="4.5" fill="#ffbd00"/><rect x="101" y="288" width="4.5" height="4.5" fill="#ff9f00"/><rect x="105" y="288" width="4.5" height="4.5" fill="#fd7000"/><rect x="109" y="288" width="4.5" height="4.5" fill="#f63e05"/><rect x="113" y="288" width="4.5" height="4.5" fill="#f0140a"/><rect x="117" y="288" width="4.5" height="4.5" fill="#f0140a"/><rect x="121" y="288" width="4.5" height="4.5" fill="#f0140a"/><rect x="125" y="288" width="4.5" height="4.5" fill="#f0140a"/><rect x="129" y="288" width="4.5" height="4.5" fill="#f0140a"/><rect x="133" y="288" width="4.5" height="4.5" fill="#f0140a"/><rect x="137" y="288" width="4.5" height="4.5" fill="#f32a07"/><rect x="141" y="288" width="4.5" height="4.5" fill="#fa5b02"/><rect x="145" y="288" width="4.5" height="4.5" fill="#ff8f00"/><rect x="149" y="288" width="4.5" height="4.5" fill="#fec200"/><rect x="153" y="288" width="4.5" height="4.5" fill="#faf700"/><rect x="157" y="288" width="4.5" height="4.5" fill="#9dfa00"/><rect x="161" y="288" width="4.5" height="4.5" fill="#51fc00"/><rect x="165" y="288" width="4.5" height="4.5" fill="#8ffa00"/><rect x="169" y="288" width="4.5" height="4.5" fill="#c5fa00"/><rect x="173" y="288" width="4.5" height="4.5" fill="#d9fa00"/><rect x="177" y="288" width="4.5" height="4.5" fill="#f9fa00"/><rect x="181" y="288" width="4.5" height="4.5" fill="#fdca00"/><rect x="185" y="288" width="4.5" height="4.5" fill="#ffa600"/><rect x="189" y="288" width="4.5" height="4.5" fill="#fec200"/><rect x="193" y="288" width="4.5" height="4.5" fill="#eafa00"/><rect x="197" y="288" width="4.5" height="4.5" fill="#98fa00"/><rect x="201" y="288" width="4.5" height="4.5" fill="#55fc00"/><rect x="205" y="288" width="4.5" height="4.5" fill="#2ffd00"/><rect x="209" y="288" width="4.5" height="4.5" fill="#18fe00"/><rect x="213" y="288" width="4.5" height="4.5" fill="#09ff04"/><rect x="217" y="288" width="4.5" height="4.5" fill="#06ff16"/><rect x="221" y="288" width="4.5" height="4.5" fill="#02ff2b"/><rect x="225" y="288" width="4.5" height="4.5" fill="#01ff35"/><rect x="229" y="288" width="4.5" height="4.5" fill="#02ff2a"/><rect x="233" y="288" width="4.5" height="4.5" fill="#06ff16"/><rect x="237" y="288" width="4.5" height="4.5" fill="#08ff08"/><rect x="241" y="288" width="4.5" height="4.5" fill="#09ff02"/><rect x="245" y="288" width="4.5" height="4.5" fill="#09ff01"/><rect x="249" y="288" width="4.5" height="4.5" fill="#09ff00"/><rect x="253" y="288" width="4.5" height="4.5" fill="#09ff00"/><rect x="257" y="288" width="4.5" height="4.5" fill="#09ff00"/><rect x="261" y="288" width="4.5" height="4.5" fill="#09ff00"/><rect x="265" y="288" width="4.5" height="4.5" fill="#09ff00"/><rect x="29" y="292" width="4.5" height="4.5" fill="#08ff09"/><rect x="33" y="292" width="4.5" height="4.5" fill="#05ff18"/><rect x="37" y="292" width="4.5" height="4.5" fill="#01ff32"/><rect x="41" y="292" width="4.5" height="4.5" fill="#00ff62"/><rect x="45" y="292" width="4.5" height="4.5" fill="#00ff92"/><rect x="49" y="292" width="4.5" height="4.5" fill="#00ffa6"/><rect x="53" y="292" width="4.5" height="4.5" fill="#00ff92"/><rect x="57" y="292" width="4.5" height="4.5" fill="#00ff5f"/><rect x="61" y="292" width="4.5" height="4.5" fill="#02ff2b"/><rect x="65" y="292" width="4.5" height="4.5" fill="#08ff09"/><rect x="69" y="292" width="4.5" height="4.5" fill="#28fd00"/><rect x="73" y="292" width="4.5" height="4.5" fill="#50fc00"/><rect x="77" y="292" width="4.5" height="4.5" fill="#7dfa00"/><rect x="81" y="292" width="4.5" height="4.5" fill="#bffa00"/><rect x="85" y="292" width="4.5" height="4.5" fill="#fbe500"/><rect x="89" y="292" width="4.5" height="4.5" fill="#febf00"/><rect x="93" y="292" width="4.5" height="4.5" fill="#fec000"/><rect x="97" y="292" width="4.5" height="4.5" fill="#ffb800"/><rect x="101" y="292" width="4.5" height="4.5" fill="#ff9200"/><rect x="105" y="292" width="4.5" height="4.5" fill="#fb6002"/><rect x="109" y="292" width="4.5" height="4.5" fill="#f42f07"/><rect x="113" y="292" width="4.5" height="4.5" fill="#f0140a"/><rect x="117" y="292" width="4.5" height="4.5" fill="#f0140a"/><rect x="121" y="292" width="4.5" height="4.5" fill="#f0140a"/><rect x="125" y="292" width="4.5" height="4.5" fill="#f0140a"/><rect x="129" y="292" width="4.5" height="4.5" fill="#f0140a"/><rect x="133" y="292" width="4.5" height="4.5" fill="#f0140a"/><rect x="137" y="292" width="4.5" height="4.5" fill="#f43306"/><rect x="141" y="292" width="4.5" height="4.5" fill="#fc6501"/><rect x="145" y="292" width="4.5" height="4.5" fill="#ff9a00"/><rect x="149" y="292" width="4.5" height="4.5" fill="#fdcb00"/><rect x="153" y="292" width="4.5" height="4.5" fill="#f0fa00"/><rect x="157" y="292" width="4.5" height="4.5" fill="#8efa00"/><rect x="161" y="292" width="4.5" height="4.5" fill="#4bfc00"/><rect x="165" y="292" width="4.5" height="4.5" fill="#8ffa00"/><rect x="169" y="292" width="4.5" height="4.5" fill="#ccfa00"/><rect x="173" y="292" width="4.5" height="4.5" fill="#eefa00"/><rect x="177" y="292" width="4.5" height="4.5" fill="#fbe300"/><rect x="181" y="292" width="4.5" height="4.5" fill="#ffb300"/><rect x="185" y="292" width="4.5" height="4.5" fill="#ffab00"/><rect x="189" y="292" width="4.5" height="4.5" fill="#fbe800"/><rect x="193" y="292" width="4.5" height="4.5" fill="#b4fa00"/><rect x="197" y="292" width="4.5" height="4.5" fill="#6afb00"/><rect x="201" y="292" width="4.5" height="4.5" fill="#3bfd00"/><rect x="205" y="292" width="4.5" height="4.5" fill="#21fe00"/><rect x="209" y="292" width="4.5" height="4.5" fill="#11fe00"/><rect x="213" y="292" width="4.5" height="4.5" fill="#09ff04"/><rect x="217" y="292" width="4.5" height="4.5" fill="#06ff14"/><rect x="221" y="292" width="4.5" height="4.5" fill="#03ff29"/><rect x="225" y="292" width="4.5" height="4.5" fill="#00ff36"/><rect x="229" y="292" width="4.5" height="4.5" fill="#02ff2f"/><rect x="233" y="292" width="4.5" height="4.5" fill="#05ff1b"/><rect x="237" y="292" width="4.5" height="4.5" fill="#07ff0c"/><rect x="241" y="292" width="4.5" height="4.5" fill="#09ff05"/><rect x="245" y="292" width="4.5" height="4.5" fill="#09ff03"/><rect x="249" y="292" width="4.5" height="4.5" fill="#09ff03"/><rect x="253" y="292" width="4.5" height="4.5" fill="#09ff03"/><rect x="257" y="292" width="4.5" height="4.5" fill="#09ff02"/><rect x="261" y="292" width="4.5" height="4.5" fill="#09ff02"/><rect x="265" y="292" width="4.5" height="4.5" fill="#09ff02"/><rect x="29" y="296" width="4.5" height="4.5" fill="#08ff0b"/><rect x="33" y="296" width="4.5" height="4.5" fill="#05ff1c"/><rect x="37" y="296" width="4.5" height="4.5" fill="#00ff38"/><rect x="41" y="296" width="4.5" height="4.5" fill="#00ff6b"/><rect x="45" y="296" width="4.5" height="4.5" fill="#00ff98"/><rect x="49" y="296" width="4.5" height="4.5" fill="#00ffa6"/><rect x="53" y="296" width="4.5" height="4.5" fill="#00ff8c"/><rect x="57" y="296" width="4.5" height="4.5" fill="#00ff56"/><rect x="61" y="296" width="4.5" height="4.5" fill="#03ff25"/><rect x="65" y="296" width="4.5" height="4.5" fill="#09ff05"/><rect x="69" y="296" width="4.5" height="4.5" fill="#31fd00"/><rect x="73" y="296" width="4.5" height="4.5" fill="#59fc00"/><rect x="77" y="296" width="4.5" height="4.5" fill="#8ffa00"/><rect x="81" y="296" width="4.5" height="4.5" fill="#d7fa00"/><rect x="85" y="296" width="4.5" height="4.5" fill="#fcd600"/><rect x="89" y="296" width="4.5" height="4.5" fill="#fec000"/><rect x="93" y="296" width="4.5" height="4.5" fill="#fec300"/><rect x="97" y="296" width="4.5" height="4.5" fill="#ffb100"/><rect x="101" y="296" width="4.5" height="4.5" fill="#ff8600"/><rect x="105" y="296" width="4.5" height="4.5" fill="#f95303"/><rect x="109" y="296" width="4.5" height="4.5" fill="#f22408"/><rect x="113" y="296" width="4.5" height="4.5" fill="#f0140a"/><rect x="117" y="296" width="4.5" height="4.5" fill="#f0140a"/><rect x="121" y="296" width="4.5" height="4.5" fill="#f0140a"/><rect x="125" y="296" width="4.5" height="4.5" fill="#f0140a"/><rect x="129" y="296" width="4.5" height="4.5" fill="#f0140a"/><rect x="133" y="296" width="4.5" height="4.5" fill="#f0140a"/><rect x="137" y="296" width="4.5" height="4.5" fill="#f64005"/><rect x="141" y="296" width="4.5" height="4.5" fill="#fe7300"/><rect x="145" y="296" width="4.5" height="4.5" fill="#ffa700"/><rect x="149" y="296" width="4.5" height="4.5" fill="#fcd600"/><rect x="153" y="296" width="4.5" height="4.5" fill="#e3fa00"/><rect x="157" y="296" width="4.5" height="4.5" fill="#7ffa00"/><rect x="161" y="296" width="4.5" height="4.5" fill="#4afc00"/><rect x="165" y="296" width="4.5" height="4.5" fill="#95fa00"/><rect x="169" y="296" width="4.5" height="4.5" fill="#d1fa00"/><rect x="173" y="296" width="4.5" height="4.5" fill="#f6fa00"/><rect x="177" y="296" width="4.5" height="4.5" fill="#fbe800"/><rect x="181" y="296" width="4.5" height="4.5" fill="#fcd700"/><rect x="185" y="296" width="4.5" height="4.5" fill="#fbe300"/><rect x="189" y="296" width="4.5" height="4.5" fill="#d3fa00"/><rect x="193" y="296" width="4.5" height="4.5" fill="#85fa00"/><rect x="197" y="296" width="4.5" height="4.5" fill="#49fc00"/><rect x="201" y="296" width="4.5" height="4.5" fill="#28fd00"/><rect x="205" y="296" width="4.5" height="4.5" fill="#16fe00"/><rect x="209" y="296" width="4.5" height="4.5" fill="#0bfe00"/><rect x="213" y="296" width="4.5" height="4.5" fill="#09ff05"/><rect x="217" y="296" width="4.5" height="4.5" fill="#06ff13"/><rect x="221" y="296" width="4.5" height="4.5" fill="#03ff28"/><rect x="225" y="296" width="4.5" height="4.5" fill="#00ff39"/><rect x="229" y="296" width="4.5" height="4.5" fill="#00ff36"/><rect x="233" y="296" width="4.5" height="4.5" fill="#03ff24"/><rect x="237" y="296" width="4.5" height="4.5" fill="#06ff13"/><rect x="241" y="296" width="4.5" height="4.5" fill="#08ff0b"/><rect x="245" y="296" width="4.5" height="4.5" fill="#08ff09"/><rect x="249" y="296" width="4.5" height="4.5" fill="#08ff09"/><rect x="253" y="296" width="4.5" height="4.5" fill="#08ff08"/><rect x="257" y="296" width="4.5" height="4.5" fill="#08ff08"/><rect x="261" y="296" width="4.5" height="4.5" fill="#08ff07"/><rect x="265" y="296" width="4.5" height="4.5" fill="#08ff06"/><rect x="29" y="300" width="4.5" height="4.5" fill="#07ff0d"/><rect x="33" y="300" width="4.5" height="4.5" fill="#04ff20"/><rect x="37" y="300" width="4.5" height="4.5" fill="#00ff3e"/><rect x="41" y="300" width="4.5" height="4.5" fill="#00ff74"/><rect x="45" y="300" width="4.5" height="4.5" fill="#00ff9e"/><rect x="49" y="300" width="4.5" height="4.5" fill="#00ffa6"/><rect x="53" y="300" width="4.5" height="4.5" fill="#00ff86"/><rect x="57" y="300" width="4.5" height="4.5" fill="#00ff4d"/><rect x="61" y="300" width="4.5" height="4.5" fill="#04ff20"/><rect x="65" y="300" width="4.5" height="4.5" fill="#09ff00"/><rect x="69" y="300" width="4.5" height="4.5" fill="#39fd00"/><rect x="73" y="300" width="4.5" height="4.5" fill="#63fb00"/><rect x="77" y="300" width="4.5" height="4.5" fill="#a1fa00"/><rect x="81" y="300" width="4.5" height="4.5" fill="#f1fa00"/><rect x="85" y="300" width="4.5" height="4.5" fill="#fdcc00"/><rect x="89" y="300" width="4.5" height="4.5" fill="#fec400"/><rect x="93" y="300" width="4.5" height="4.5" fill="#fec500"/><rect x="97" y="300" width="4.5" height="4.5" fill="#ffaa00"/><rect x="101" y="300" width="4.5" height="4.5" fill="#ff7c00"/><rect x="105" y="300" width="4.5" height="4.5" fill="#f84a04"/><rect x="109" y="300" width="4.5" height="4.5" fill="#f11c09"/><rect x="113" y="300" width="4.5" height="4.5" fill="#f0140a"/><rect x="117" y="300" width="4.5" height="4.5" fill="#f0140a"/><rect x="121" y="300" width="4.5" height="4.5" fill="#f0140a"/><rect x="125" y="300" width="4.5" height="4.5" fill="#f0140a"/><rect x="129" y="300" width="4.5" height="4.5" fill="#f0140a"/><rect x="133" y="300" width="4.5" height="4.5" fill="#f12008"/><rect x="137" y="300" width="4.5" height="4.5" fill="#f84f04"/><rect x="141" y="300" width="4.5" height="4.5" fill="#ff8300"/><rect x="145" y="300" width="4.5" height="4.5" fill="#ffb600"/><rect x="149" y="300" width="4.5" height="4.5" fill="#fce100"/><rect x="153" y="300" width="4.5" height="4.5" fill="#d4fa00"/><rect x="157" y="300" width="4.5" height="4.5" fill="#72fb00"/><rect x="161" y="300" width="4.5" height="4.5" fill="#4dfc00"/><rect x="165" y="300" width="4.5" height="4.5" fill="#9dfa00"/><rect x="169" y="300" width="4.5" height="4.5" fill="#d6fa00"/><rect x="173" y="300" width="4.5" height="4.5" fill="#f6fa00"/><rect x="177" y="300" width="4.5" height="4.5" fill="#f9fa00"/><rect x="181" y="300" width="4.5" height="4.5" fill="#e6fa00"/><rect x="185" y="300" width="4.5" height="4.5" fill="#c5fa00"/><rect x="189" y="300" width="4.5" height="4.5" fill="#96fa00"/><rect x="193" y="300" width="4.5" height="4.5" fill="#59fc00"/><rect x="197" y="300" width="4.5" height="4.5" fill="#31fd00"/><rect x="201" y="300" width="4.5" height="4.5" fill="#1afe00"/><rect x="205" y="300" width="4.5" height="4.5" fill="#0cfe00"/><rect x="209" y="300" width="4.5" height="4.5" fill="#09ff03"/><rect x="213" y="300" width="4.5" height="4.5" fill="#08ff08"/><rect x="217" y="300" width="4.5" height="4.5" fill="#06ff15"/><rect x="221" y="300" width="4.5" height="4.5" fill="#02ff2a"/><rect x="225" y="300" width="4.5" height="4.5" fill="#00ff40"/><rect x="229" y="300" width="4.5" height="4.5" fill="#00ff44"/><rect x="233" y="300" width="4.5" height="4.5" fill="#01ff32"/><rect x="237" y="300" width="4.5" height="4.5" fill="#04ff21"/><rect x="241" y="300" width="4.5" height="4.5" fill="#05ff18"/><rect x="245" y="300" width="4.5" height="4.5" fill="#06ff16"/><rect x="249" y="300" width="4.5" height="4.5" fill="#06ff15"/><rect x="253" y="300" width="4.5" height="4.5" fill="#06ff15"/><rect x="257" y="300" width="4.5" height="4.5" fill="#06ff13"/><rect x="261" y="300" width="4.5" height="4.5" fill="#06ff12"/><rect x="265" y="300" width="4.5" height="4.5" fill="#07ff10"/><rect x="29" y="304" width="4.5" height="4.5" fill="#07ff0f"/><rect x="33" y="304" width="4.5" height="4.5" fill="#03ff24"/><rect x="37" y="304" width="4.5" height="4.5" fill="#00ff46"/><rect x="41" y="304" width="4.5" height="4.5" fill="#00ff7c"/><rect x="45" y="304" width="4.5" height="4.5" fill="#00ffa2"/><rect x="49" y="304" width="4.5" height="4.5" fill="#00ffa4"/><rect x="53" y="304" width="4.5" height="4.5" fill="#00ff80"/><rect x="57" y="304" width="4.5" height="4.5" fill="#00ff44"/><rect x="61" y="304" width="4.5" height="4.5" fill="#05ff1b"/><rect x="65" y="304" width="4.5" height="4.5" fill="#11fe00"/><rect x="69" y="304" width="4.5" height="4.5" fill="#40fd00"/><rect x="73" y="304" width="4.5" height="4.5" fill="#70fb00"/><rect x="77" y="304" width="4.5" height="4.5" fill="#b4fa00"/><rect x="81" y="304" width="4.5" height="4.5" fill="#faef00"/><rect x="85" y="304" width="4.5" height="4.5" fill="#fec900"/><rect x="89" y="304" width="4.5" height="4.5" fill="#fdcb00"/><rect x="93" y="304" width="4.5" height="4.5" fill="#fec600"/><rect x="97" y="304" width="4.5" height="4.5" fill="#ffa400"/><rect x="101" y="304" width="4.5" height="4.5" fill="#fe7400"/><rect x="105" y="304" width="4.5" height="4.5" fill="#f74305"/><rect x="109" y="304" width="4.5" height="4.5" fill="#f01809"/><rect x="113" y="304" width="4.5" height="4.5" fill="#f0140a"/><rect x="117" y="304" width="4.5" height="4.5" fill="#f0140a"/><rect x="121" y="304" width="4.5" height="4.5" fill="#f0140a"/><rect x="125" y="304" width="4.5" height="4.5" fill="#f0140a"/><rect x="129" y="304" width="4.5" height="4.5" fill="#f0140a"/><rect x="133" y="304" width="4.5" height="4.5" fill="#f43206"/><rect x="137" y="304" width="4.5" height="4.5" fill="#fb6202"/><rect x="141" y="304" width="4.5" height="4.5" fill="#ff9400"/><rect x="145" y="304" width="4.5" height="4.5" fill="#fec500"/><rect x="149" y="304" width="4.5" height="4.5" fill="#faee00"/><rect x="153" y="304" width="4.5" height="4.5" fill="#c4fa00"/><rect x="157" y="304" width="4.5" height="4.5" fill="#61fb00"/><rect x="161" y="304" width="4.5" height="4.5" fill="#4efc00"/><rect x="165" y="304" width="4.5" height="4.5" fill="#a2fa00"/><rect x="169" y="304" width="4.5" height="4.5" fill="#d3fa00"/><rect x="173" y="304" width="4.5" height="4.5" fill="#e4fa00"/><rect x="177" y="304" width="4.5" height="4.5" fill="#d8fa00"/><rect x="181" y="304" width="4.5" height="4.5" fill="#bafa00"/><rect x="185" y="304" width="4.5" height="4.5" fill="#95fa00"/><rect x="189" y="304" width="4.5" height="4.5" fill="#63fb00"/><rect x="193" y="304" width="4.5" height="4.5" fill="#3bfd00"/><rect x="197" y="304" width="4.5" height="4.5" fill="#1ffe00"/><rect x="201" y="304" width="4.5" height="4.5" fill="#0efe00"/><rect x="205" y="304" width="4.5" height="4.5" fill="#09ff03"/><rect x="209" y="304" width="4.5" height="4.5" fill="#08ff08"/><rect x="213" y="304" width="4.5" height="4.5" fill="#07ff0e"/><rect x="217" y="304" width="4.5" height="4.5" fill="#05ff1b"/><rect x="221" y="304" width="4.5" height="4.5" fill="#01ff31"/><rect x="225" y="304" width="4.5" height="4.5" fill="#00ff51"/><rect x="229" y="304" width="4.5" height="4.5" fill="#00ff5f"/><rect x="233" y="304" width="4.5" height="4.5" fill="#00ff4f"/><rect x="237" y="304" width="4.5" height="4.5" fill="#00ff38"/><rect x="241" y="304" width="4.5" height="4.5" fill="#02ff2f"/><rect x="245" y="304" width="4.5" height="4.5" fill="#02ff2d"/><rect x="249" y="304" width="4.5" height="4.5" fill="#02ff2c"/><rect x="253" y="304" width="4.5" height="4.5" fill="#02ff2b"/><rect x="257" y="304" width="4.5" height="4.5" fill="#03ff28"/><rect x="261" y="304" width="4.5" height="4.5" fill="#03ff25"/><rect x="265" y="304" width="4.5" height="4.5" fill="#04ff21"/><rect x="29" y="308" width="4.5" height="4.5" fill="#06ff12"/><rect x="33" y="308" width="4.5" height="4.5" fill="#03ff28"/><rect x="37" y="308" width="4.5" height="4.5" fill="#00ff4f"/><rect x="41" y="308" width="4.5" height="4.5" fill="#00ff84"/><rect x="45" y="308" width="4.5" height="4.5" fill="#00ffa6"/><rect x="49" y="308" width="4.5" height="4.5" fill="#00ffa2"/><rect x="53" y="308" width="4.5" height="4.5" fill="#00ff79"/><rect x="57" y="308" width="4.5" height="4.5" fill="#00ff3b"/><rect x="61" y="308" width="4.5" height="4.5" fill="#06ff15"/><rect x="65" y="308" width="4.5" height="4.5" fill="#19fe00"/><rect x="69" y="308" width="4.5" height="4.5" fill="#48fc00"/><rect x="73" y="308" width="4.5" height="4.5" fill="#7ffa00"/><rect x="77" y="308" width="4.5" height="4.5" fill="#cafa00"/><rect x="81" y="308" width="4.5" height="4.5" fill="#fce100"/><rect x="85" y="308" width="4.5" height="4.5" fill="#fdcc00"/><rect x="89" y="308" width="4.5" height="4.5" fill="#fdd200"/><rect x="93" y="308" width="4.5" height="4.5" fill="#fec500"/><rect x="97" y="308" width="4.5" height="4.5" fill="#ff9f00"/><rect x="101" y="308" width="4.5" height="4.5" fill="#fd6f00"/><rect x="105" y="308" width="4.5" height="4.5" fill="#f64105"/><rect x="109" y="308" width="4.5" height="4.5" fill="#f01909"/><rect x="113" y="308" width="4.5" height="4.5" fill="#f0140a"/><rect x="117" y="308" width="4.5" height="4.5" fill="#f0140a"/><rect x="121" y="308" width="4.5" height="4.5" fill="#f0140a"/><rect x="125" y="308" width="4.5" height="4.5" fill="#f0140a"/><rect x="129" y="308" width="4.5" height="4.5" fill="#f11e08"/><rect x="133" y="308" width="4.5" height="4.5" fill="#f74704"/><rect x="137" y="308" width="4.5" height="4.5" fill="#fe7700"/><rect x="141" y="308" width="4.5" height="4.5" fill="#ffa700"/><rect x="145" y="308" width="4.5" height="4.5" fill="#fdd400"/><rect x="149" y="308" width="4.5" height="4.5" fill="#f7fa00"/><rect x="153" y="308" width="4.5" height="4.5" fill="#b2fa00"/><rect x="157" y="308" width="4.5" height="4.5" fill="#4dfc00"/><rect x="161" y="308" width="4.5" height="4.5" fill="#45fc00"/><rect x="165" y="308" width="4.5" height="4.5" fill="#9bfa00"/><rect x="169" y="308" width="4.5" height="4.5" fill="#c4fa00"/><rect x="173" y="308" width="4.5" height="4.5" fill="#cdfa00"/><rect x="177" y="308" width="4.5" height="4.5" fill="#bdfa00"/><rect x="181" y="308" width="4.5" height="4.5" fill="#9dfa00"/><rect x="185" y="308" width="4.5" height="4.5" fill="#70fb00"/><rect x="189" y="308" width="4.5" height="4.5" fill="#46fc00"/><rect x="193" y="308" width="4.5" height="4.5" fill="#26fd00"/><rect x="197" y="308" width="4.5" height="4.5" fill="#11fe00"/><rect x="201" y="308" width="4.5" height="4.5" fill="#09ff03"/><rect x="205" y="308" width="4.5" height="4.5" fill="#08ff09"/><rect x="209" y="308" width="4.5" height="4.5" fill="#07ff0f"/><rect x="213" y="308" width="4.5" height="4.5" fill="#06ff17"/><rect x="217" y="308" width="4.5" height="4.5" fill="#03ff25"/><rect x="221" y="308" width="4.5" height="4.5" fill="#00ff3e"/><rect x="225" y="308" width="4.5" height="4.5" fill="#00ff6b"/><rect x="229" y="308" width="4.5" height="4.5" fill="#00ff85"/><rect x="233" y="308" width="4.5" height="4.5" fill="#00ff7e"/><rect x="237" y="308" width="4.5" height="4.5" fill="#00ff69"/><rect x="241" y="308" width="4.5" height="4.5" fill="#00ff5c"/><rect x="245" y="308" width="4.5" height="4.5" fill="#00ff59"/><rect x="249" y="308" width="4.5" height="4.5" fill="#00ff58"/><rect x="253" y="308" width="4.5" height="4.5" fill="#00ff54"/><rect x="257" y="308" width="4.5" height="4.5" fill="#00ff4e"/><rect x="261" y="308" width="4.5" height="4.5" fill="#00ff44"/><rect x="265" y="308" width="4.5" height="4.5" fill="#00ff39"/><rect x="29" y="312" width="4.5" height="4.5" fill="#06ff14"/><rect x="33" y="312" width="4.5" height="4.5" fill="#02ff2c"/><rect x="37" y="312" width="4.5" height="4.5" fill="#00ff58"/><rect x="41" y="312" width="4.5" height="4.5" fill="#00ff8c"/><rect x="45" y="312" width="4.5" height="4.5" fill="#00ffa9"/><rect x="49" y="312" width="4.5" height="4.5" fill="#00ff9f"/><rect x="53" y="312" width="4.5" height="4.5" fill="#00ff71"/><rect x="57" y="312" width="4.5" height="4.5" fill="#00ff36"/><rect x="61" y="312" width="4.5" height="4.5" fill="#07ff11"/><rect x="65" y="312" width="4.5" height="4.5" fill="#21fe00"/><rect x="69" y="312" width="4.5" height="4.5" fill="#51fc00"/><rect x="73" y="312" width="4.5" height="4.5" fill="#92fa00"/><rect x="77" y="312" width="4.5" height="4.5" fill="#e0fa00"/><rect x="81" y="312" width="4.5" height="4.5" fill="#fcda00"/><rect x="85" y="312" width="4.5" height="4.5" fill="#fdd300"/><rect x="89" y="312" width="4.5" height="4.5" fill="#fcd800"/><rect x="93" y="312" width="4.5" height="4.5" fill="#fec500"/><rect x="97" y="312" width="4.5" height="4.5" fill="#ff9b00"/><rect x="101" y="312" width="4.5" height="4.5" fill="#fd6d01"/><rect x="105" y="312" width="4.5" height="4.5" fill="#f64205"/><rect x="109" y="312" width="4.5" height="4.5" fill="#f11e08"/><rect x="113" y="312" width="4.5" height="4.5" fill="#f0140a"/><rect x="117" y="312" width="4.5" height="4.5" fill="#f0140a"/><rect x="121" y="312" width="4.5" height="4.5" fill="#f0140a"/><rect x="125" y="312" width="4.5" height="4.5" fill="#f0140a"/><rect x="129" y="312" width="4.5" height="4.5" fill="#f43406"/><rect x="133" y="312" width="4.5" height="4.5" fill="#fb5e02"/><rect x="137" y="312" width="4.5" height="4.5" fill="#ff8c00"/><rect x="141" y="312" width="4.5" height="4.5" fill="#ffbc00"/><rect x="145" y="312" width="4.5" height="4.5" fill="#fbe300"/><rect x="149" y="312" width="4.5" height="4.5" fill="#e4fa00"/><rect x="153" y="312" width="4.5" height="4.5" fill="#9ffa00"/><rect x="157" y="312" width="4.5" height="4.5" fill="#34fd00"/><rect x="161" y="312" width="4.5" height="4.5" fill="#33fd00"/><rect x="165" y="312" width="4.5" height="4.5" fill="#85fa00"/><rect x="169" y="312" width="4.5" height="4.5" fill="#abfa00"/><rect x="173" y="312" width="4.5" height="4.5" fill="#affa00"/><rect x="177" y="312" width="4.5" height="4.5" fill="#a2fa00"/><rect x="181" y="312" width="4.5" height="4.5" fill="#80fa00"/><rect x="185" y="312" width="4.5" height="4.5" fill="#54fc00"/><rect x="189" y="312" width="4.5" height="4.5" fill="#31fd00"/><rect x="193" y="312" width="4.5" height="4.5" fill="#17fe00"/><rect x="197" y="312" width="4.5" height="4.5" fill="#09ff02"/><rect x="201" y="312" width="4.5" height="4.5" fill="#08ff09"/><rect x="205" y="312" width="4.5" height="4.5" fill="#07ff0f"/><rect x="209" y="312" width="4.5" height="4.5" fill="#06ff17"/><rect x="213" y="312" width="4.5" height="4.5" fill="#04ff21"/><rect x="217" y="312" width="4.5" height="4.5" fill="#01ff31"/><rect x="221" y="312" width="4.5" height="4.5" fill="#00ff54"/><rect x="225" y="312" width="4.5" height="4.5" fill="#00ff88"/><rect x="229" y="312" width="4.5" height="4.5" fill="#00ffae"/><rect x="233" y="312" width="4.5" height="4.5" fill="#00feb3"/><rect x="237" y="312" width="4.5" height="4.5" fill="#00ffa4"/><rect x="241" y="312" width="4.5" height="4.5" fill="#00ff98"/><rect x="245" y="312" width="4.5" height="4.5" fill="#00ff95"/><rect x="249" y="312" width="4.5" height="4.5" fill="#00ff94"/><rect x="253" y="312" width="4.5" height="4.5" fill="#00ff8f"/><rect x="257" y="312" width="4.5" height="4.5" fill="#00ff85"/><rect x="261" y="312" width="4.5" height="4.5" fill="#00ff76"/><rect x="265" y="312" width="4.5" height="4.5" fill="#00ff65"/><rect x="29" y="316" width="4.5" height="4.5" fill="#06ff17"/><rect x="33" y="316" width="4.5" height="4.5" fill="#01ff31"/><rect x="37" y="316" width="4.5" height="4.5" fill="#00ff61"/><rect x="41" y="316" width="4.5" height="4.5" fill="#00ff94"/><rect x="45" y="316" width="4.5" height="4.5" fill="#00ffac"/><rect x="49" y="316" width="4.5" height="4.5" fill="#00ff9c"/><rect x="53" y="316" width="4.5" height="4.5" fill="#00ff69"/><rect x="57" y="316" width="4.5" height="4.5" fill="#01ff30"/><rect x="61" y="316" width="4.5" height="4.5" fill="#07ff0c"/><rect x="65" y="316" width="4.5" height="4.5" fill="#29fd00"/><rect x="69" y="316" width="4.5" height="4.5" fill="#5cfc00"/><rect x="73" y="316" width="4.5" height="4.5" fill="#a4fa00"/><rect x="77" y="316" width="4.5" height="4.5" fill="#f5fa00"/><rect x="81" y="316" width="4.5" height="4.5" fill="#fcd800"/><rect x="85" y="316" width="4.5" height="4.5" fill="#fcde00"/><rect x="89" y="316" width="4.5" height="4.5" fill="#fcde00"/><rect x="93" y="316" width="4.5" height="4.5" fill="#fec400"/><rect x="97" y="316" width="4.5" height="4.5" fill="#ff9b00"/><rect x="101" y="316" width="4.5" height="4.5" fill="#fd6f00"/><rect x="105" y="316" width="4.5" height="4.5" fill="#f74604"/><rect x="109" y="316" width="4.5" height="4.5" fill="#f22608"/><rect x="113" y="316" width="4.5" height="4.5" fill="#f0140a"/><rect x="117" y="316" width="4.5" height="4.5" fill="#f0140a"/><rect x="121" y="316" width="4.5" height="4.5" fill="#f01509"/><rect x="125" y="316" width="4.5" height="4.5" fill="#f32b07"/><rect x="129" y="316" width="4.5" height="4.5" fill="#f84c04"/><rect x="133" y="316" width="4.5" height="4.5" fill="#fe7600"/><rect x="137" y="316" width="4.5" height="4.5" fill="#ffa300"/><rect x="141" y="316" width="4.5" height="4.5" fill="#fdce00"/><rect x="145" y="316" width="4.5" height="4.5" fill="#faf300"/><rect x="149" y="316" width="4.5" height="4.5" fill="#d1fa00"/><rect x="153" y="316" width="4.5" height="4.5" fill="#87fa00"/><rect x="157" y="316" width="4.5" height="4.5" fill="#1afe00"/><rect x="161" y="316" width="4.5" height="4.5" fill="#1dfe00"/><rect x="165" y="316" width="4.5" height="4.5" fill="#66fb00"/><rect x="169" y="316" width="4.5" height="4.5" fill="#87fa00"/><rect x="173" y="316" width="4.5" height="4.5" fill="#88fa00"/><rect x="177" y="316" width="4.5" height="4.5" fill="#78fb00"/><rect x="181" y="316" width="4.5" height="4.5" fill="#5cfc00"/><rect x="185" y="316" width="4.5" height="4.5" fill="#3cfd00"/><rect x="189" y="316" width="4.5" height="4.5" fill="#21fe00"/><rect x="193" y="316" width="4.5" height="4.5" fill="#0cfe00"/><rect x="197" y="316" width="4.5" height="4.5" fill="#08ff06"/><rect x="201" y="316" width="4.5" height="4.5" fill="#07ff0d"/><rect x="205" y="316" width="4.5" height="4.5" fill="#06ff14"/><rect x="209" y="316" width="4.5" height="4.5" fill="#04ff1e"/><rect x="213" y="316" width="4.5" height="4.5" fill="#02ff2a"/><rect x="217" y="316" width="4.5" height="4.5" fill="#00ff3c"/><rect x="221" y="316" width="4.5" height="4.5" fill="#00ff66"/><rect x="225" y="316" width="4.5" height="4.5" fill="#00ff9f"/><rect x="229" y="316" width="4.5" height="4.5" fill="#00f9ce"/><rect x="233" y="316" width="4.5" height="4.5" fill="#00f6dd"/><rect x="237" y="316" width="4.5" height="4.5" fill="#00f8d2"/><rect x="241" y="316" width="4.5" height="4.5" fill="#00fac8"/><rect x="245" y="316" width="4.5" height="4.5" fill="#00fac6"/><rect x="249" y="316" width="4.5" height="4.5" fill="#00fac4"/><rect x="253" y="316" width="4.5" height="4.5" fill="#00fcbe"/><rect x="257" y="316" width="4.5" height="4.5" fill="#00feb2"/><rect x="261" y="316" width="4.5" height="4.5" fill="#00ffa0"/><rect x="265" y="316" width="4.5" height="4.5" fill="#00ff89"/><rect x="29" y="320" width="4.5" height="4.5" fill="#05ff1b"/><rect x="33" y="320" width="4.5" height="4.5" fill="#00ff36"/><rect x="37" y="320" width="4.5" height="4.5" fill="#00ff6a"/><rect x="41" y="320" width="4.5" height="4.5" fill="#00ff9a"/><rect x="45" y="320" width="4.5" height="4.5" fill="#00ffad"/><rect x="49" y="320" width="4.5" height="4.5" fill="#00ff97"/><rect x="53" y="320" width="4.5" height="4.5" fill="#00ff61"/><rect x="57" y="320" width="4.5" height="4.5" fill="#02ff2b"/><rect x="61" y="320" width="4.5" height="4.5" fill="#08ff08"/><rect x="65" y="320" width="4.5" height="4.5" fill="#30fd00"/><rect x="69" y="320" width="4.5" height="4.5" fill="#68fb00"/><rect x="73" y="320" width="4.5" height="4.5" fill="#b7fa00"/><rect x="77" y="320" width="4.5" height="4.5" fill="#faf100"/><rect x="81" y="320" width="4.5" height="4.5" fill="#fcde00"/><rect x="85" y="320" width="4.5" height="4.5" fill="#fbe800"/><rect x="89" y="320" width="4.5" height="4.5" fill="#fbe200"/><rect x="93" y="320" width="4.5" height="4.5" fill="#fec500"/><rect x="97" y="320" width="4.5" height="4.5" fill="#ff9c00"/><rect x="101" y="320" width="4.5" height="4.5" fill="#fe7300"/><rect x="105" y="320" width="4.5" height="4.5" fill="#f84f04"/><rect x="109" y="320" width="4.5" height="4.5" fill="#f43306"/><rect x="113" y="320" width="4.5" height="4.5" fill="#f22308"/><rect x="117" y="320" width="4.5" height="4.5" fill="#f12108"/><rect x="121" y="320" width="4.5" height="4.5" fill="#f32c07"/><rect x="125" y="320" width="4.5" height="4.5" fill="#f74505"/><rect x="129" y="320" width="4.5" height="4.5" fill="#fc6701"/><rect x="133" y="320" width="4.5" height="4.5" fill="#ff8f00"/><rect x="137" y="320" width="4.5" height="4.5" fill="#ffba00"/><rect x="141" y="320" width="4.5" height="4.5" fill="#fcdf00"/><rect x="145" y="320" width="4.5" height="4.5" fill="#eefa00"/><rect x="149" y="320" width="4.5" height="4.5" fill="#bffa00"/><rect x="153" y="320" width="4.5" height="4.5" fill="#6cfb00"/><rect x="157" y="320" width="4.5" height="4.5" fill="#09ff03"/><rect x="161" y="320" width="4.5" height="4.5" fill="#0afe00"/><rect x="165" y="320" width="4.5" height="4.5" fill="#4afc00"/><rect x="169" y="320" width="4.5" height="4.5" fill="#5ffb00"/><rect x="173" y="320" width="4.5" height="4.5" fill="#5bfc00"/><rect x="177" y="320" width="4.5" height="4.5" fill="#4ffc00"/><rect x="181" y="320" width="4.5" height="4.5" fill="#3cfd00"/><rect x="185" y="320" width="4.5" height="4.5" fill="#27fd00"/><rect x="189" y="320" width="4.5" height="4.5" fill="#15fe00"/><rect x="193" y="320" width="4.5" height="4.5" fill="#09ff01"/><rect x="197" y="320" width="4.5" height="4.5" fill="#08ff08"/><rect x="201" y="320" width="4.5" height="4.5" fill="#07ff0e"/><rect x="205" y="320" width="4.5" height="4.5" fill="#06ff16"/><rect x="209" y="320" width="4.5" height="4.5" fill="#04ff20"/><rect x="213" y="320" width="4.5" height="4.5" fill="#02ff2d"/><rect x="217" y="320" width="4.5" height="4.5" fill="#00ff40"/><rect x="221" y="320" width="4.5" height="4.5" fill="#00ff69"/><rect x="225" y="320" width="4.5" height="4.5" fill="#00ff9e"/><rect x="229" y="320" width="4.5" height="4.5" fill="#00f9cb"/><rect x="233" y="320" width="4.5" height="4.5" fill="#00f6dd"/><rect x="237" y="320" width="4.5" height="4.5" fill="#00f6db"/><rect x="241" y="320" width="4.5" height="4.5" fill="#00f7d7"/><rect x="245" y="320" width="4.5" height="4.5" fill="#00f7d7"/><rect x="249" y="320" width="4.5" height="4.5" fill="#00f7d7"/><rect x="253" y="320" width="4.5" height="4.5" fill="#00f8d0"/><rect x="257" y="320" width="4.5" height="4.5" fill="#00fbc3"/><rect x="261" y="320" width="4.5" height="4.5" fill="#00feb0"/><rect x="265" y="320" width="4.5" height="4.5" fill="#00ff98"/><rect x="29" y="324" width="4.5" height="4.5" fill="#04ff1e"/><rect x="33" y="324" width="4.5" height="4.5" fill="#00ff3b"/><rect x="37" y="324" width="4.5" height="4.5" fill="#00ff73"/><rect x="41" y="324" width="4.5" height="4.5" fill="#00ffa1"/><rect x="45" y="324" width="4.5" height="4.5" fill="#00ffae"/><rect x="49" y="324" width="4.5" height="4.5" fill="#00ff92"/><rect x="53" y="324" width="4.5" height="4.5" fill="#00ff59"/><rect x="57" y="324" width="4.5" height="4.5" fill="#03ff26"/><rect x="61" y="324" width="4.5" height="4.5" fill="#09ff04"/><rect x="65" y="324" width="4.5" height="4.5" fill="#35fd00"/><rect x="69" y="324" width="4.5" height="4.5" fill="#6cfb00"/><rect x="73" y="324" width="4.5" height="4.5" fill="#b9fa00"/><rect x="77" y="324" width="4.5" height="4.5" fill="#faf400"/><rect x="81" y="324" width="4.5" height="4.5" fill="#fbe900"/><rect x="85" y="324" width="4.5" height="4.5" fill="#faf300"/><rect x="89" y="324" width="4.5" height="4.5" fill="#fbe500"/><rect x="93" y="324" width="4.5" height="4.5" fill="#fec700"/><rect x="97" y="324" width="4.5" height="4.5" fill="#ffa100"/><rect x="101" y="324" width="4.5" height="4.5" fill="#ff7b00"/><rect x="105" y="324" width="4.5" height="4.5" fill="#fa5a02"/><rect x="109" y="324" width="4.5" height="4.5" fill="#f74305"/><rect x="113" y="324" width="4.5" height="4.5" fill="#f53706"/><rect x="117" y="324" width="4.5" height="4.5" fill="#f53806"/><rect x="121" y="324" width="4.5" height="4.5" fill="#f74604"/><rect x="125" y="324" width="4.5" height="4.5" fill="#fb6002"/><rect x="129" y="324" width="4.5" height="4.5" fill="#ff8200"/><rect x="133" y="324" width="4.5" height="4.5" fill="#ffa900"/><rect x="137" y="324" width="4.5" height="4.5" fill="#fdcf00"/><rect x="141" y="324" width="4.5" height="4.5" fill="#faf100"/><rect x="145" y="324" width="4.5" height="4.5" fill="#dafa00"/><rect x="149" y="324" width="4.5" height="4.5" fill="#b1fa00"/><rect x="153" y="324" width="4.5" height="4.5" fill="#71fb00"/><rect x="157" y="324" width="4.5" height="4.5" fill="#25fe00"/><rect x="161" y="324" width="4.5" height="4.5" fill="#1ffe00"/><rect x="165" y="324" width="4.5" height="4.5" fill="#3efd00"/><rect x="169" y="324" width="4.5" height="4.5" fill="#44fc00"/><rect x="173" y="324" width="4.5" height="4.5" fill="#3cfd00"/><rect x="177" y="324" width="4.5" height="4.5" fill="#32fd00"/><rect x="181" y="324" width="4.5" height="4.5" fill="#26fd00"/><rect x="185" y="324" width="4.5" height="4.5" fill="#19fe00"/><rect x="189" y="324" width="4.5" height="4.5" fill="#0efe00"/><rect x="193" y="324" width="4.5" height="4.5" fill="#09ff03"/><rect x="197" y="324" width="4.5" height="4.5" fill="#08ff08"/><rect x="201" y="324" width="4.5" height="4.5" fill="#07ff0d"/><rect x="205" y="324" width="4.5" height="4.5" fill="#06ff15"/><rect x="209" y="324" width="4.5" height="4.5" fill="#04ff1e"/><rect x="213" y="324" width="4.5" height="4.5" fill="#03ff29"/><rect x="217" y="324" width="4.5" height="4.5" fill="#00ff38"/><rect x="221" y="324" width="4.5" height="4.5" fill="#00ff55"/><rect x="225" y="324" width="4.5" height="4.5" fill="#00ff7c"/><rect x="229" y="324" width="4.5" height="4.5" fill="#00ff9f"/><rect x="233" y="324" width="4.5" height="4.5" fill="#00feb3"/><rect x="237" y="324" width="4.5" height="4.5" fill="#00fcbb"/><rect x="241" y="324" width="4.5" height="4.5" fill="#00fbbf"/><rect x="245" y="324" width="4.5" height="4.5" fill="#00fbc3"/><rect x="249" y="324" width="4.5" height="4.5" fill="#00fac4"/><rect x="253" y="324" width="4.5" height="4.5" fill="#00fcbe"/><rect x="257" y="324" width="4.5" height="4.5" fill="#00feb2"/><rect x="261" y="324" width="4.5" height="4.5" fill="#00ffa0"/><rect x="265" y="324" width="4.5" height="4.5" fill="#00ff89"/><rect x="29" y="328" width="4.5" height="4.5" fill="#04ff21"/><rect x="33" y="328" width="4.5" height="4.5" fill="#00ff42"/><rect x="37" y="328" width="4.5" height="4.5" fill="#00ff7b"/><rect x="41" y="328" width="4.5" height="4.5" fill="#00ffa6"/><rect x="45" y="328" width="4.5" height="4.5" fill="#00ffae"/><rect x="49" y="328" width="4.5" height="4.5" fill="#00ff8c"/><rect x="53" y="328" width="4.5" height="4.5" fill="#00ff50"/><rect x="57" y="328" width="4.5" height="4.5" fill="#04ff21"/><rect x="61" y="328" width="4.5" height="4.5" fill="#09ff00"/><rect x="65" y="328" width="4.5" height="4.5" fill="#39fd00"/><rect x="69" y="328" width="4.5" height="4.5" fill="#65fb00"/><rect x="73" y="328" width="4.5" height="4.5" fill="#9dfa00"/><rect x="77" y="328" width="4.5" height="4.5" fill="#ccfa00"/><rect x="81" y="328" width="4.5" height="4.5" fill="#e4fa00"/><rect x="85" y="328" width="4.5" height="4.5" fill="#f2fa00"/><rect x="89" y="328" width="4.5" height="4.5" fill="#fbe900"/><rect x="93" y="328" width="4.5" height="4.5" fill="#fdca00"/><rect x="97" y="328" width="4.5" height="4.5" fill="#ffa700"/><rect x="101" y="328" width="4.5" height="4.5" fill="#ff8500"/><rect x="105" y="328" width="4.5" height="4.5" fill="#fc6901"/><rect x="109" y="328" width="4.5" height="4.5" fill="#f95603"/><rect x="113" y="328" width="4.5" height="4.5" fill="#f84e04"/><rect x="117" y="328" width="4.5" height="4.5" fill="#f95203"/><rect x="121" y="328" width="4.5" height="4.5" fill="#fb6202"/><rect x="125" y="328" width="4.5" height="4.5" fill="#ff7c00"/><rect x="129" y="328" width="4.5" height="4.5" fill="#ff9d00"/><rect x="133" y="328" width="4.5" height="4.5" fill="#fec100"/><rect x="137" y="328" width="4.5" height="4.5" fill="#fbe200"/><rect x="141" y="328" width="4.5" height="4.5" fill="#eefa00"/><rect x="145" y="328" width="4.5" height="4.5" fill="#c8fa00"/><rect x="149" y="328" width="4.5" height="4.5" fill="#a5fa00"/><rect x="153" y="328" width="4.5" height="4.5" fill="#7efa00"/><rect x="157" y="328" width="4.5" height="4.5" fill="#56fc00"/><rect x="161" y="328" width="4.5" height="4.5" fill="#43fc00"/><rect x="165" y="328" width="4.5" height="4.5" fill="#3cfd00"/><rect x="169" y="328" width="4.5" height="4.5" fill="#34fd00"/><rect x="173" y="328" width="4.5" height="4.5" fill="#2bfd00"/><rect x="177" y="328" width="4.5" height="4.5" fill="#22fe00"/><rect x="181" y="328" width="4.5" height="4.5" fill="#1afe00"/><rect x="185" y="328" width="4.5" height="4.5" fill="#12fe00"/><rect x="189" y="328" width="4.5" height="4.5" fill="#0bfe00"/><rect x="193" y="328" width="4.5" height="4.5" fill="#09ff02"/><rect x="197" y="328" width="4.5" height="4.5" fill="#08ff06"/><rect x="201" y="328" width="4.5" height="4.5" fill="#08ff0a"/><rect x="205" y="328" width="4.5" height="4.5" fill="#07ff10"/><rect x="209" y="328" width="4.5" height="4.5" fill="#06ff17"/><rect x="213" y="328" width="4.5" height="4.5" fill="#04ff20"/><rect x="217" y="328" width="4.5" height="4.5" fill="#02ff2b"/><rect x="221" y="328" width="4.5" height="4.5" fill="#00ff38"/><rect x="225" y="328" width="4.5" height="4.5" fill="#00ff4f"/><rect x="229" y="328" width="4.5" height="4.5" fill="#00ff66"/><rect x="233" y="328" width="4.5" height="4.5" fill="#00ff78"/><rect x="237" y="328" width="4.5" height="4.5" fill="#00ff84"/><rect x="241" y="328" width="4.5" height="4.5" fill="#00ff8d"/><rect x="245" y="328" width="4.5" height="4.5" fill="#00ff92"/><rect x="249" y="328" width="4.5" height="4.5" fill="#00ff93"/><rect x="253" y="328" width="4.5" height="4.5" fill="#00ff8f"/><rect x="257" y="328" width="4.5" height="4.5" fill="#00ff85"/><rect x="261" y="328" width="4.5" height="4.5" fill="#00ff76"/><rect x="265" y="328" width="4.5" height="4.5" fill="#00ff65"/></g></g>
<path d="M252.3,129.3 C249.4,129.8 241.4,130.9 234.7,132.0 C228.0,133.1 219.0,133.9 211.9,135.7 C204.8,137.5 197.7,140.4 192.0,142.8 C186.3,145.2 181.6,147.1 177.8,149.9 C174.0,152.7 171.6,156.2 169.2,159.8 C166.8,163.4 164.7,167.4 163.5,171.2 C162.3,175.0 161.8,178.8 162.1,182.6 C162.3,186.4 163.3,190.2 165.0,194.0 C166.7,197.8 169.5,202.1 172.1,205.4 C174.7,208.7 177.3,211.1 180.6,213.9 C183.9,216.7 187.7,219.8 192.0,222.4 C196.3,225.0 201.4,227.7 206.2,229.6 C210.9,231.5 215.8,233.1 220.5,233.8 C225.2,234.5 230.0,234.8 234.7,233.8 C239.4,232.9 245.4,229.9 248.9,228.1 C252.4,226.3 254.6,224.0 255.7,223.2" fill="none" stroke="#111" stroke-width="3.3" stroke-dasharray="11.5 6.5"/><path d="M80.3,322 C80.5,321.6 79.6,324.1 81.2,319.5 C82.8,314.9 86.8,302.9 89.9,294.6 C93.0,286.3 96.6,277.7 99.9,269.8 C103.2,261.9 106.1,253.2 109.8,247.4 C113.5,241.6 117.6,237.7 122.2,234.9 C126.8,232.1 131.8,230.9 137.2,230.4 C142.6,229.9 149.2,230.7 154.6,231.9 C160.0,233.1 164.5,234.8 169.5,237.4 C174.5,240.0 179.8,244.1 184.4,247.4 C189.0,250.7 193.4,253.8 196.9,257.3 C200.4,260.8 203.7,264.8 205.6,268.5 C207.5,272.2 207.9,274.5 208.1,279.7 C208.3,284.9 207.9,293.0 206.8,299.6 C205.8,306.2 202.7,315.8 201.8,319.5 C200.9,323.2 201.4,321.6 201.3,322.0" fill="none" stroke="#111" stroke-width="3.3" stroke-dasharray="11.5 6.5"/><path d="M174.70,174.50 L174.70,183.70 M170.20,176.50 L179.20,181.70 M170.20,181.70 L179.20,176.50" stroke="#0a0a30" stroke-width="1.8" stroke-linecap="round" fill="none"/>
<line x1="37" y1="116" x2="258.5" y2="116" stroke="#222" stroke-width="1.2"/><line x1="36.5" y1="116" x2="36.5" y2="322" stroke="#333" stroke-width="1.2"/><line x1="48.1775" y1="113.5" x2="48.1775" y2="116" stroke="#333" stroke-width="1"/><line x1="67.285" y1="109" x2="67.285" y2="116" stroke="#333" stroke-width="1"/><text x="67.485" y="111.9" font-size="10.8" text-anchor="middle" textLength="13" lengthAdjust="spacingAndGlyphs">50</text><line x1="86.3925" y1="113.5" x2="86.3925" y2="116" stroke="#333" stroke-width="1"/><line x1="105.5" y1="109" x2="105.5" y2="116" stroke="#333" stroke-width="1"/><text x="105.7" y="111.9" font-size="10.8" text-anchor="middle" textLength="19.2" lengthAdjust="spacingAndGlyphs">100</text><line x1="124.608" y1="113.5" x2="124.608" y2="116" stroke="#333" stroke-width="1"/><line x1="143.715" y1="109" x2="143.715" y2="116" stroke="#333" stroke-width="1"/><text x="143.915" y="111.9" font-size="10.8" text-anchor="middle" textLength="19.2" lengthAdjust="spacingAndGlyphs">150</text><line x1="162.822" y1="113.5" x2="162.822" y2="116" stroke="#333" stroke-width="1"/><line x1="181.93" y1="109" x2="181.93" y2="116" stroke="#333" stroke-width="1"/><text x="182.13" y="111.9" font-size="10.8" text-anchor="middle" textLength="19.2" lengthAdjust="spacingAndGlyphs">200</text><line x1="201.037" y1="113.5" x2="201.037" y2="116" stroke="#333" stroke-width="1"/><line x1="220.145" y1="109" x2="220.145" y2="116" stroke="#333" stroke-width="1"/><text x="220.345" y="111.9" font-size="10.8" text-anchor="middle" textLength="19.2" lengthAdjust="spacingAndGlyphs">250</text><line x1="239.252" y1="113.5" x2="239.252" y2="116" stroke="#333" stroke-width="1"/><line x1="258.36" y1="109" x2="258.36" y2="116" stroke="#333" stroke-width="1"/><text x="258.56" y="111.9" font-size="10.8" text-anchor="middle" textLength="19.2" lengthAdjust="spacingAndGlyphs">300</text><line x1="34" y1="121.2" x2="36.5" y2="121.2" stroke="#333" stroke-width="1"/><line x1="32.5" y1="136.6" x2="36.5" y2="136.6" stroke="#333" stroke-width="1"/><text x="32.3" y="140.5" font-size="10.6" text-anchor="end">1.2</text><line x1="34" y1="152" x2="36.5" y2="152" stroke="#333" stroke-width="1"/><line x1="32.5" y1="167.4" x2="36.5" y2="167.4" stroke="#333" stroke-width="1"/><text x="32.3" y="171.3" font-size="10.6" text-anchor="end">1.5</text><line x1="34" y1="182.8" x2="36.5" y2="182.8" stroke="#333" stroke-width="1"/><line x1="32.5" y1="198.2" x2="36.5" y2="198.2" stroke="#333" stroke-width="1"/><text x="32.3" y="202.1" font-size="10.6" text-anchor="end">1.8</text><line x1="34" y1="213.6" x2="36.5" y2="213.6" stroke="#333" stroke-width="1"/><line x1="32.5" y1="229" x2="36.5" y2="229" stroke="#333" stroke-width="1"/><text x="32.3" y="232.9" font-size="10.6" text-anchor="end">2.1</text><line x1="34" y1="244.4" x2="36.5" y2="244.4" stroke="#333" stroke-width="1"/><line x1="32.5" y1="259.8" x2="36.5" y2="259.8" stroke="#333" stroke-width="1"/><text x="32.3" y="263.7" font-size="10.6" text-anchor="end">2.4</text><line x1="34" y1="275.2" x2="36.5" y2="275.2" stroke="#333" stroke-width="1"/><line x1="32.5" y1="290.6" x2="36.5" y2="290.6" stroke="#333" stroke-width="1"/><text x="32.3" y="294.5" font-size="10.6" text-anchor="end">2.7</text><line x1="34" y1="306" x2="36.5" y2="306" stroke="#333" stroke-width="1"/><line x1="32.5" y1="321.4" x2="36.5" y2="321.4" stroke="#333" stroke-width="1"/><text x="32.3" y="325.3" font-size="10.6" text-anchor="end">3.0</text>
<text x="97.4" y="91.2" font-size="13.3" textLength="122.2" lengthAdjust="spacingAndGlyphs">ETL thickness [nm]</text><text transform="translate(11.9 273.8) rotate(-90)" font-size="12.4" textLength="144.6" lengthAdjust="spacingAndGlyphs">Refractive index [RIU]</text><text x="114.3" y="337.6" font-size="13.2" textLength="75.3" lengthAdjust="spacingAndGlyphs">Unpolarized</text><text x="24.7" y="18.9" font-size="18.6">a</text>
<defs><linearGradient id="cb" x1="0" y1="0" x2="0" y2="1"><stop offset="0" stop-color="#f0140a"/><stop offset="0.11" stop-color="#ff7800"/><stop offset="0.19" stop-color="#ffbe00"/><stop offset="0.27" stop-color="#fafa00"/><stop offset="0.37" stop-color="#96fa00"/><stop offset="0.47" stop-color="#0aff00"/><stop offset="0.56" stop-color="#00ff3c"/><stop offset="0.67" stop-color="#00ffaf"/><stop offset="0.75" stop-color="#00f0ff"/><stop offset="0.83" stop-color="#00a0ff"/><stop offset="0.92" stop-color="#003cff"/><stop offset="1" stop-color="#0a0ad7"/></linearGradient></defs><rect x="267.5" y="141.3" width="20" height="155.5" fill="url(#cb)"/><text x="291.5" y="145.6" font-size="9.6">8.194</text><text x="291.5" y="164.1" font-size="9.6">8.096</text><text x="291.5" y="192" font-size="9.6">7.952</text><text x="291.5" y="219.6" font-size="9.6">7.808</text><text x="291.5" y="247.8" font-size="9.6">7.664</text><text x="291.5" y="274.4" font-size="9.6">7.520</text><text x="291.5" y="302" font-size="9.6">7.376</text><text transform="translate(320.9 143.3) rotate(90)" font-size="13.75">Current loss [mA/cm<tspan font-size="8.5" dy="-5.5">2</tspan><tspan dy="5.5">]</tspan></text>
<path d="M424.0,172.3C424.4,172.3 424.5,172.5 426.3,172.1C428.1,171.7 432.0,170.9 434.9,170.0C437.8,169.1 440.6,167.7 443.4,166.8C446.2,165.9 449.1,165.1 451.9,164.6C454.7,164.1 457.5,164.1 460.4,163.6C463.2,163.1 466.5,162.1 469.0,161.4C471.5,160.7 473.3,160.4 475.4,159.3C477.5,158.2 479.3,156.6 481.8,155.0C484.3,153.4 487.5,151.3 490.3,149.7C493.1,148.1 496.0,146.8 498.8,145.4C501.6,144.0 504.8,142.3 507.3,141.2C509.8,140.1 511.7,139.2 513.7,138.6C515.7,138.0 517.7,138.1 519.1,137.5C520.5,136.9 521.4,136.4 522.3,134.8C523.1,133.2 523.5,130.8 524.2,128.0C524.9,125.2 525.7,121.9 526.4,117.7C527.1,113.5 527.8,107.4 528.5,102.8C529.2,98.2 529.8,95.7 530.7,90.0C531.6,84.3 532.9,76.0 533.9,68.9C534.9,61.8 536.0,53.3 537.0,47.6C538.0,41.9 539.0,38.2 540.2,34.8C541.5,31.4 543.2,28.5 544.5,27.4C545.8,26.3 546.5,27.7 547.7,28.0C549.0,28.3 550.6,29.4 552.0,29.1C553.4,28.8 554.8,27.5 556.2,26.3C557.6,25.1 559.1,23.1 560.5,22.0C561.9,20.9 563.4,20.2 564.8,19.9C566.2,19.6 567.6,20.1 569.0,20.3C570.4,20.5 571.7,20.9 573.3,21.0C574.9,21.1 577.0,20.8 578.6,21.0C580.2,21.2 581.5,21.3 582.9,22.5C584.3,23.7 585.7,26.2 587.1,28.4C588.5,30.6 590.0,33.6 591.4,35.9C592.8,38.2 594.3,39.8 595.7,42.3C597.1,44.8 598.7,46.7 599.9,50.8C601.1,54.9 602.2,61.6 603.1,66.8C604.0,72.0 604.6,77.0 605.3,81.7C606.0,86.4 606.9,91.5 607.4,95.0C607.9,98.5 607.9,99.4 608.4,102.8C608.9,106.2 609.7,110.6 610.6,115.6C611.5,120.6 612.7,128.5 613.8,132.6C614.9,136.7 616.1,138.3 617.0,140.1C617.9,141.9 618.2,142.1 619.2,143.2C620.2,144.2 621.7,145.1 622.8,146.4C623.9,147.7 624.7,148.9 625.6,150.9C626.5,152.9 627.4,155.8 628.3,158.2C629.2,160.6 630.1,163.5 631.0,165.5C631.9,167.5 632.7,169.1 633.8,170.1C634.9,171.1 635.7,171.4 637.4,171.7C639.1,172.0 642.7,171.9 643.8,171.9" fill="none" stroke="#000000" stroke-width="2.3" stroke-linejoin="round" stroke-linecap="round"/><path d="M408.2,144.4C409.1,143.9 411.9,142.4 413.5,141.2C415.1,139.9 416.4,138.7 417.8,136.9C419.2,135.1 420.7,133.3 422.1,130.5C423.5,127.7 425.1,123.8 426.3,119.9C427.5,116.0 428.6,111.0 429.5,107.1C430.4,103.2 430.6,101.3 431.7,96.4C432.8,91.5 434.3,83.8 435.9,77.5C437.5,71.2 439.4,63.8 441.2,58.3C443.0,52.8 444.8,47.9 446.6,44.4C448.4,40.9 449.9,38.8 451.9,37.0C453.8,35.2 456.2,34.8 458.3,33.8C460.4,32.8 462.6,31.6 464.7,31.0C466.8,30.4 469.0,30.0 471.1,30.0C473.2,30.0 475.4,30.0 477.5,31.0C479.6,32.0 481.8,34.3 483.9,35.9C486.0,37.5 488.2,39.5 490.3,40.8C492.4,42.1 494.6,43.1 496.7,43.8C498.8,44.5 501.0,44.3 503.1,44.9C505.2,45.5 507.4,46.5 509.5,47.2C511.6,47.9 513.9,48.4 515.9,49.1C517.9,49.8 519.8,50.1 521.2,51.5C522.6,52.9 523.4,53.7 524.4,57.3C525.4,60.9 526.5,66.9 527.5,73.2C528.5,79.5 529.6,87.9 530.7,95.0C531.8,102.1 532.9,107.5 533.9,115.6C534.9,123.6 536.0,135.1 537.0,143.3C538.0,151.5 539.5,159.8 540.2,164.6C540.9,169.4 541.1,170.8 541.3,172.0" fill="none" stroke="#dc2222" stroke-width="2.3" stroke-linejoin="round" stroke-linecap="round"/><path d="M408.2,109.2C409.1,110.6 411.6,114.3 413.5,117.7C415.4,121.1 417.8,125.5 419.9,129.4C422.0,133.3 424.2,137.1 426.3,141.2C428.4,145.3 430.8,150.4 432.7,154.0C434.6,157.6 436.2,160.2 438.0,162.5C439.8,164.8 441.4,166.5 443.4,167.8C445.4,169.2 447.3,169.9 449.8,170.6C452.3,171.3 434.9,172.0 458.3,172.1C481.7,172.2 565.8,171.9 590.0,171.4C614.2,170.9 600.4,169.7 603.7,169.2C607.0,168.7 608.0,168.9 610.0,168.3C612.0,167.7 613.8,166.5 615.5,165.5C617.2,164.5 618.6,163.2 620.0,162.3C621.4,161.4 622.4,160.3 623.7,160.2C625.0,160.1 626.8,161.1 628.0,161.5C629.2,161.9 629.7,162.5 631.0,162.8C632.3,163.1 634.2,164.0 635.6,163.2C637.0,162.4 638.1,159.8 639.2,158.2C640.3,156.6 641.6,154.9 642.4,153.7C643.2,152.5 643.6,151.4 643.8,150.9" fill="none" stroke="#1e1ef0" stroke-width="2.3" stroke-linejoin="round" stroke-linecap="round"/><path d="M408.5,172.2C438.8,172.0 558.2,171.6 590.0,171.0C621.8,170.4 596.1,169.5 599.1,168.7C602.1,167.9 605.5,167.4 608.2,166.4C610.9,165.4 613.4,163.9 615.5,162.8C617.6,161.7 619.5,160.5 621.0,160.0C622.5,159.5 623.4,159.4 624.6,159.6C625.8,159.8 626.9,160.4 628.3,161.0C629.7,161.6 631.1,162.6 632.8,163.2C634.5,163.8 636.5,164.3 638.3,164.4C640.1,164.5 642.9,164.0 643.8,163.9" fill="none" stroke="#10107e" stroke-width="2.3" stroke-linejoin="round" stroke-linecap="round"/><path d="M408.5,171.6C413.8,171.6 431.4,171.6 440.0,171.7C448.6,171.8 426.0,172.2 460.0,172.3C494.0,172.4 613.2,172.3 643.8,172.3" fill="none" stroke="#1a8c1a" stroke-width="2.3" stroke-linejoin="round" stroke-linecap="round"/><path d="M408.2,151.8C409.1,151.1 411.9,148.8 413.5,147.6C415.1,146.4 416.4,145.8 417.8,144.4C419.2,143.0 420.7,141.0 422.1,139.0C423.5,137.0 425.1,134.0 426.3,132.6C427.5,131.2 428.5,130.8 429.5,130.5C430.5,130.2 431.4,129.4 432.3,130.5C433.2,131.6 434.1,134.1 434.9,136.9C435.7,139.8 436.3,144.1 437.0,147.6C437.7,151.1 438.3,155.2 439.1,158.2C439.9,161.2 440.8,164.3 441.7,165.7C442.6,167.1 443.2,166.8 444.4,166.8C445.6,166.8 446.9,166.1 448.7,165.7C450.5,165.3 453.2,164.2 455.1,164.2C457.1,164.2 458.4,164.9 460.4,165.7C462.3,166.5 464.7,168.1 466.8,168.9C468.9,169.7 470.7,170.2 473.2,170.6C475.7,171.0 462.3,171.3 481.8,171.4C501.3,171.5 568.9,171.6 590.0,171.4C611.1,171.2 603.7,170.9 608.2,170.5C612.8,170.1 614.6,169.5 617.3,169.0C620.0,168.5 622.6,168.1 624.6,167.3C626.6,166.5 627.8,165.7 629.2,164.2C630.6,162.7 631.6,159.9 632.8,158.2C634.0,156.4 635.3,154.8 636.5,153.7C637.7,152.6 638.9,152.0 640.1,151.4C641.3,150.8 643.2,150.2 643.8,150.0" fill="none" stroke="#e52ae5" stroke-width="2.3" stroke-linejoin="round" stroke-linecap="round"/><path d="M408.2,126.2C409.1,126.2 411.9,125.8 413.5,126.2C415.1,126.6 416.4,127.0 417.8,128.4C419.2,129.8 420.7,132.3 422.1,134.8C423.5,137.3 424.9,140.8 426.3,143.3C427.7,145.8 429.2,147.6 430.6,149.7C432.0,151.8 433.5,155.6 434.9,156.1C436.3,156.6 437.7,153.5 439.1,152.9C440.5,152.3 442.1,151.8 443.4,152.3C444.6,152.8 445.4,154.2 446.6,156.1C447.8,158.0 449.2,161.6 450.8,163.6C452.4,165.6 453.9,166.7 456.2,167.8C458.5,168.9 461.5,169.5 464.7,170.0C467.9,170.5 471.1,170.8 475.4,171.0C479.7,171.2 485.0,171.4 490.3,171.4C495.6,171.4 502.4,171.1 507.3,171.0C512.2,170.9 516.5,171.1 520.0,170.6C523.5,170.1 526.0,169.0 528.5,167.8C531.0,166.6 532.9,165.0 534.9,163.5C536.9,162.0 538.6,159.6 540.2,158.6C541.8,157.6 542.9,157.4 544.5,157.3C546.1,157.2 548.2,157.3 549.8,157.8C551.4,158.3 552.7,159.2 554.1,160.3C555.5,161.4 556.6,163.3 558.4,164.6C560.2,165.8 562.7,167.5 564.8,167.8C566.9,168.1 569.1,166.5 571.2,166.3C573.3,166.1 575.9,166.6 577.5,166.7C579.1,166.8 579.4,167.5 580.9,166.6C582.4,165.7 584.6,163.4 586.4,161.1C588.2,158.8 590.1,155.6 591.9,152.9C593.7,150.2 595.7,147.9 597.3,144.7C598.9,141.5 600.2,137.9 601.4,133.8C602.5,129.7 603.3,125.1 604.2,120.1C605.1,115.1 606.0,109.6 606.9,103.7C607.8,97.8 608.7,90.1 609.6,84.6C610.5,79.1 611.3,74.2 612.3,70.9C613.3,67.6 614.6,65.4 615.6,64.6C616.6,63.8 617.5,65.6 618.5,66.0C619.5,66.4 620.4,66.8 621.3,67.0C622.1,67.2 622.8,68.0 623.6,67.3C624.4,66.6 625.4,64.4 626.0,62.7C626.6,61.0 626.9,58.7 627.4,57.0C627.9,55.3 628.3,53.6 628.9,52.3C629.5,51.0 630.0,49.9 630.8,49.0C631.6,48.1 632.8,46.6 633.8,46.8C634.8,47.0 636.1,49.2 636.9,50.4C637.7,51.6 638.2,53.0 638.8,54.2C639.3,55.4 639.7,56.3 640.2,57.5C640.7,58.7 641.3,60.0 641.9,61.3C642.5,62.5 643.6,64.4 644.0,65.0" fill="none" stroke="#8436d0" stroke-width="2.3" stroke-dasharray="0 3.6" stroke-linecap="round" stroke-linejoin="round"/>
<rect x="408.8" y="9.7" width="235.7" height="163.5" fill="none" stroke="#999" stroke-width="1"/><line x1="408.8" y1="9.2" x2="408.8" y2="173.2" stroke="#666" stroke-width="1.5"/><line x1="408.8" y1="173.2" x2="645" y2="173.2" stroke="#666" stroke-width="1.5"/><line x1="405.3" y1="173.2" x2="408.8" y2="173.2" stroke="#555" stroke-width="1"/><text x="402.6" y="176.9" font-size="11.4" text-anchor="end" textLength="17.4" lengthAdjust="spacingAndGlyphs">0.0</text><line x1="406.8" y1="156.85" x2="408.8" y2="156.85" stroke="#555" stroke-width="1"/><line x1="405.3" y1="140.5" x2="408.8" y2="140.5" stroke="#555" stroke-width="1"/><text x="402.6" y="144.2" font-size="11.4" text-anchor="end" textLength="17.4" lengthAdjust="spacingAndGlyphs">0.2</text><line x1="406.8" y1="124.15" x2="408.8" y2="124.15" stroke="#555" stroke-width="1"/><line x1="405.3" y1="107.8" x2="408.8" y2="107.8" stroke="#555" stroke-width="1"/><text x="402.6" y="111.5" font-size="11.4" text-anchor="end" textLength="17.4" lengthAdjust="spacingAndGlyphs">0.4</text><line x1="406.8" y1="91.45" x2="408.8" y2="91.45" stroke="#555" stroke-width="1"/><line x1="405.3" y1="75.1" x2="408.8" y2="75.1" stroke="#555" stroke-width="1"/><text x="402.6" y="78.8" font-size="11.4" text-anchor="end" textLength="17.4" lengthAdjust="spacingAndGlyphs">0.6</text><line x1="406.8" y1="58.75" x2="408.8" y2="58.75" stroke="#555" stroke-width="1"/><line x1="405.3" y1="42.4" x2="408.8" y2="42.4" stroke="#555" stroke-width="1"/><text x="402.6" y="46.1" font-size="11.4" text-anchor="end" textLength="17.4" lengthAdjust="spacingAndGlyphs">0.8</text><line x1="406.8" y1="26.05" x2="408.8" y2="26.05" stroke="#555" stroke-width="1"/><line x1="405.3" y1="9.7" x2="408.8" y2="9.7" stroke="#555" stroke-width="1"/><text x="402.6" y="13.4" font-size="11.4" text-anchor="end" textLength="17.4" lengthAdjust="spacingAndGlyphs">1.0</text><line x1="408.8" y1="173.2" x2="408.8" y2="175.2" stroke="#555" stroke-width="1"/><line x1="434.989" y1="173.2" x2="434.989" y2="176.2" stroke="#555" stroke-width="1"/><text x="434.989" y="187.1" font-size="10.1" text-anchor="middle" textLength="19.8" lengthAdjust="spacingAndGlyphs">400</text><line x1="461.178" y1="173.2" x2="461.178" y2="175.2" stroke="#555" stroke-width="1"/><line x1="487.367" y1="173.2" x2="487.367" y2="176.2" stroke="#555" stroke-width="1"/><text x="487.367" y="187.1" font-size="10.1" text-anchor="middle" textLength="19.8" lengthAdjust="spacingAndGlyphs">600</text><line x1="513.556" y1="173.2" x2="513.556" y2="175.2" stroke="#555" stroke-width="1"/><line x1="539.744" y1="173.2" x2="539.744" y2="176.2" stroke="#555" stroke-width="1"/><text x="539.744" y="187.1" font-size="10.1" text-anchor="middle" textLength="19.8" lengthAdjust="spacingAndGlyphs">800</text><line x1="565.933" y1="173.2" x2="565.933" y2="175.2" stroke="#555" stroke-width="1"/><line x1="592.122" y1="173.2" x2="592.122" y2="176.2" stroke="#555" stroke-width="1"/><text x="592.122" y="187.1" font-size="10.1" text-anchor="middle" textLength="26.2" lengthAdjust="spacingAndGlyphs">1000</text><line x1="618.311" y1="173.2" x2="618.311" y2="175.2" stroke="#555" stroke-width="1"/><line x1="644.5" y1="173.2" x2="644.5" y2="176.2" stroke="#555" stroke-width="1"/><text x="644.5" y="187.1" font-size="10.1" text-anchor="middle" textLength="26.2" lengthAdjust="spacingAndGlyphs">1200</text><text x="503.6" y="202.6" font-size="11.5" font-weight="normal">&#955;</text><text x="513.2" y="202.6" font-size="10.6" textLength="24.2" lengthAdjust="spacingAndGlyphs">[nm]</text><text transform="translate(376.7 120.2) rotate(-90)" font-size="12.2" textLength="30.9" lengthAdjust="spacingAndGlyphs">Abs,R</text><text transform="translate(379.7 86) rotate(-90)" font-size="11" textLength="13.2" lengthAdjust="spacingAndGlyphs">tot</text><text x="357.8" y="18.2" font-size="18.5">b</text><text x="548.9" y="94.1" font-size="10.9" textLength="21.2" lengthAdjust="spacingAndGlyphs">ETL</text><text x="575.2" y="94.1" font-size="10.9" textLength="13.8" lengthAdjust="spacingAndGlyphs">TE</text>
<line x1="458.4" y1="61.7" x2="479.4" y2="61.7" stroke="#000000" stroke-width="2.4"/><text x="481.4" y="64.3" font-size="9.9">cSi</text><line x1="458.4" y1="73.65" x2="479.4" y2="73.65" stroke="#dc2222" stroke-width="2.4"/><text x="481.4" y="76.25" font-size="9.9">Pero</text><line x1="458.4" y1="85.6" x2="479.4" y2="85.6" stroke="#1e1ef0" stroke-width="2.4"/><text x="481.4" y="88.2" font-size="9.9">ITO</text><line x1="458.4" y1="97.55" x2="479.4" y2="97.55" stroke="#e52ae5" stroke-width="2.4"/><text x="481.4" y="100.15" font-size="9.9">S-O</text><line x1="458.4" y1="109.5" x2="479.4" y2="109.5" stroke="#1a8c1a" stroke-width="2.4"/><text x="481.4" y="112.1" font-size="9.9">TiO2</text><line x1="458.4" y1="121.45" x2="479.4" y2="121.45" stroke="#10107e" stroke-width="2.4"/><text x="481.4" y="124.05" font-size="9.9">Ag</text><line x1="459.4" y1="133.4" x2="479.4" y2="133.4" stroke="#8436d0" stroke-width="2.3" stroke-dasharray="0 3.6" stroke-linecap="round"/><text x="481.4" y="136" font-size="9.9">R</text>
<path d="M421.0,383.6C421.4,383.5 421.7,383.8 423.5,383.2C425.3,382.6 429.2,381.0 432.0,380.0C434.8,379.0 437.7,378.0 440.5,377.2C443.3,376.4 446.1,375.9 449.0,375.1C451.9,374.3 454.8,373.4 457.6,372.5C460.5,371.6 463.3,371.1 466.1,369.9C468.9,368.6 471.8,366.7 474.6,365.0C477.5,363.3 480.4,361.6 483.2,359.7C486.0,357.8 488.9,355.2 491.7,353.3C494.5,351.4 497.4,349.4 500.2,348.0C503.0,346.6 506.2,346.1 508.7,345.2C511.2,344.3 513.5,343.7 515.1,342.6C516.7,341.5 517.4,340.2 518.3,338.4C519.2,336.6 519.8,334.1 520.5,332.0C521.2,329.9 521.8,328.8 522.5,325.6C523.2,322.4 523.9,316.2 524.6,312.8C525.3,309.4 525.8,309.6 526.7,305.0C527.6,300.4 528.8,291.9 529.9,285.4C531.0,278.9 532.0,271.9 533.1,266.2C534.2,260.5 535.2,254.9 536.3,251.3C537.4,247.8 538.2,246.4 539.5,244.9C540.8,243.4 542.4,243.2 543.8,242.3C545.2,241.4 546.7,240.7 548.1,239.5C549.5,238.3 550.9,236.6 552.3,235.3C553.7,234.0 555.2,232.4 556.6,231.6C558.0,230.8 559.3,230.4 560.9,230.4C562.5,230.4 564.4,231.0 566.2,231.6C568.0,232.2 569.7,233.2 571.5,234.2C573.3,235.2 575.0,236.0 576.8,237.4C578.6,238.8 580.4,240.6 582.2,242.7C584.0,244.8 585.9,248.2 587.5,250.2C589.1,252.2 590.4,253.1 591.8,254.5C593.2,255.9 594.8,257.1 596.0,258.7C597.2,260.3 598.1,261.0 599.2,264.0C600.3,267.0 601.5,272.2 602.4,276.8C603.3,281.4 603.9,287.1 604.6,291.8C605.3,296.5 606.2,300.1 606.7,305.0C607.2,309.9 607.3,315.7 607.8,321.3C608.3,326.9 609.2,333.6 609.9,338.4C610.6,343.2 611.2,347.2 612.0,350.0C612.8,352.8 613.5,352.9 614.4,355.0C615.3,357.1 616.2,359.9 617.6,362.4C619.0,364.9 621.1,367.7 622.9,369.9C624.7,372.1 626.6,374.0 628.2,375.7C629.8,377.4 631.0,378.9 632.4,380.0C633.8,381.1 635.2,381.7 636.7,382.1C638.2,382.6 640.7,382.6 641.5,382.7" fill="none" stroke="#000000" stroke-width="2.3" stroke-linejoin="round" stroke-linecap="round"/><path d="M406.4,353.3C407.1,353.1 409.3,352.9 410.7,352.2C412.1,351.5 413.5,350.6 414.9,349.0C416.3,347.4 417.8,345.4 419.2,342.6C420.6,339.8 422.2,335.6 423.5,332.0C424.8,328.4 425.6,325.2 426.7,321.3C427.8,317.4 429.0,313.4 429.9,308.5C430.8,303.6 431.1,297.1 432.0,291.8C432.9,286.5 434.1,281.8 435.2,276.8C436.3,271.8 437.3,266.3 438.4,261.9C439.5,257.5 440.5,253.0 441.6,250.2C442.7,247.4 443.7,246.3 444.8,244.9C445.9,243.5 447.1,242.4 448.0,241.7C448.9,241.0 449.6,240.4 450.5,240.6C451.4,240.8 452.3,242.6 453.3,243.1C454.3,243.6 455.2,244.0 456.5,243.8C457.8,243.6 459.6,242.1 460.8,242.1C462.1,242.1 462.9,243.5 464.0,243.8C465.1,244.1 466.0,243.3 467.2,243.8C468.4,244.3 469.8,245.9 471.4,247.0C473.0,248.1 474.8,249.6 476.8,250.2C478.8,250.8 481.4,250.5 483.2,250.8C485.0,251.2 485.6,251.2 487.4,252.3C489.2,253.4 491.7,256.2 493.8,257.6C495.9,259.0 498.1,259.9 500.2,260.8C502.3,261.7 504.5,262.3 506.6,263.0C508.7,263.7 511.2,264.3 513.0,265.1C514.8,265.9 516.1,266.4 517.3,267.6C518.5,268.9 519.3,270.7 520.0,272.6C520.7,274.5 520.6,275.4 521.4,279.0C522.2,282.6 523.7,289.6 524.6,293.9C525.5,298.2 526.0,301.9 526.7,305.0C527.4,308.1 528.0,307.6 528.9,312.8C529.8,318.0 531.0,328.5 532.1,336.3C533.2,344.1 534.4,353.3 535.3,359.7C536.2,366.1 536.8,370.7 537.4,374.6C538.0,378.5 538.6,381.6 538.9,383.0" fill="none" stroke="#dc2222" stroke-width="2.3" stroke-linejoin="round" stroke-linecap="round"/><path d="M406.4,321.3C407.5,322.7 410.7,326.9 412.8,329.9C414.9,332.9 417.1,335.8 419.2,339.4C421.3,342.9 423.5,347.1 425.6,351.2C427.7,355.3 430.1,360.3 432.0,364.0C433.9,367.7 435.5,371.1 437.3,373.6C439.1,376.1 440.7,377.5 442.6,378.9C444.6,380.3 446.5,381.4 449.0,382.1C451.5,382.8 449.1,383.0 457.6,383.2C466.1,383.4 478.7,383.4 500.0,383.4C521.3,383.4 569.6,383.5 585.6,383.2C601.6,382.9 592.8,382.2 596.3,381.6C599.8,381.0 603.3,380.1 606.9,379.5C610.5,378.9 614.4,378.5 617.6,377.9C620.8,377.3 623.7,376.2 626.0,375.7C628.3,375.2 629.6,375.3 631.4,374.7C633.2,374.1 635.1,373.3 636.7,372.0C638.3,370.7 640.3,367.6 641.0,366.7" fill="none" stroke="#1e1ef0" stroke-width="2.3" stroke-linejoin="round" stroke-linecap="round"/><path d="M406.4,383.3C432.0,383.3 531.9,383.3 560.0,383.3C588.1,383.3 570.7,383.3 575.0,383.2C579.3,383.1 582.1,383.4 585.6,382.7C589.1,382.0 592.8,380.1 596.3,378.9C599.8,377.6 603.3,376.3 606.9,375.2C610.5,374.1 614.4,372.9 617.6,372.0C620.8,371.1 623.5,370.2 626.0,369.9C628.5,369.5 630.3,369.7 632.4,369.9C634.5,370.1 637.3,370.8 638.8,371.0C640.3,371.2 641.0,371.0 641.5,371.0" fill="none" stroke="#10107e" stroke-width="2.3" stroke-linejoin="round" stroke-linecap="round"/><path d="M406.4,382.8C445.5,382.8 602.1,383.0 641.3,383.0" fill="none" stroke="#1a8c1a" stroke-width="2.3" stroke-linejoin="round" stroke-linecap="round"/><path d="M406.4,367.2C407.1,366.3 409.3,363.6 410.7,361.8C412.1,360.0 413.5,358.4 414.9,356.5C416.3,354.6 417.8,352.2 419.2,350.1C420.6,348.0 422.2,345.2 423.5,343.7C424.8,342.2 425.6,340.7 426.7,340.9C427.8,341.1 428.8,342.4 429.9,344.8C430.9,347.2 431.9,351.8 433.0,355.4C434.1,358.9 434.9,362.7 436.2,366.1C437.4,369.5 438.9,373.9 440.5,375.7C442.1,377.5 443.7,377.1 445.8,377.2C447.9,377.3 451.3,376.2 453.3,376.3C455.3,376.4 455.8,377.1 457.6,377.8C459.4,378.5 461.5,380.0 464.0,380.6C466.5,381.2 469.8,381.1 472.5,381.4C475.2,381.7 475.4,382.0 480.0,382.4C484.6,382.8 484.2,383.4 500.0,383.6C515.8,383.8 559.8,383.7 575.0,383.6C590.2,383.5 586.6,383.9 591.0,382.9C595.4,381.8 599.0,378.7 601.6,377.3C604.2,375.9 605.1,374.9 606.9,374.7C608.7,374.5 610.4,375.8 612.2,376.3C614.0,376.8 615.8,377.9 617.6,377.9C619.4,377.9 621.1,376.8 622.9,376.3C624.7,375.8 626.4,374.8 628.2,374.7C630.0,374.6 631.9,375.2 633.5,375.7C635.1,376.2 636.5,377.1 637.8,377.9C639.1,378.7 640.9,380.1 641.5,380.5" fill="none" stroke="#e52ae5" stroke-width="2.3" stroke-linejoin="round" stroke-linecap="round"/><path d="M406.4,335.2C407.5,335.4 411.0,335.3 412.8,336.2C414.6,337.1 415.7,338.4 417.1,340.5C418.5,342.6 419.9,346.1 421.3,349.0C422.7,351.9 423.8,355.1 425.6,357.6C427.4,360.1 430.1,362.6 432.0,364.0C433.9,365.4 435.9,364.5 437.3,366.1C438.7,367.7 439.2,371.5 440.5,373.6C441.8,375.7 442.7,377.7 444.8,378.9C446.9,380.1 450.1,380.6 453.3,381.0C456.5,381.4 459.7,381.0 464.0,381.0C468.3,381.0 470.4,380.9 478.9,381.2C487.4,381.4 507.6,382.4 515.0,382.5C522.4,382.6 521.0,383.2 523.5,382.1C526.0,381.0 527.9,378.0 529.9,375.7C531.9,373.4 533.5,370.1 535.3,368.2C537.1,366.2 538.8,364.2 540.6,364.0C542.4,363.8 544.1,365.6 545.9,367.2C547.7,368.8 549.3,371.5 551.3,373.6C553.3,375.7 555.8,378.7 557.7,380.0C559.7,381.3 561.2,381.7 563.0,381.5C564.8,381.3 566.3,380.0 568.3,378.9C570.2,377.8 572.6,376.2 574.7,374.6C576.8,373.0 578.8,371.4 581.1,369.3C583.4,367.2 586.1,364.1 588.6,362.3C591.1,360.5 594.0,359.9 596.0,358.6C598.0,357.3 599.0,357.0 600.3,354.4C601.5,351.8 602.6,347.1 603.5,342.7C604.4,338.2 604.9,332.7 605.6,327.7C606.3,322.7 607.1,317.4 607.8,312.8C608.5,308.2 609.2,304.9 609.9,300.0C610.6,295.1 611.3,287.6 612.0,283.2C612.7,278.8 613.3,276.3 614.2,273.6C615.1,270.9 616.2,268.4 617.4,267.2C618.6,266.0 620.2,266.7 621.6,266.6C623.0,266.5 624.5,267.2 625.9,266.8C627.3,266.4 628.8,265.2 630.2,264.0C631.6,262.8 633.0,260.6 634.4,259.8C635.8,259.0 637.6,259.1 638.7,259.1C639.9,259.1 640.9,259.7 641.3,259.8" fill="none" stroke="#8436d0" stroke-width="2.3" stroke-dasharray="0 3.6" stroke-linecap="round" stroke-linejoin="round"/>
<rect x="406" y="221.4" width="235.3" height="162.8" fill="none" stroke="#999" stroke-width="1"/><line x1="406" y1="220.9" x2="406" y2="384.2" stroke="#666" stroke-width="1.5"/><line x1="406" y1="384.2" x2="641.8" y2="384.2" stroke="#666" stroke-width="1.5"/><line x1="402.5" y1="384.2" x2="406" y2="384.2" stroke="#555" stroke-width="1"/><text x="399.8" y="387.9" font-size="11.4" text-anchor="end" textLength="17.4" lengthAdjust="spacingAndGlyphs">0.0</text><line x1="404" y1="367.92" x2="406" y2="367.92" stroke="#555" stroke-width="1"/><line x1="402.5" y1="351.64" x2="406" y2="351.64" stroke="#555" stroke-width="1"/><text x="399.8" y="355.34" font-size="11.4" text-anchor="end" textLength="17.4" lengthAdjust="spacingAndGlyphs">0.2</text><line x1="404" y1="335.36" x2="406" y2="335.36" stroke="#555" stroke-width="1"/><line x1="402.5" y1="319.08" x2="406" y2="319.08" stroke="#555" stroke-width="1"/><text x="399.8" y="322.78" font-size="11.4" text-anchor="end" textLength="17.4" lengthAdjust="spacingAndGlyphs">0.4</text><line x1="404" y1="302.8" x2="406" y2="302.8" stroke="#555" stroke-width="1"/><line x1="402.5" y1="286.52" x2="406" y2="286.52" stroke="#555" stroke-width="1"/><text x="399.8" y="290.22" font-size="11.4" text-anchor="end" textLength="17.4" lengthAdjust="spacingAndGlyphs">0.6</text><line x1="404" y1="270.24" x2="406" y2="270.24" stroke="#555" stroke-width="1"/><line x1="402.5" y1="253.96" x2="406" y2="253.96" stroke="#555" stroke-width="1"/><text x="399.8" y="257.66" font-size="11.4" text-anchor="end" textLength="17.4" lengthAdjust="spacingAndGlyphs">0.8</text><line x1="404" y1="237.68" x2="406" y2="237.68" stroke="#555" stroke-width="1"/><line x1="402.5" y1="221.4" x2="406" y2="221.4" stroke="#555" stroke-width="1"/><text x="399.8" y="225.1" font-size="11.4" text-anchor="end" textLength="17.4" lengthAdjust="spacingAndGlyphs">1.0</text><line x1="406" y1="384.2" x2="406" y2="386.2" stroke="#555" stroke-width="1"/><line x1="432.144" y1="384.2" x2="432.144" y2="387.2" stroke="#555" stroke-width="1"/><text x="432.144" y="398.8" font-size="10.1" text-anchor="middle" textLength="19.8" lengthAdjust="spacingAndGlyphs">400</text><line x1="458.289" y1="384.2" x2="458.289" y2="386.2" stroke="#555" stroke-width="1"/><line x1="484.433" y1="384.2" x2="484.433" y2="387.2" stroke="#555" stroke-width="1"/><text x="484.433" y="398.8" font-size="10.1" text-anchor="middle" textLength="19.8" lengthAdjust="spacingAndGlyphs">600</text><line x1="510.578" y1="384.2" x2="510.578" y2="386.2" stroke="#555" stroke-width="1"/><line x1="536.722" y1="384.2" x2="536.722" y2="387.2" stroke="#555" stroke-width="1"/><text x="536.722" y="398.8" font-size="10.1" text-anchor="middle" textLength="19.8" lengthAdjust="spacingAndGlyphs">800</text><line x1="562.867" y1="384.2" x2="562.867" y2="386.2" stroke="#555" stroke-width="1"/><line x1="589.011" y1="384.2" x2="589.011" y2="387.2" stroke="#555" stroke-width="1"/><text x="589.011" y="398.8" font-size="10.1" text-anchor="middle" textLength="26.2" lengthAdjust="spacingAndGlyphs">1000</text><line x1="615.156" y1="384.2" x2="615.156" y2="386.2" stroke="#555" stroke-width="1"/><line x1="641.3" y1="384.2" x2="641.3" y2="387.2" stroke="#555" stroke-width="1"/><text x="641.3" y="398.8" font-size="10.1" text-anchor="middle" textLength="26.2" lengthAdjust="spacingAndGlyphs">1200</text><text x="505.8" y="418.2" font-size="11.5" font-weight="normal">&#955;</text><text x="515.4" y="418.2" font-size="10.6" textLength="24.2" lengthAdjust="spacingAndGlyphs">[nm]</text><text transform="translate(369.4 333.2) rotate(-90)" font-size="12.2" textLength="30.9" lengthAdjust="spacingAndGlyphs">Abs,R</text><text transform="translate(372.4 299) rotate(-90)" font-size="11" textLength="13.2" lengthAdjust="spacingAndGlyphs">tot</text><text x="357.6" y="219.3" font-size="18.5">c</text><text x="548.1" y="304.4" font-size="10.9" textLength="21.2" lengthAdjust="spacingAndGlyphs">ETL</text><text x="574" y="304.4" font-size="10.9" textLength="15.8" lengthAdjust="spacingAndGlyphs">TM</text>
<line x1="445" y1="271.6" x2="466" y2="271.6" stroke="#000000" stroke-width="2.4"/><text x="468" y="274.2" font-size="9.9">cSi</text><line x1="445" y1="283.55" x2="466" y2="283.55" stroke="#dc2222" stroke-width="2.4"/><text x="468" y="286.15" font-size="9.9">Pero</text><line x1="445" y1="295.5" x2="466" y2="295.5" stroke="#1e1ef0" stroke-width="2.4"/><text x="468" y="298.1" font-size="9.9">ITO</text><line x1="445" y1="307.45" x2="466" y2="307.45" stroke="#e52ae5" stroke-width="2.4"/><text x="468" y="310.05" font-size="9.9">S-O</text><line x1="445" y1="319.4" x2="466" y2="319.4" stroke="#1a8c1a" stroke-width="2.4"/><text x="468" y="322" font-size="9.9">TiO2</text><line x1="445" y1="331.35" x2="466" y2="331.35" stroke="#10107e" stroke-width="2.4"/><text x="468" y="333.95" font-size="9.9">Ag</text><line x1="446" y1="343.3" x2="466" y2="343.3" stroke="#8436d0" stroke-width="2.3" stroke-dasharray="0 3.6" stroke-linecap="round"/><text x="468" y="345.9" font-size="9.9">R</text>
</svg>
</body></html>
